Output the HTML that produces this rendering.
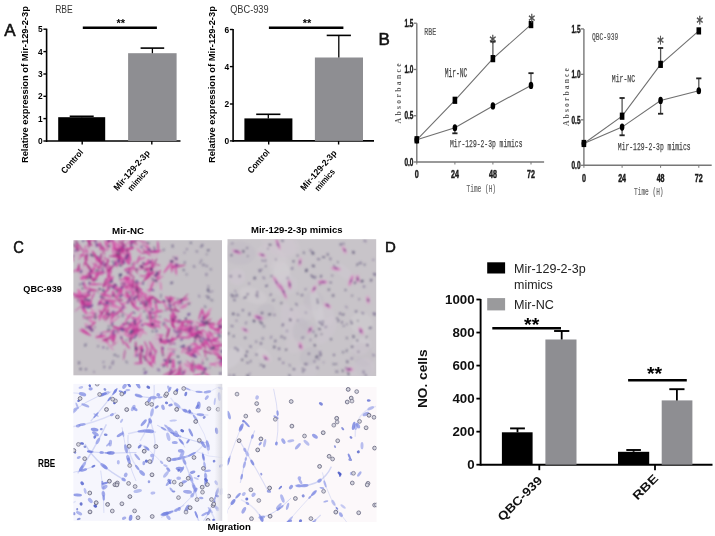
<!DOCTYPE html>
<html><head><meta charset="utf-8"><title>Figure</title>
<style>html,body{margin:0;padding:0;background:#fff;}svg{display:block;}</style></head>
<body><svg width="715" height="536" viewBox="0 0 715 536">
<rect width="715" height="536" fill="#fff"/>
<text x="4.3" y="36" font-family="'Liberation Sans', Arial, sans-serif" font-size="17" fill="#111" stroke="#111" stroke-width="0.55">A</text>
<text x="55.2" y="12.9" font-family="'Liberation Sans', Arial, sans-serif" font-size="10.4" fill="#333" textLength="17.6" lengthAdjust="spacingAndGlyphs">RBE</text>
<line x1="46.6" y1="28.7" x2="46.6" y2="142" stroke="#000" stroke-width="1.6"/>
<line x1="43.4" y1="141" x2="46.6" y2="141" stroke="#000" stroke-width="1.4"/>
<text x="42.6" y="144.0" font-family="'Liberation Sans', Arial, sans-serif" font-size="8.4" font-weight="bold" text-anchor="end" fill="#000">0</text>
<line x1="43.4" y1="118.6" x2="46.6" y2="118.6" stroke="#000" stroke-width="1.4"/>
<text x="42.6" y="121.6" font-family="'Liberation Sans', Arial, sans-serif" font-size="8.4" font-weight="bold" text-anchor="end" fill="#000">1</text>
<line x1="43.4" y1="96.3" x2="46.6" y2="96.3" stroke="#000" stroke-width="1.4"/>
<text x="42.6" y="99.3" font-family="'Liberation Sans', Arial, sans-serif" font-size="8.4" font-weight="bold" text-anchor="end" fill="#000">2</text>
<line x1="43.4" y1="74" x2="46.6" y2="74" stroke="#000" stroke-width="1.4"/>
<text x="42.6" y="77.0" font-family="'Liberation Sans', Arial, sans-serif" font-size="8.4" font-weight="bold" text-anchor="end" fill="#000">3</text>
<line x1="43.4" y1="51.6" x2="46.6" y2="51.6" stroke="#000" stroke-width="1.4"/>
<text x="42.6" y="54.6" font-family="'Liberation Sans', Arial, sans-serif" font-size="8.4" font-weight="bold" text-anchor="end" fill="#000">4</text>
<line x1="43.4" y1="29.2" x2="46.6" y2="29.2" stroke="#000" stroke-width="1.4"/>
<text x="42.6" y="32.2" font-family="'Liberation Sans', Arial, sans-serif" font-size="8.4" font-weight="bold" text-anchor="end" fill="#000">5</text>
<line x1="46.6" y1="141" x2="180.5" y2="141" stroke="#000" stroke-width="1.6"/>
<line x1="82.2" y1="141" x2="82.2" y2="144.6" stroke="#000" stroke-width="1.4"/>
<line x1="151.8" y1="141" x2="151.8" y2="144.6" stroke="#000" stroke-width="1.4"/>
<rect x="58.2" y="117.2" width="47.0" height="23.799999999999997" fill="#000"/>
<rect x="128.1" y="53.2" width="48.5" height="87.8" fill="#8e8e92"/>
<line x1="152.4" y1="53.2" x2="152.4" y2="48.1" stroke="#000" stroke-width="1.3"/>
<line x1="140.6" y1="48.1" x2="164.20000000000002" y2="48.1" stroke="#000" stroke-width="1.6"/>
<line x1="81.7" y1="117.2" x2="81.7" y2="116.3" stroke="#000" stroke-width="1.3"/>
<line x1="69.7" y1="116.3" x2="93.7" y2="116.3" stroke="#000" stroke-width="1.6"/>
<line x1="82.8" y1="27.7" x2="156.9" y2="27.7" stroke="#000" stroke-width="2.4"/>
<text x="120.8" y="27.2" font-family="'Liberation Sans', Arial, sans-serif" font-size="11" font-weight="bold" text-anchor="middle" fill="#000" textLength="8.6" lengthAdjust="spacingAndGlyphs">**</text>
<text transform="translate(28.0,84.6) rotate(-90)" font-family="'Liberation Sans', Arial, sans-serif" font-size="8.8" font-weight="bold" text-anchor="middle" fill="#000" textLength="157" lengthAdjust="spacingAndGlyphs">Relative expression of Mir-129-2-3p</text>
<text transform="translate(74.3,163.4) rotate(-49)" font-family="'Liberation Sans', Arial, sans-serif" font-size="8.9" font-weight="bold" text-anchor="middle" fill="#000" textLength="28.5" lengthAdjust="spacingAndGlyphs">Control</text>
<text transform="translate(133.9,172.3) rotate(-49)" font-family="'Liberation Sans', Arial, sans-serif" font-size="8.9" font-weight="bold" text-anchor="middle" fill="#000" textLength="50" lengthAdjust="spacingAndGlyphs">Mir-129-2-3p</text>
<text transform="translate(140.15,181.85) rotate(-49)" font-family="'Liberation Sans', Arial, sans-serif" font-size="8.8" font-weight="bold" text-anchor="middle" fill="#000" textLength="26" lengthAdjust="spacingAndGlyphs">mimics</text>
<text x="230.2" y="12.9" font-family="'Liberation Sans', Arial, sans-serif" font-size="10.4" fill="#333" textLength="38.4" lengthAdjust="spacingAndGlyphs">QBC-939</text>
<line x1="233.1" y1="29.0" x2="233.1" y2="141.9" stroke="#000" stroke-width="1.6"/>
<line x1="229.9" y1="140.9" x2="233.1" y2="140.9" stroke="#000" stroke-width="1.4"/>
<text x="229.1" y="143.9" font-family="'Liberation Sans', Arial, sans-serif" font-size="8.4" font-weight="bold" text-anchor="end" fill="#000">0</text>
<line x1="229.9" y1="104" x2="233.1" y2="104" stroke="#000" stroke-width="1.4"/>
<text x="229.1" y="107.0" font-family="'Liberation Sans', Arial, sans-serif" font-size="8.4" font-weight="bold" text-anchor="end" fill="#000">2</text>
<line x1="229.9" y1="66.6" x2="233.1" y2="66.6" stroke="#000" stroke-width="1.4"/>
<text x="229.1" y="69.6" font-family="'Liberation Sans', Arial, sans-serif" font-size="8.4" font-weight="bold" text-anchor="end" fill="#000">4</text>
<line x1="229.9" y1="29.5" x2="233.1" y2="29.5" stroke="#000" stroke-width="1.4"/>
<text x="229.1" y="32.5" font-family="'Liberation Sans', Arial, sans-serif" font-size="8.4" font-weight="bold" text-anchor="end" fill="#000">6</text>
<line x1="233.1" y1="140.9" x2="374" y2="140.9" stroke="#000" stroke-width="1.6"/>
<line x1="268.7" y1="140.9" x2="268.7" y2="144.5" stroke="#000" stroke-width="1.4"/>
<line x1="338.6" y1="140.9" x2="338.6" y2="144.5" stroke="#000" stroke-width="1.4"/>
<rect x="244.4" y="118.4" width="47.99999999999997" height="22.5" fill="#000"/>
<rect x="314.9" y="57.5" width="48.10000000000002" height="83.4" fill="#8e8e92"/>
<line x1="268.3" y1="118.4" x2="268.3" y2="114.3" stroke="#000" stroke-width="1.3"/>
<line x1="256.2" y1="114.3" x2="280.40000000000003" y2="114.3" stroke="#000" stroke-width="1.6"/>
<line x1="338.8" y1="57.5" x2="338.8" y2="35.4" stroke="#000" stroke-width="1.3"/>
<line x1="326.7" y1="35.4" x2="350.90000000000003" y2="35.4" stroke="#000" stroke-width="1.6"/>
<line x1="268.9" y1="27.7" x2="343.4" y2="27.7" stroke="#000" stroke-width="2.4"/>
<text x="307.0" y="27.2" font-family="'Liberation Sans', Arial, sans-serif" font-size="11" font-weight="bold" text-anchor="middle" fill="#000" textLength="8.6" lengthAdjust="spacingAndGlyphs">**</text>
<text transform="translate(214.9,84.6) rotate(-90)" font-family="'Liberation Sans', Arial, sans-serif" font-size="8.8" font-weight="bold" text-anchor="middle" fill="#000" textLength="157" lengthAdjust="spacingAndGlyphs">Relative expression of Mir-129-2-3p</text>
<text transform="translate(260.8,163.2) rotate(-49)" font-family="'Liberation Sans', Arial, sans-serif" font-size="8.9" font-weight="bold" text-anchor="middle" fill="#000" textLength="28.5" lengthAdjust="spacingAndGlyphs">Control</text>
<text transform="translate(320.7,172.3) rotate(-49)" font-family="'Liberation Sans', Arial, sans-serif" font-size="8.9" font-weight="bold" text-anchor="middle" fill="#000" textLength="50" lengthAdjust="spacingAndGlyphs">Mir-129-2-3p</text>
<text transform="translate(326.95,181.85) rotate(-49)" font-family="'Liberation Sans', Arial, sans-serif" font-size="8.8" font-weight="bold" text-anchor="middle" fill="#000" textLength="26" lengthAdjust="spacingAndGlyphs">mimics</text>
<text x="378.6" y="44.8" font-family="'Liberation Sans', Arial, sans-serif" font-size="17" fill="#111" stroke="#111" stroke-width="0.55">B</text>
<line x1="416.8" y1="23.2" x2="416.8" y2="162.6" stroke="#777" stroke-width="1.4"/>
<line x1="413.8" y1="162.0" x2="416.8" y2="162.0" stroke="#777" stroke-width="1.3"/>
<text x="413.40000000000003" y="165.7" font-family="'Liberation Sans', Arial, sans-serif" font-size="10.5" font-weight="bold" text-anchor="end" fill="#1a1a1a" textLength="9" lengthAdjust="spacingAndGlyphs" stroke="#1a1a1a" stroke-width="0.45">0.0</text>
<line x1="413.8" y1="115.73333333333332" x2="416.8" y2="115.73333333333332" stroke="#777" stroke-width="1.3"/>
<text x="413.40000000000003" y="119.43333333333332" font-family="'Liberation Sans', Arial, sans-serif" font-size="10.5" font-weight="bold" text-anchor="end" fill="#1a1a1a" textLength="9" lengthAdjust="spacingAndGlyphs" stroke="#1a1a1a" stroke-width="0.45">0.5</text>
<line x1="413.8" y1="69.46666666666665" x2="416.8" y2="69.46666666666665" stroke="#777" stroke-width="1.3"/>
<text x="413.40000000000003" y="73.16666666666666" font-family="'Liberation Sans', Arial, sans-serif" font-size="10.5" font-weight="bold" text-anchor="end" fill="#1a1a1a" textLength="9" lengthAdjust="spacingAndGlyphs" stroke="#1a1a1a" stroke-width="0.45">1.0</text>
<line x1="413.8" y1="23.19999999999999" x2="416.8" y2="23.19999999999999" stroke="#777" stroke-width="1.3"/>
<text x="413.40000000000003" y="26.899999999999988" font-family="'Liberation Sans', Arial, sans-serif" font-size="10.5" font-weight="bold" text-anchor="end" fill="#1a1a1a" textLength="9" lengthAdjust="spacingAndGlyphs" stroke="#1a1a1a" stroke-width="0.45">1.5</text>
<line x1="416.8" y1="162.0" x2="544.1" y2="162.0" stroke="#777" stroke-width="1.6"/>
<line x1="416.8" y1="162.0" x2="416.8" y2="164.5" stroke="#777" stroke-width="1"/>
<text x="416.8" y="178.3" font-family="'Liberation Sans', Arial, sans-serif" font-size="10.5" font-weight="bold" text-anchor="middle" fill="#1a1a1a" textLength="4" lengthAdjust="spacingAndGlyphs" stroke="#1a1a1a" stroke-width="0.45">0</text>
<line x1="454.9" y1="162.0" x2="454.9" y2="164.5" stroke="#777" stroke-width="1"/>
<text x="454.9" y="178.3" font-family="'Liberation Sans', Arial, sans-serif" font-size="10.5" font-weight="bold" text-anchor="middle" fill="#1a1a1a" textLength="7.9" lengthAdjust="spacingAndGlyphs" stroke="#1a1a1a" stroke-width="0.45">24</text>
<line x1="492.9" y1="162.0" x2="492.9" y2="164.5" stroke="#777" stroke-width="1"/>
<text x="492.9" y="178.3" font-family="'Liberation Sans', Arial, sans-serif" font-size="10.5" font-weight="bold" text-anchor="middle" fill="#1a1a1a" textLength="7.9" lengthAdjust="spacingAndGlyphs" stroke="#1a1a1a" stroke-width="0.45">48</text>
<line x1="531.0" y1="162.0" x2="531.0" y2="164.5" stroke="#777" stroke-width="1"/>
<text x="531.0" y="178.3" font-family="'Liberation Sans', Arial, sans-serif" font-size="10.5" font-weight="bold" text-anchor="middle" fill="#1a1a1a" textLength="7.9" lengthAdjust="spacingAndGlyphs" stroke="#1a1a1a" stroke-width="0.45">72</text>
<polyline points="416.8,139.8 454.9,100.3 492.9,58.6 531.0,24.6" fill="none" stroke="#707070" stroke-width="1.1"/>
<polyline points="416.8,139.8 454.9,127.8 492.9,105.9 531.0,85.5" fill="none" stroke="#707070" stroke-width="1.1"/>
<line x1="492.9" y1="58.64026666666665" x2="492.9" y2="41.70666666666665" stroke="#555" stroke-width="1.3"/>
<line x1="490.29999999999995" y1="41.70666666666665" x2="495.5" y2="41.70666666666665" stroke="#222" stroke-width="1.8"/>
<line x1="531.0" y1="85.47493333333333" x2="531.0" y2="73.16799999999999" stroke="#555" stroke-width="1.3"/>
<line x1="528.4" y1="73.16799999999999" x2="533.6" y2="73.16799999999999" stroke="#222" stroke-width="1.8"/>
<line x1="454.9" y1="127.76266666666666" x2="454.9" y2="133.31466666666665" stroke="#555" stroke-width="1.3"/>
<line x1="452.29999999999995" y1="133.31466666666665" x2="457.5" y2="133.31466666666665" stroke="#222" stroke-width="1.8"/>
<rect x="414.5" y="136.192" width="4.6" height="7.2" fill="#000"/>
<rect x="452.59999999999997" y="96.68026666666665" width="4.6" height="7.2" fill="#000"/>
<rect x="490.59999999999997" y="55.040266666666646" width="4.6" height="7.2" fill="#000"/>
<rect x="528.7" y="20.987999999999964" width="4.6" height="7.2" fill="#000"/>
<ellipse cx="416.8" cy="139.792" rx="2.3" ry="3.6" fill="#000"/>
<ellipse cx="454.9" cy="127.76266666666666" rx="2.3" ry="3.6" fill="#000"/>
<ellipse cx="492.9" cy="105.9248" rx="2.3" ry="3.6" fill="#000"/>
<ellipse cx="531.0" cy="85.47493333333333" rx="2.3" ry="3.6" fill="#000"/>
<text transform="translate(492.7,38.8) scale(1,1.4)" x="0" y="6.8" font-family="DejaVu Sans, sans-serif" font-size="13" text-anchor="middle" fill="#4a4a4a" stroke="#4a4a4a" stroke-width="0.35">*</text>
<text transform="translate(531.8,17.2) scale(1,1.4)" x="0" y="6.8" font-family="DejaVu Sans, sans-serif" font-size="13" text-anchor="middle" fill="#4a4a4a" stroke="#4a4a4a" stroke-width="0.35">*</text>
<text x="424.2" y="35" font-family="'Liberation Mono', monospace" font-size="11" fill="#555" textLength="12" lengthAdjust="spacingAndGlyphs" stroke="#555" stroke-width="0.2">RBE</text>
<text x="444.7" y="77.3" font-family="'Liberation Mono', monospace" font-size="12" fill="#444" textLength="22.7" lengthAdjust="spacingAndGlyphs" stroke="#444" stroke-width="0.25">Mir-NC</text>
<text x="450" y="147" font-family="'Liberation Mono', monospace" font-size="11.5" fill="#444" textLength="72.5" lengthAdjust="spacingAndGlyphs" stroke="#444" stroke-width="0.25">Mir-129-2-3p mimics</text>
<text x="466.6" y="191.6" font-family="'Liberation Mono', monospace" font-size="11" fill="#666" textLength="29.4" lengthAdjust="spacingAndGlyphs" stroke="#666" stroke-width="0.2">Time (H)</text>
<text transform="translate(400.9,93.4) rotate(-90)" font-family="'Liberation Serif', serif" font-size="7.6" font-weight="bold" text-anchor="middle" fill="#5a5a5a" textLength="60" lengthAdjust="spacing">Absorbance</text>
<line x1="583.9" y1="28.9" x2="583.9" y2="165.9" stroke="#777" stroke-width="1.4"/>
<line x1="580.9" y1="165.3" x2="583.9" y2="165.3" stroke="#777" stroke-width="1.3"/>
<text x="580.5" y="169.0" font-family="'Liberation Sans', Arial, sans-serif" font-size="10.5" font-weight="bold" text-anchor="end" fill="#1a1a1a" textLength="9" lengthAdjust="spacingAndGlyphs" stroke="#1a1a1a" stroke-width="0.45">0.0</text>
<line x1="580.9" y1="119.83333333333334" x2="583.9" y2="119.83333333333334" stroke="#777" stroke-width="1.3"/>
<text x="580.5" y="123.53333333333335" font-family="'Liberation Sans', Arial, sans-serif" font-size="10.5" font-weight="bold" text-anchor="end" fill="#1a1a1a" textLength="9" lengthAdjust="spacingAndGlyphs" stroke="#1a1a1a" stroke-width="0.45">0.5</text>
<line x1="580.9" y1="74.36666666666667" x2="583.9" y2="74.36666666666667" stroke="#777" stroke-width="1.3"/>
<text x="580.5" y="78.06666666666668" font-family="'Liberation Sans', Arial, sans-serif" font-size="10.5" font-weight="bold" text-anchor="end" fill="#1a1a1a" textLength="9" lengthAdjust="spacingAndGlyphs" stroke="#1a1a1a" stroke-width="0.45">1.0</text>
<line x1="580.9" y1="28.900000000000006" x2="583.9" y2="28.900000000000006" stroke="#777" stroke-width="1.3"/>
<text x="580.5" y="32.60000000000001" font-family="'Liberation Sans', Arial, sans-serif" font-size="10.5" font-weight="bold" text-anchor="end" fill="#1a1a1a" textLength="9" lengthAdjust="spacingAndGlyphs" stroke="#1a1a1a" stroke-width="0.45">1.5</text>
<line x1="583.9" y1="165.3" x2="711.7" y2="165.3" stroke="#777" stroke-width="1.6"/>
<line x1="583.9" y1="165.3" x2="583.9" y2="167.8" stroke="#777" stroke-width="1"/>
<text x="583.9" y="181.60000000000002" font-family="'Liberation Sans', Arial, sans-serif" font-size="10.5" font-weight="bold" text-anchor="middle" fill="#1a1a1a" textLength="4" lengthAdjust="spacingAndGlyphs" stroke="#1a1a1a" stroke-width="0.45">0</text>
<line x1="622.1" y1="165.3" x2="622.1" y2="167.8" stroke="#777" stroke-width="1"/>
<text x="622.1" y="181.60000000000002" font-family="'Liberation Sans', Arial, sans-serif" font-size="10.5" font-weight="bold" text-anchor="middle" fill="#1a1a1a" textLength="7.9" lengthAdjust="spacingAndGlyphs" stroke="#1a1a1a" stroke-width="0.45">24</text>
<line x1="660.6" y1="165.3" x2="660.6" y2="167.8" stroke="#777" stroke-width="1"/>
<text x="660.6" y="181.60000000000002" font-family="'Liberation Sans', Arial, sans-serif" font-size="10.5" font-weight="bold" text-anchor="middle" fill="#1a1a1a" textLength="7.9" lengthAdjust="spacingAndGlyphs" stroke="#1a1a1a" stroke-width="0.45">48</text>
<line x1="698.8" y1="165.3" x2="698.8" y2="167.8" stroke="#777" stroke-width="1"/>
<text x="698.8" y="181.60000000000002" font-family="'Liberation Sans', Arial, sans-serif" font-size="10.5" font-weight="bold" text-anchor="middle" fill="#1a1a1a" textLength="7.9" lengthAdjust="spacingAndGlyphs" stroke="#1a1a1a" stroke-width="0.45">72</text>
<polyline points="583.9,143.5 622.1,116.2 660.6,64.4 698.8,30.9" fill="none" stroke="#707070" stroke-width="1.1"/>
<polyline points="583.9,143.5 622.1,127.1 660.6,100.5 698.8,90.7" fill="none" stroke="#707070" stroke-width="1.1"/>
<line x1="622.1" y1="116.196" x2="622.1" y2="98.00933333333334" stroke="#555" stroke-width="1.3"/>
<line x1="619.5" y1="98.00933333333334" x2="624.7" y2="98.00933333333334" stroke="#222" stroke-width="1.8"/>
<line x1="660.6" y1="64.364" x2="660.6" y2="47.99600000000001" stroke="#555" stroke-width="1.3"/>
<line x1="658.0" y1="47.99600000000001" x2="663.2" y2="47.99600000000001" stroke="#222" stroke-width="1.8"/>
<line x1="622.1" y1="127.108" x2="622.1" y2="135.292" stroke="#555" stroke-width="1.3"/>
<line x1="619.5" y1="135.292" x2="624.7" y2="135.292" stroke="#222" stroke-width="1.8"/>
<line x1="660.6" y1="100.46453333333335" x2="660.6" y2="113.74080000000001" stroke="#555" stroke-width="1.3"/>
<line x1="658.0" y1="113.74080000000001" x2="663.2" y2="113.74080000000001" stroke="#222" stroke-width="1.8"/>
<line x1="698.8" y1="90.73466666666668" x2="698.8" y2="78.36773333333335" stroke="#555" stroke-width="1.3"/>
<line x1="696.1999999999999" y1="78.36773333333335" x2="701.4" y2="78.36773333333335" stroke="#222" stroke-width="1.8"/>
<rect x="581.6" y="139.876" width="4.6" height="7.2" fill="#000"/>
<rect x="619.8000000000001" y="112.596" width="4.6" height="7.2" fill="#000"/>
<rect x="658.3000000000001" y="60.764" width="4.6" height="7.2" fill="#000"/>
<rect x="696.5" y="27.300533333333327" width="4.6" height="7.2" fill="#000"/>
<ellipse cx="583.9" cy="143.476" rx="2.3" ry="3.6" fill="#000"/>
<ellipse cx="622.1" cy="127.108" rx="2.3" ry="3.6" fill="#000"/>
<ellipse cx="660.6" cy="100.46453333333335" rx="2.3" ry="3.6" fill="#000"/>
<ellipse cx="698.8" cy="90.73466666666668" rx="2.3" ry="3.6" fill="#000"/>
<text transform="translate(660.5,39.4) scale(1,1.4)" x="0" y="6.8" font-family="DejaVu Sans, sans-serif" font-size="13" text-anchor="middle" fill="#4a4a4a" stroke="#4a4a4a" stroke-width="0.35">*</text>
<text transform="translate(699.7,19.6) scale(1,1.4)" x="0" y="6.8" font-family="DejaVu Sans, sans-serif" font-size="13" text-anchor="middle" fill="#4a4a4a" stroke="#4a4a4a" stroke-width="0.35">*</text>
<text x="591.9" y="40.1" font-family="'Liberation Mono', monospace" font-size="10.5" fill="#555" textLength="26.5" lengthAdjust="spacingAndGlyphs" stroke="#555" stroke-width="0.2">QBC-939</text>
<text x="611.8" y="82" font-family="'Liberation Mono', monospace" font-size="11.2" fill="#444" textLength="23.3" lengthAdjust="spacingAndGlyphs" stroke="#444" stroke-width="0.25">Mir-NC</text>
<text x="617.8" y="150" font-family="'Liberation Mono', monospace" font-size="11.5" fill="#444" textLength="72.8" lengthAdjust="spacingAndGlyphs" stroke="#444" stroke-width="0.25">Mir-129-2-3p mimics</text>
<text x="634.1" y="194.6" font-family="'Liberation Mono', monospace" font-size="11" fill="#666" textLength="29.4" lengthAdjust="spacingAndGlyphs" stroke="#666" stroke-width="0.2">Time (H)</text>
<text transform="translate(568.6,97) rotate(-90)" font-family="'Liberation Serif', serif" font-size="7.6" font-weight="bold" text-anchor="middle" fill="#5a5a5a" textLength="58" lengthAdjust="spacing">Absorbance</text>
<text x="13.2" y="252.5" font-family="'Liberation Sans', Arial, sans-serif" font-size="17" fill="#111" textLength="10.6" lengthAdjust="spacingAndGlyphs" stroke="#111" stroke-width="0.55">C</text>
<text x="112" y="234.4" font-family="'Liberation Sans', Arial, sans-serif" font-size="9.6" font-weight="bold" fill="#000" textLength="32" lengthAdjust="spacingAndGlyphs">Mir-NC</text>
<text x="251" y="232.9" font-family="'Liberation Sans', Arial, sans-serif" font-size="9.6" font-weight="bold" fill="#000" textLength="91.6" lengthAdjust="spacingAndGlyphs">Mir-129-2-3p mimics</text>
<text x="23.3" y="292.2" font-family="'Liberation Sans', Arial, sans-serif" font-size="9.8" font-weight="bold" fill="#000" textLength="38.5" lengthAdjust="spacingAndGlyphs">QBC-939</text>
<text x="38.0" y="467.4" font-family="'Liberation Sans', Arial, sans-serif" font-size="10.4" font-weight="bold" fill="#000" textLength="17.2" lengthAdjust="spacingAndGlyphs">RBE</text>
<text x="207.5" y="529.6" font-family="'Liberation Sans', Arial, sans-serif" font-size="9.6" font-weight="bold" fill="#000" textLength="43.4" lengthAdjust="spacingAndGlyphs">Migration</text>
<defs><clipPath id="c1"><rect x="73.4" y="240.2" width="148.6" height="135.1"/></clipPath><clipPath id="c2"><rect x="227.5" y="239.2" width="148.7" height="136.8"/></clipPath><clipPath id="c3"><rect x="73.4" y="383.9" width="148.8" height="136.9"/></clipPath><clipPath id="c4"><rect x="227.6" y="387.0" width="149" height="135.0"/></clipPath><filter id="bl" x="0" y="0" width="1" height="1"><feGaussianBlur stdDeviation="0.8"/></filter><filter id="bl2" x="0" y="0" width="1" height="1"><feGaussianBlur stdDeviation="0.65"/></filter><filter id="bl4" x="0" y="0" width="1" height="1"><feGaussianBlur stdDeviation="0.9"/></filter><filter id="bl3" x="0" y="0" width="1" height="1"><feGaussianBlur stdDeviation="0.45"/></filter><linearGradient id="vg" x1="0" x2="1" y1="0" y2="0"><stop offset="0" stop-color="#e4e4ea" stop-opacity="0"/><stop offset="1" stop-color="#d8d8e0" stop-opacity="1"/></linearGradient></defs>
<rect x="73.4" y="240.2" width="148.6" height="135.1" fill="#c5c1c6"/>
<g clip-path="url(#c1)" filter="url(#bl)">
<ellipse cx="73.6" cy="252.6" rx="7.1" ry="4.4" transform="rotate(53 73.6 252.6)" fill="#d89ac4" fill-opacity="0.29"/>
<ellipse cx="71.8" cy="257.8" rx="4.0" ry="1.1" transform="rotate(64 71.8 257.8)" fill="#c03090" fill-opacity="0.76"/>
<ellipse cx="80.0" cy="246.9" rx="6.9" ry="0.9" transform="rotate(54 80.0 246.9)" fill="#c03090" fill-opacity="0.71"/>
<ellipse cx="67.6" cy="257.3" rx="4.3" ry="1.0" transform="rotate(6 67.6 257.3)" fill="#b02a88" fill-opacity="0.94"/>
<ellipse cx="77.0" cy="245.6" rx="6.8" ry="1.2" transform="rotate(80 77.0 245.6)" fill="#c03090" fill-opacity="0.74"/>
<ellipse cx="75.7" cy="247.1" rx="5.7" ry="0.8" transform="rotate(41 75.7 247.1)" fill="#b02a88" fill-opacity="0.83"/>
<ellipse cx="76.0" cy="250.4" rx="2.1" ry="1.0" transform="rotate(144 76.0 250.4)" fill="#60408c" fill-opacity="0.72"/>
<ellipse cx="73.0" cy="255.9" rx="1.2" ry="1.4" transform="rotate(54 73.0 255.9)" fill="#52387e" fill-opacity="0.69"/>
<ellipse cx="96.3" cy="242.6" rx="6.1" ry="5.4" transform="rotate(58 96.3 242.6)" fill="#d89ac4" fill-opacity="0.23"/>
<ellipse cx="100.3" cy="246.4" rx="4.5" ry="1.1" transform="rotate(84 100.3 246.4)" fill="#c8409e" fill-opacity="0.84"/>
<ellipse cx="89.5" cy="242.4" rx="6.1" ry="1.3" transform="rotate(100 89.5 242.4)" fill="#b02a88" fill-opacity="0.71"/>
<ellipse cx="100.0" cy="245.3" rx="5.2" ry="0.7" transform="rotate(24 100.0 245.3)" fill="#d450a8" fill-opacity="0.72"/>
<ellipse cx="91.6" cy="239.6" rx="5.1" ry="1.0" transform="rotate(8 91.6 239.6)" fill="#cc3a9c" fill-opacity="0.85"/>
<ellipse cx="101.7" cy="247.3" rx="6.7" ry="1.2" transform="rotate(34 101.7 247.3)" fill="#c8409e" fill-opacity="0.67"/>
<ellipse cx="95.6" cy="240.5" rx="2.1" ry="0.9" transform="rotate(59 95.6 240.5)" fill="#6c4494" fill-opacity="0.70"/>
<ellipse cx="96.8" cy="245.1" rx="2.1" ry="1.4" transform="rotate(92 96.8 245.1)" fill="#6c4494" fill-opacity="0.74"/>
<ellipse cx="110.0" cy="243.1" rx="6.6" ry="4.3" transform="rotate(111 110.0 243.1)" fill="#d89ac4" fill-opacity="0.34"/>
<ellipse cx="110.9" cy="237.9" rx="5.0" ry="1.2" transform="rotate(150 110.9 237.9)" fill="#cc3a9c" fill-opacity="0.73"/>
<ellipse cx="108.9" cy="241.2" rx="5.1" ry="1.0" transform="rotate(124 108.9 241.2)" fill="#cc3a9c" fill-opacity="0.70"/>
<ellipse cx="115.3" cy="245.0" rx="4.1" ry="1.0" transform="rotate(98 115.3 245.0)" fill="#d450a8" fill-opacity="0.78"/>
<ellipse cx="106.7" cy="246.4" rx="4.9" ry="0.9" transform="rotate(64 106.7 246.4)" fill="#d450a8" fill-opacity="0.69"/>
<ellipse cx="103.0" cy="249.7" rx="6.2" ry="0.7" transform="rotate(72 103.0 249.7)" fill="#c03090" fill-opacity="0.91"/>
<ellipse cx="109.8" cy="239.9" rx="3.8" ry="0.9" transform="rotate(93 109.8 239.9)" fill="#c8409e" fill-opacity="0.67"/>
<ellipse cx="108.9" cy="246.0" rx="1.6" ry="1.0" transform="rotate(25 108.9 246.0)" fill="#44306c" fill-opacity="0.71"/>
<ellipse cx="109.4" cy="239.2" rx="1.2" ry="1.2" transform="rotate(142 109.4 239.2)" fill="#44306c" fill-opacity="0.76"/>
<ellipse cx="116.0" cy="243.8" rx="7.7" ry="4.5" transform="rotate(87 116.0 243.8)" fill="#d89ac4" fill-opacity="0.29"/>
<ellipse cx="122.7" cy="240.8" rx="6.4" ry="0.8" transform="rotate(89 122.7 240.8)" fill="#b02a88" fill-opacity="0.80"/>
<ellipse cx="122.5" cy="250.6" rx="3.1" ry="1.0" transform="rotate(96 122.5 250.6)" fill="#d450a8" fill-opacity="0.83"/>
<ellipse cx="119.9" cy="239.1" rx="4.7" ry="0.7" transform="rotate(103 119.9 239.1)" fill="#c8409e" fill-opacity="0.76"/>
<ellipse cx="120.4" cy="246.0" rx="3.1" ry="1.0" transform="rotate(41 120.4 246.0)" fill="#d450a8" fill-opacity="0.77"/>
<ellipse cx="113.2" cy="242.1" rx="5.5" ry="1.0" transform="rotate(85 113.2 242.1)" fill="#cc3a9c" fill-opacity="0.68"/>
<ellipse cx="112.3" cy="240.2" rx="2.0" ry="1.2" transform="rotate(82 112.3 240.2)" fill="#6c4494" fill-opacity="0.67"/>
<ellipse cx="121.3" cy="251.4" rx="7.8" ry="4.5" transform="rotate(29 121.3 251.4)" fill="#d89ac4" fill-opacity="0.35"/>
<ellipse cx="127.2" cy="257.0" rx="5.2" ry="1.3" transform="rotate(43 127.2 257.0)" fill="#c03090" fill-opacity="0.85"/>
<ellipse cx="120.7" cy="255.0" rx="5.6" ry="0.7" transform="rotate(69 120.7 255.0)" fill="#cc3a9c" fill-opacity="0.82"/>
<ellipse cx="116.0" cy="248.1" rx="3.9" ry="1.3" transform="rotate(1 116.0 248.1)" fill="#d450a8" fill-opacity="0.87"/>
<ellipse cx="120.5" cy="250.0" rx="4.0" ry="1.0" transform="rotate(62 120.5 250.0)" fill="#b02a88" fill-opacity="0.68"/>
<ellipse cx="114.7" cy="257.2" rx="6.6" ry="0.9" transform="rotate(19 114.7 257.2)" fill="#da68b2" fill-opacity="0.67"/>
<ellipse cx="120.8" cy="249.0" rx="4.8" ry="1.0" transform="rotate(-8 120.8 249.0)" fill="#c03090" fill-opacity="0.87"/>
<ellipse cx="127.9" cy="249.8" rx="5.3" ry="1.1" transform="rotate(58 127.9 249.8)" fill="#da68b2" fill-opacity="0.65"/>
<ellipse cx="123.0" cy="247.6" rx="2.1" ry="1.3" transform="rotate(124 123.0 247.6)" fill="#60408c" fill-opacity="0.86"/>
<ellipse cx="119.7" cy="253.2" rx="1.5" ry="1.4" transform="rotate(177 119.7 253.2)" fill="#60408c" fill-opacity="0.67"/>
<ellipse cx="123.6" cy="249.4" rx="1.7" ry="0.9" transform="rotate(101 123.6 249.4)" fill="#60408c" fill-opacity="0.74"/>
<ellipse cx="119.9" cy="249.3" rx="6.9" ry="4.4" transform="rotate(55 119.9 249.3)" fill="#d89ac4" fill-opacity="0.27"/>
<ellipse cx="124.0" cy="251.3" rx="5.6" ry="1.0" transform="rotate(61 124.0 251.3)" fill="#d450a8" fill-opacity="0.80"/>
<ellipse cx="120.4" cy="251.6" rx="6.9" ry="1.1" transform="rotate(96 120.4 251.6)" fill="#c03090" fill-opacity="0.92"/>
<ellipse cx="113.6" cy="243.7" rx="6.6" ry="0.8" transform="rotate(71 113.6 243.7)" fill="#c8409e" fill-opacity="0.87"/>
<ellipse cx="119.6" cy="256.1" rx="5.8" ry="0.8" transform="rotate(48 119.6 256.1)" fill="#b02a88" fill-opacity="0.65"/>
<ellipse cx="119.3" cy="251.1" rx="4.4" ry="1.2" transform="rotate(32 119.3 251.1)" fill="#c03090" fill-opacity="0.77"/>
<ellipse cx="117.3" cy="251.1" rx="4.3" ry="0.7" transform="rotate(29 117.3 251.1)" fill="#b02a88" fill-opacity="0.91"/>
<ellipse cx="113.3" cy="251.7" rx="5.0" ry="1.1" transform="rotate(81 113.3 251.7)" fill="#da68b2" fill-opacity="0.90"/>
<ellipse cx="122.3" cy="246.4" rx="1.6" ry="0.9" transform="rotate(135 122.3 246.4)" fill="#60408c" fill-opacity="0.76"/>
<ellipse cx="119.7" cy="250.3" rx="1.5" ry="1.0" transform="rotate(174 119.7 250.3)" fill="#60408c" fill-opacity="0.89"/>
<ellipse cx="134.3" cy="243.0" rx="8.1" ry="5.4" transform="rotate(8 134.3 243.0)" fill="#d89ac4" fill-opacity="0.32"/>
<ellipse cx="129.0" cy="236.9" rx="5.6" ry="0.7" transform="rotate(-7 129.0 236.9)" fill="#b02a88" fill-opacity="0.72"/>
<ellipse cx="134.8" cy="239.9" rx="5.5" ry="1.0" transform="rotate(-6 134.8 239.9)" fill="#c8409e" fill-opacity="0.66"/>
<ellipse cx="129.0" cy="242.1" rx="5.6" ry="0.8" transform="rotate(-31 129.0 242.1)" fill="#da68b2" fill-opacity="0.74"/>
<ellipse cx="128.1" cy="237.8" rx="5.1" ry="1.1" transform="rotate(-20 128.1 237.8)" fill="#d450a8" fill-opacity="0.93"/>
<ellipse cx="127.9" cy="249.1" rx="6.7" ry="1.2" transform="rotate(-18 127.9 249.1)" fill="#cc3a9c" fill-opacity="0.89"/>
<ellipse cx="129.2" cy="236.5" rx="4.5" ry="1.0" transform="rotate(-39 129.2 236.5)" fill="#c03090" fill-opacity="0.85"/>
<ellipse cx="134.5" cy="242.9" rx="3.4" ry="1.1" transform="rotate(32 134.5 242.9)" fill="#cc3a9c" fill-opacity="0.67"/>
<ellipse cx="131.3" cy="241.9" rx="2.2" ry="1.0" transform="rotate(97 131.3 241.9)" fill="#6c4494" fill-opacity="0.67"/>
<ellipse cx="131.6" cy="242.8" rx="1.7" ry="1.2" transform="rotate(23 131.6 242.8)" fill="#52387e" fill-opacity="0.77"/>
<ellipse cx="151.5" cy="251.8" rx="8.2" ry="4.5" transform="rotate(27 151.5 251.8)" fill="#d89ac4" fill-opacity="0.31"/>
<ellipse cx="154.3" cy="252.0" rx="4.5" ry="0.9" transform="rotate(-1 154.3 252.0)" fill="#cc3a9c" fill-opacity="0.92"/>
<ellipse cx="146.0" cy="252.3" rx="4.9" ry="1.0" transform="rotate(-14 146.0 252.3)" fill="#b02a88" fill-opacity="0.68"/>
<ellipse cx="146.0" cy="246.9" rx="6.0" ry="0.7" transform="rotate(41 146.0 246.9)" fill="#c8409e" fill-opacity="0.73"/>
<ellipse cx="146.4" cy="252.1" rx="6.2" ry="1.1" transform="rotate(41 146.4 252.1)" fill="#c8409e" fill-opacity="0.69"/>
<ellipse cx="147.9" cy="246.4" rx="4.3" ry="0.9" transform="rotate(73 147.9 246.4)" fill="#da68b2" fill-opacity="0.83"/>
<ellipse cx="148.2" cy="250.0" rx="4.2" ry="0.9" transform="rotate(67 148.2 250.0)" fill="#da68b2" fill-opacity="0.86"/>
<ellipse cx="151.1" cy="251.6" rx="1.2" ry="1.1" transform="rotate(105 151.1 251.6)" fill="#44306c" fill-opacity="0.70"/>
<ellipse cx="149.0" cy="249.5" rx="1.9" ry="1.4" transform="rotate(177 149.0 249.5)" fill="#60408c" fill-opacity="0.70"/>
<ellipse cx="89.1" cy="257.0" rx="8.9" ry="5.6" transform="rotate(95 89.1 257.0)" fill="#d89ac4" fill-opacity="0.28"/>
<ellipse cx="86.9" cy="251.3" rx="3.1" ry="0.9" transform="rotate(76 86.9 251.3)" fill="#cc3a9c" fill-opacity="0.67"/>
<ellipse cx="95.5" cy="256.4" rx="6.9" ry="1.1" transform="rotate(60 95.5 256.4)" fill="#b02a88" fill-opacity="0.76"/>
<ellipse cx="85.6" cy="262.0" rx="4.7" ry="1.2" transform="rotate(116 85.6 262.0)" fill="#c03090" fill-opacity="0.77"/>
<ellipse cx="82.3" cy="254.9" rx="6.8" ry="1.0" transform="rotate(128 82.3 254.9)" fill="#d450a8" fill-opacity="0.69"/>
<ellipse cx="86.0" cy="257.4" rx="3.1" ry="1.3" transform="rotate(111 86.0 257.4)" fill="#b02a88" fill-opacity="0.80"/>
<ellipse cx="87.1" cy="255.2" rx="1.1" ry="1.0" transform="rotate(68 87.1 255.2)" fill="#52387e" fill-opacity="0.70"/>
<ellipse cx="103.3" cy="264.0" rx="7.0" ry="4.8" transform="rotate(75 103.3 264.0)" fill="#d89ac4" fill-opacity="0.26"/>
<ellipse cx="97.1" cy="266.2" rx="5.9" ry="1.3" transform="rotate(35 97.1 266.2)" fill="#c8409e" fill-opacity="0.65"/>
<ellipse cx="107.1" cy="263.5" rx="5.2" ry="1.1" transform="rotate(106 107.1 263.5)" fill="#b02a88" fill-opacity="0.78"/>
<ellipse cx="107.6" cy="269.7" rx="3.3" ry="1.2" transform="rotate(69 107.6 269.7)" fill="#b02a88" fill-opacity="0.78"/>
<ellipse cx="110.1" cy="269.1" rx="4.3" ry="0.9" transform="rotate(81 110.1 269.1)" fill="#c8409e" fill-opacity="0.73"/>
<ellipse cx="100.8" cy="258.2" rx="6.1" ry="1.0" transform="rotate(98 100.8 258.2)" fill="#b02a88" fill-opacity="0.81"/>
<ellipse cx="101.0" cy="264.7" rx="6.2" ry="1.0" transform="rotate(124 101.0 264.7)" fill="#b02a88" fill-opacity="0.89"/>
<ellipse cx="106.0" cy="264.5" rx="5.8" ry="0.9" transform="rotate(35 106.0 264.5)" fill="#c8409e" fill-opacity="0.79"/>
<ellipse cx="105.2" cy="264.6" rx="1.6" ry="1.2" transform="rotate(43 105.2 264.6)" fill="#44306c" fill-opacity="0.77"/>
<ellipse cx="102.8" cy="263.3" rx="1.7" ry="1.3" transform="rotate(127 102.8 263.3)" fill="#6c4494" fill-opacity="0.88"/>
<ellipse cx="103.5" cy="267.2" rx="6.1" ry="4.7" transform="rotate(43 103.5 267.2)" fill="#d89ac4" fill-opacity="0.33"/>
<ellipse cx="99.2" cy="260.6" rx="5.7" ry="1.3" transform="rotate(58 99.2 260.6)" fill="#c03090" fill-opacity="0.86"/>
<ellipse cx="101.1" cy="271.9" rx="4.7" ry="0.8" transform="rotate(13 101.1 271.9)" fill="#c8409e" fill-opacity="0.92"/>
<ellipse cx="96.5" cy="263.4" rx="5.3" ry="0.8" transform="rotate(78 96.5 263.4)" fill="#da68b2" fill-opacity="0.70"/>
<ellipse cx="97.0" cy="273.4" rx="6.4" ry="1.3" transform="rotate(7 97.0 273.4)" fill="#c8409e" fill-opacity="0.80"/>
<ellipse cx="104.4" cy="265.8" rx="1.2" ry="1.0" transform="rotate(22 104.4 265.8)" fill="#52387e" fill-opacity="0.74"/>
<ellipse cx="102.9" cy="271.0" rx="1.5" ry="1.2" transform="rotate(62 102.9 271.0)" fill="#6c4494" fill-opacity="0.67"/>
<ellipse cx="121.1" cy="257.6" rx="7.1" ry="5.6" transform="rotate(31 121.1 257.6)" fill="#d89ac4" fill-opacity="0.24"/>
<ellipse cx="116.1" cy="263.6" rx="3.9" ry="1.2" transform="rotate(78 116.1 263.6)" fill="#c8409e" fill-opacity="0.88"/>
<ellipse cx="117.8" cy="257.4" rx="6.2" ry="1.2" transform="rotate(68 117.8 257.4)" fill="#b02a88" fill-opacity="0.85"/>
<ellipse cx="114.4" cy="255.7" rx="5.8" ry="0.8" transform="rotate(-12 114.4 255.7)" fill="#b02a88" fill-opacity="0.70"/>
<ellipse cx="117.1" cy="255.7" rx="4.2" ry="1.0" transform="rotate(-14 117.1 255.7)" fill="#b02a88" fill-opacity="0.67"/>
<ellipse cx="122.0" cy="261.6" rx="3.9" ry="1.0" transform="rotate(80 122.0 261.6)" fill="#b02a88" fill-opacity="0.90"/>
<ellipse cx="122.3" cy="258.4" rx="3.8" ry="1.1" transform="rotate(-4 122.3 258.4)" fill="#c8409e" fill-opacity="0.83"/>
<ellipse cx="118.6" cy="260.8" rx="1.6" ry="1.0" transform="rotate(161 118.6 260.8)" fill="#60408c" fill-opacity="0.75"/>
<ellipse cx="118.9" cy="261.0" rx="1.9" ry="1.4" transform="rotate(131 118.9 261.0)" fill="#6c4494" fill-opacity="0.85"/>
<ellipse cx="123.6" cy="261.0" rx="1.6" ry="1.4" transform="rotate(74 123.6 261.0)" fill="#60408c" fill-opacity="0.80"/>
<ellipse cx="127.5" cy="255.4" rx="6.8" ry="4.0" transform="rotate(61 127.5 255.4)" fill="#d89ac4" fill-opacity="0.26"/>
<ellipse cx="127.3" cy="261.0" rx="4.3" ry="1.2" transform="rotate(65 127.3 261.0)" fill="#cc3a9c" fill-opacity="0.95"/>
<ellipse cx="120.6" cy="258.3" rx="3.5" ry="0.8" transform="rotate(41 120.6 258.3)" fill="#b02a88" fill-opacity="0.91"/>
<ellipse cx="121.8" cy="259.4" rx="3.3" ry="0.9" transform="rotate(111 121.8 259.4)" fill="#da68b2" fill-opacity="0.68"/>
<ellipse cx="128.4" cy="254.2" rx="5.7" ry="1.2" transform="rotate(66 128.4 254.2)" fill="#cc3a9c" fill-opacity="0.92"/>
<ellipse cx="122.8" cy="249.2" rx="3.8" ry="1.0" transform="rotate(80 122.8 249.2)" fill="#b02a88" fill-opacity="0.87"/>
<ellipse cx="129.7" cy="256.8" rx="5.6" ry="0.9" transform="rotate(77 129.7 256.8)" fill="#da68b2" fill-opacity="0.91"/>
<ellipse cx="125.8" cy="257.7" rx="1.1" ry="1.1" transform="rotate(18 125.8 257.7)" fill="#52387e" fill-opacity="0.70"/>
<ellipse cx="126.5" cy="258.0" rx="1.4" ry="1.4" transform="rotate(1 126.5 258.0)" fill="#6c4494" fill-opacity="0.90"/>
<ellipse cx="127.6" cy="255.2" rx="1.7" ry="1.4" transform="rotate(94 127.6 255.2)" fill="#52387e" fill-opacity="0.89"/>
<ellipse cx="145.3" cy="264.8" rx="6.3" ry="5.9" transform="rotate(132 145.3 264.8)" fill="#d89ac4" fill-opacity="0.27"/>
<ellipse cx="145.8" cy="268.4" rx="5.4" ry="0.9" transform="rotate(179 145.8 268.4)" fill="#c03090" fill-opacity="0.77"/>
<ellipse cx="147.5" cy="262.3" rx="4.1" ry="1.3" transform="rotate(115 147.5 262.3)" fill="#da68b2" fill-opacity="0.92"/>
<ellipse cx="138.4" cy="269.1" rx="3.2" ry="1.2" transform="rotate(182 138.4 269.1)" fill="#da68b2" fill-opacity="0.70"/>
<ellipse cx="150.1" cy="268.3" rx="6.2" ry="1.3" transform="rotate(156 150.1 268.3)" fill="#b02a88" fill-opacity="0.73"/>
<ellipse cx="147.9" cy="263.3" rx="4.5" ry="1.0" transform="rotate(157 147.9 263.3)" fill="#c8409e" fill-opacity="0.90"/>
<ellipse cx="142.3" cy="258.6" rx="3.4" ry="0.8" transform="rotate(157 142.3 258.6)" fill="#cc3a9c" fill-opacity="0.72"/>
<ellipse cx="141.3" cy="266.3" rx="1.4" ry="1.2" transform="rotate(136 141.3 266.3)" fill="#44306c" fill-opacity="0.67"/>
<ellipse cx="153.4" cy="268.8" rx="6.8" ry="4.9" transform="rotate(83 153.4 268.8)" fill="#d89ac4" fill-opacity="0.33"/>
<ellipse cx="152.3" cy="264.6" rx="6.3" ry="1.2" transform="rotate(92 152.3 264.6)" fill="#c8409e" fill-opacity="0.72"/>
<ellipse cx="158.5" cy="273.1" rx="4.0" ry="1.1" transform="rotate(125 158.5 273.1)" fill="#c8409e" fill-opacity="0.82"/>
<ellipse cx="155.2" cy="262.0" rx="4.3" ry="0.8" transform="rotate(114 155.2 262.0)" fill="#b02a88" fill-opacity="0.73"/>
<ellipse cx="148.3" cy="273.2" rx="5.8" ry="1.2" transform="rotate(97 148.3 273.2)" fill="#d450a8" fill-opacity="0.93"/>
<ellipse cx="151.8" cy="265.4" rx="4.6" ry="1.0" transform="rotate(86 151.8 265.4)" fill="#c8409e" fill-opacity="0.74"/>
<ellipse cx="157.1" cy="272.6" rx="1.4" ry="1.3" transform="rotate(65 157.1 272.6)" fill="#52387e" fill-opacity="0.75"/>
<ellipse cx="151.4" cy="269.5" rx="2.1" ry="1.3" transform="rotate(79 151.4 269.5)" fill="#44306c" fill-opacity="0.88"/>
<ellipse cx="172.8" cy="262.7" rx="8.9" ry="4.2" transform="rotate(125 172.8 262.7)" fill="#d89ac4" fill-opacity="0.33"/>
<ellipse cx="175.0" cy="265.9" rx="5.1" ry="0.8" transform="rotate(156 175.0 265.9)" fill="#b02a88" fill-opacity="0.78"/>
<ellipse cx="179.4" cy="266.3" rx="6.7" ry="0.7" transform="rotate(168 179.4 266.3)" fill="#c03090" fill-opacity="0.89"/>
<ellipse cx="167.5" cy="267.8" rx="6.9" ry="1.1" transform="rotate(127 167.5 267.8)" fill="#d450a8" fill-opacity="0.87"/>
<ellipse cx="175.7" cy="269.1" rx="6.3" ry="1.2" transform="rotate(83 175.7 269.1)" fill="#d450a8" fill-opacity="0.76"/>
<ellipse cx="171.9" cy="267.7" rx="4.7" ry="0.9" transform="rotate(91 171.9 267.7)" fill="#cc3a9c" fill-opacity="0.85"/>
<ellipse cx="171.8" cy="261.4" rx="1.9" ry="1.3" transform="rotate(0 171.8 261.4)" fill="#44306c" fill-opacity="0.82"/>
<ellipse cx="176.3" cy="258.7" rx="1.6" ry="1.1" transform="rotate(74 176.3 258.7)" fill="#52387e" fill-opacity="0.92"/>
<ellipse cx="176.6" cy="265.0" rx="2.1" ry="1.2" transform="rotate(88 176.6 265.0)" fill="#6c4494" fill-opacity="0.71"/>
<ellipse cx="83.3" cy="271.7" rx="8.0" ry="4.1" transform="rotate(113 83.3 271.7)" fill="#d89ac4" fill-opacity="0.35"/>
<ellipse cx="83.3" cy="277.5" rx="3.6" ry="1.1" transform="rotate(161 83.3 277.5)" fill="#cc3a9c" fill-opacity="0.73"/>
<ellipse cx="78.1" cy="269.5" rx="3.2" ry="0.8" transform="rotate(94 78.1 269.5)" fill="#c03090" fill-opacity="0.78"/>
<ellipse cx="85.6" cy="277.5" rx="5.3" ry="1.3" transform="rotate(156 85.6 277.5)" fill="#d450a8" fill-opacity="0.75"/>
<ellipse cx="78.7" cy="267.7" rx="4.2" ry="1.0" transform="rotate(97 78.7 267.7)" fill="#b02a88" fill-opacity="0.86"/>
<ellipse cx="80.8" cy="272.1" rx="1.2" ry="1.4" transform="rotate(4 80.8 272.1)" fill="#52387e" fill-opacity="0.70"/>
<ellipse cx="81.5" cy="270.9" rx="1.4" ry="1.0" transform="rotate(55 81.5 270.9)" fill="#6c4494" fill-opacity="0.76"/>
<ellipse cx="91.7" cy="274.0" rx="8.8" ry="5.4" transform="rotate(93 91.7 274.0)" fill="#d89ac4" fill-opacity="0.32"/>
<ellipse cx="90.9" cy="276.4" rx="5.1" ry="1.1" transform="rotate(62 90.9 276.4)" fill="#b02a88" fill-opacity="0.89"/>
<ellipse cx="92.0" cy="271.0" rx="5.0" ry="1.1" transform="rotate(135 92.0 271.0)" fill="#cc3a9c" fill-opacity="0.67"/>
<ellipse cx="93.0" cy="269.7" rx="5.7" ry="0.9" transform="rotate(109 93.0 269.7)" fill="#d450a8" fill-opacity="0.75"/>
<ellipse cx="89.2" cy="267.8" rx="6.1" ry="1.2" transform="rotate(55 89.2 267.8)" fill="#b02a88" fill-opacity="0.88"/>
<ellipse cx="95.4" cy="278.1" rx="4.7" ry="1.3" transform="rotate(124 95.4 278.1)" fill="#c03090" fill-opacity="0.93"/>
<ellipse cx="97.4" cy="274.9" rx="3.2" ry="1.1" transform="rotate(93 97.4 274.9)" fill="#cc3a9c" fill-opacity="0.78"/>
<ellipse cx="90.2" cy="276.4" rx="1.7" ry="1.3" transform="rotate(116 90.2 276.4)" fill="#6c4494" fill-opacity="0.88"/>
<ellipse cx="90.0" cy="277.8" rx="1.2" ry="1.3" transform="rotate(18 90.0 277.8)" fill="#44306c" fill-opacity="0.71"/>
<ellipse cx="90.6" cy="271.2" rx="1.5" ry="1.0" transform="rotate(114 90.6 271.2)" fill="#6c4494" fill-opacity="0.91"/>
<ellipse cx="110.1" cy="279.5" rx="6.9" ry="4.3" transform="rotate(85 110.1 279.5)" fill="#d89ac4" fill-opacity="0.25"/>
<ellipse cx="108.0" cy="274.6" rx="6.8" ry="0.8" transform="rotate(91 108.0 274.6)" fill="#c8409e" fill-opacity="0.86"/>
<ellipse cx="110.0" cy="273.4" rx="5.2" ry="1.1" transform="rotate(103 110.0 273.4)" fill="#cc3a9c" fill-opacity="0.68"/>
<ellipse cx="109.1" cy="281.5" rx="4.6" ry="0.9" transform="rotate(117 109.1 281.5)" fill="#da68b2" fill-opacity="0.84"/>
<ellipse cx="104.9" cy="282.9" rx="5.4" ry="1.1" transform="rotate(109 104.9 282.9)" fill="#b02a88" fill-opacity="0.84"/>
<ellipse cx="110.4" cy="277.2" rx="3.3" ry="0.7" transform="rotate(40 110.4 277.2)" fill="#c03090" fill-opacity="0.85"/>
<ellipse cx="107.4" cy="282.1" rx="5.5" ry="0.7" transform="rotate(123 107.4 282.1)" fill="#c03090" fill-opacity="0.81"/>
<ellipse cx="111.6" cy="281.9" rx="1.1" ry="1.0" transform="rotate(107 111.6 281.9)" fill="#60408c" fill-opacity="0.90"/>
<ellipse cx="111.4" cy="280.6" rx="2.0" ry="1.3" transform="rotate(109 111.4 280.6)" fill="#52387e" fill-opacity="0.76"/>
<ellipse cx="131.2" cy="284.9" rx="8.5" ry="5.9" transform="rotate(12 131.2 284.9)" fill="#d89ac4" fill-opacity="0.26"/>
<ellipse cx="126.7" cy="286.0" rx="6.2" ry="1.1" transform="rotate(8 126.7 286.0)" fill="#c8409e" fill-opacity="0.76"/>
<ellipse cx="136.9" cy="291.9" rx="4.3" ry="0.9" transform="rotate(-10 136.9 291.9)" fill="#d450a8" fill-opacity="0.92"/>
<ellipse cx="126.9" cy="279.4" rx="4.3" ry="1.2" transform="rotate(46 126.9 279.4)" fill="#c03090" fill-opacity="0.78"/>
<ellipse cx="124.8" cy="278.6" rx="6.2" ry="0.9" transform="rotate(-20 124.8 278.6)" fill="#d450a8" fill-opacity="0.80"/>
<ellipse cx="128.3" cy="287.2" rx="6.5" ry="0.9" transform="rotate(7 128.3 287.2)" fill="#d450a8" fill-opacity="0.80"/>
<ellipse cx="135.5" cy="287.6" rx="3.0" ry="0.7" transform="rotate(-31 135.5 287.6)" fill="#d450a8" fill-opacity="0.70"/>
<ellipse cx="133.5" cy="283.4" rx="1.5" ry="1.0" transform="rotate(0 133.5 283.4)" fill="#52387e" fill-opacity="0.70"/>
<ellipse cx="129.9" cy="272.9" rx="7.6" ry="4.4" transform="rotate(81 129.9 272.9)" fill="#d89ac4" fill-opacity="0.26"/>
<ellipse cx="133.5" cy="266.0" rx="5.2" ry="1.2" transform="rotate(103 133.5 266.0)" fill="#d450a8" fill-opacity="0.77"/>
<ellipse cx="130.1" cy="268.9" rx="3.2" ry="0.9" transform="rotate(129 130.1 268.9)" fill="#b02a88" fill-opacity="0.69"/>
<ellipse cx="128.3" cy="278.7" rx="3.6" ry="0.9" transform="rotate(63 128.3 278.7)" fill="#d450a8" fill-opacity="0.67"/>
<ellipse cx="129.9" cy="270.6" rx="3.0" ry="1.0" transform="rotate(52 129.9 270.6)" fill="#cc3a9c" fill-opacity="0.71"/>
<ellipse cx="129.9" cy="274.0" rx="6.9" ry="1.0" transform="rotate(39 129.9 274.0)" fill="#b02a88" fill-opacity="0.67"/>
<ellipse cx="128.0" cy="272.5" rx="1.6" ry="1.1" transform="rotate(100 128.0 272.5)" fill="#6c4494" fill-opacity="0.66"/>
<ellipse cx="134.6" cy="285.0" rx="7.4" ry="5.8" transform="rotate(17 134.6 285.0)" fill="#d89ac4" fill-opacity="0.30"/>
<ellipse cx="128.5" cy="281.7" rx="3.3" ry="0.9" transform="rotate(0 128.5 281.7)" fill="#d450a8" fill-opacity="0.81"/>
<ellipse cx="128.8" cy="282.3" rx="6.7" ry="1.1" transform="rotate(0 128.8 282.3)" fill="#da68b2" fill-opacity="0.79"/>
<ellipse cx="128.7" cy="281.9" rx="6.8" ry="1.0" transform="rotate(65 128.7 281.9)" fill="#c8409e" fill-opacity="0.78"/>
<ellipse cx="137.5" cy="283.6" rx="4.7" ry="0.9" transform="rotate(-8 137.5 283.6)" fill="#da68b2" fill-opacity="0.79"/>
<ellipse cx="139.7" cy="290.6" rx="3.3" ry="1.1" transform="rotate(-25 139.7 290.6)" fill="#d450a8" fill-opacity="0.78"/>
<ellipse cx="137.8" cy="287.1" rx="5.4" ry="0.9" transform="rotate(62 137.8 287.1)" fill="#b02a88" fill-opacity="0.92"/>
<ellipse cx="137.4" cy="282.0" rx="2.0" ry="0.9" transform="rotate(89 137.4 282.0)" fill="#6c4494" fill-opacity="0.91"/>
<ellipse cx="135.1" cy="288.5" rx="1.5" ry="1.0" transform="rotate(106 135.1 288.5)" fill="#44306c" fill-opacity="0.71"/>
<ellipse cx="131.5" cy="282.9" rx="2.1" ry="1.1" transform="rotate(176 131.5 282.9)" fill="#6c4494" fill-opacity="0.78"/>
<ellipse cx="154.2" cy="280.9" rx="8.7" ry="5.5" transform="rotate(134 154.2 280.9)" fill="#d89ac4" fill-opacity="0.34"/>
<ellipse cx="148.1" cy="277.0" rx="6.4" ry="1.2" transform="rotate(141 148.1 277.0)" fill="#c03090" fill-opacity="0.88"/>
<ellipse cx="160.8" cy="286.0" rx="4.3" ry="1.0" transform="rotate(84 160.8 286.0)" fill="#da68b2" fill-opacity="0.66"/>
<ellipse cx="159.2" cy="278.3" rx="5.2" ry="0.7" transform="rotate(151 159.2 278.3)" fill="#d450a8" fill-opacity="0.74"/>
<ellipse cx="158.9" cy="276.0" rx="3.1" ry="1.1" transform="rotate(111 158.9 276.0)" fill="#da68b2" fill-opacity="0.80"/>
<ellipse cx="151.6" cy="286.2" rx="6.9" ry="1.0" transform="rotate(111 151.6 286.2)" fill="#cc3a9c" fill-opacity="0.82"/>
<ellipse cx="155.9" cy="280.8" rx="2.0" ry="1.4" transform="rotate(40 155.9 280.8)" fill="#44306c" fill-opacity="0.66"/>
<ellipse cx="80.3" cy="297.5" rx="7.4" ry="5.8" transform="rotate(34 80.3 297.5)" fill="#d89ac4" fill-opacity="0.25"/>
<ellipse cx="74.4" cy="294.3" rx="6.1" ry="1.2" transform="rotate(13 74.4 294.3)" fill="#c8409e" fill-opacity="0.86"/>
<ellipse cx="83.2" cy="297.4" rx="6.8" ry="1.3" transform="rotate(35 83.2 297.4)" fill="#b02a88" fill-opacity="0.90"/>
<ellipse cx="87.1" cy="301.6" rx="4.1" ry="0.8" transform="rotate(41 87.1 301.6)" fill="#da68b2" fill-opacity="0.74"/>
<ellipse cx="86.2" cy="304.0" rx="6.9" ry="1.0" transform="rotate(11 86.2 304.0)" fill="#d450a8" fill-opacity="0.92"/>
<ellipse cx="81.1" cy="294.9" rx="6.2" ry="1.2" transform="rotate(64 81.1 294.9)" fill="#d450a8" fill-opacity="0.87"/>
<ellipse cx="85.8" cy="300.5" rx="6.8" ry="1.1" transform="rotate(67 85.8 300.5)" fill="#b02a88" fill-opacity="0.89"/>
<ellipse cx="79.7" cy="294.9" rx="6.7" ry="1.3" transform="rotate(75 79.7 294.9)" fill="#da68b2" fill-opacity="0.93"/>
<ellipse cx="81.8" cy="295.8" rx="1.2" ry="1.0" transform="rotate(78 81.8 295.8)" fill="#60408c" fill-opacity="0.70"/>
<ellipse cx="83.2" cy="300.2" rx="7.3" ry="5.0" transform="rotate(176 83.2 300.2)" fill="#d89ac4" fill-opacity="0.31"/>
<ellipse cx="86.8" cy="293.8" rx="4.8" ry="0.9" transform="rotate(192 86.8 293.8)" fill="#d450a8" fill-opacity="0.92"/>
<ellipse cx="81.8" cy="297.9" rx="5.8" ry="1.1" transform="rotate(165 81.8 297.9)" fill="#da68b2" fill-opacity="0.69"/>
<ellipse cx="86.9" cy="296.1" rx="4.2" ry="1.1" transform="rotate(163 86.9 296.1)" fill="#c03090" fill-opacity="0.90"/>
<ellipse cx="79.0" cy="296.8" rx="5.5" ry="0.9" transform="rotate(175 79.0 296.8)" fill="#b02a88" fill-opacity="0.93"/>
<ellipse cx="88.7" cy="305.3" rx="3.4" ry="0.7" transform="rotate(172 88.7 305.3)" fill="#c8409e" fill-opacity="0.86"/>
<ellipse cx="84.0" cy="303.9" rx="1.7" ry="1.1" transform="rotate(72 84.0 303.9)" fill="#60408c" fill-opacity="0.83"/>
<ellipse cx="90.5" cy="290.1" rx="8.1" ry="4.6" transform="rotate(160 90.5 290.1)" fill="#d89ac4" fill-opacity="0.29"/>
<ellipse cx="92.9" cy="289.7" rx="6.8" ry="0.7" transform="rotate(191 92.9 289.7)" fill="#b02a88" fill-opacity="0.75"/>
<ellipse cx="93.2" cy="284.1" rx="3.0" ry="0.8" transform="rotate(167 93.2 284.1)" fill="#d450a8" fill-opacity="0.87"/>
<ellipse cx="93.8" cy="284.5" rx="5.7" ry="0.7" transform="rotate(183 93.8 284.5)" fill="#cc3a9c" fill-opacity="0.74"/>
<ellipse cx="92.6" cy="296.9" rx="6.4" ry="0.7" transform="rotate(116 92.6 296.9)" fill="#c8409e" fill-opacity="0.89"/>
<ellipse cx="88.9" cy="291.4" rx="1.8" ry="1.0" transform="rotate(136 88.9 291.4)" fill="#6c4494" fill-opacity="0.86"/>
<ellipse cx="88.7" cy="292.9" rx="1.5" ry="1.1" transform="rotate(101 88.7 292.9)" fill="#6c4494" fill-opacity="0.67"/>
<ellipse cx="110.8" cy="290.2" rx="6.2" ry="5.4" transform="rotate(176 110.8 290.2)" fill="#d89ac4" fill-opacity="0.28"/>
<ellipse cx="105.6" cy="295.2" rx="5.8" ry="0.9" transform="rotate(207 105.6 295.2)" fill="#da68b2" fill-opacity="0.70"/>
<ellipse cx="105.9" cy="295.3" rx="6.0" ry="1.3" transform="rotate(193 105.9 295.3)" fill="#c03090" fill-opacity="0.74"/>
<ellipse cx="117.2" cy="289.3" rx="4.6" ry="1.2" transform="rotate(202 117.2 289.3)" fill="#cc3a9c" fill-opacity="0.92"/>
<ellipse cx="111.5" cy="285.8" rx="5.0" ry="0.9" transform="rotate(207 111.5 285.8)" fill="#d450a8" fill-opacity="0.80"/>
<ellipse cx="106.6" cy="291.0" rx="4.6" ry="1.2" transform="rotate(133 106.6 291.0)" fill="#c8409e" fill-opacity="0.89"/>
<ellipse cx="110.8" cy="285.8" rx="4.4" ry="1.0" transform="rotate(188 110.8 285.8)" fill="#c8409e" fill-opacity="0.78"/>
<ellipse cx="108.3" cy="287.3" rx="1.8" ry="0.9" transform="rotate(44 108.3 287.3)" fill="#52387e" fill-opacity="0.73"/>
<ellipse cx="131.1" cy="286.3" rx="8.5" ry="5.1" transform="rotate(43 131.1 286.3)" fill="#d89ac4" fill-opacity="0.28"/>
<ellipse cx="132.2" cy="292.2" rx="3.3" ry="1.0" transform="rotate(62 132.2 292.2)" fill="#c8409e" fill-opacity="0.79"/>
<ellipse cx="132.9" cy="283.3" rx="5.9" ry="1.0" transform="rotate(92 132.9 283.3)" fill="#b02a88" fill-opacity="0.87"/>
<ellipse cx="132.7" cy="290.9" rx="6.4" ry="1.0" transform="rotate(74 132.7 290.9)" fill="#c03090" fill-opacity="0.70"/>
<ellipse cx="126.9" cy="282.8" rx="6.7" ry="1.2" transform="rotate(-2 126.9 282.8)" fill="#da68b2" fill-opacity="0.95"/>
<ellipse cx="132.2" cy="288.8" rx="1.1" ry="1.0" transform="rotate(165 132.2 288.8)" fill="#52387e" fill-opacity="0.91"/>
<ellipse cx="133.1" cy="288.2" rx="1.4" ry="1.3" transform="rotate(168 133.1 288.2)" fill="#44306c" fill-opacity="0.70"/>
<ellipse cx="124.9" cy="293.2" rx="7.6" ry="4.5" transform="rotate(131 124.9 293.2)" fill="#d89ac4" fill-opacity="0.35"/>
<ellipse cx="118.4" cy="294.0" rx="4.0" ry="1.2" transform="rotate(102 118.4 294.0)" fill="#d450a8" fill-opacity="0.88"/>
<ellipse cx="127.4" cy="296.2" rx="3.1" ry="1.0" transform="rotate(131 127.4 296.2)" fill="#d450a8" fill-opacity="0.77"/>
<ellipse cx="131.1" cy="289.1" rx="6.7" ry="1.1" transform="rotate(177 131.1 289.1)" fill="#da68b2" fill-opacity="0.82"/>
<ellipse cx="120.4" cy="288.7" rx="3.3" ry="0.7" transform="rotate(128 120.4 288.7)" fill="#cc3a9c" fill-opacity="0.73"/>
<ellipse cx="127.2" cy="287.0" rx="3.2" ry="0.8" transform="rotate(159 127.2 287.0)" fill="#c03090" fill-opacity="0.80"/>
<ellipse cx="131.1" cy="296.0" rx="6.9" ry="1.2" transform="rotate(129 131.1 296.0)" fill="#c8409e" fill-opacity="0.79"/>
<ellipse cx="121.4" cy="290.7" rx="4.3" ry="1.2" transform="rotate(100 121.4 290.7)" fill="#c8409e" fill-opacity="0.90"/>
<ellipse cx="121.5" cy="295.4" rx="2.1" ry="1.2" transform="rotate(166 121.5 295.4)" fill="#6c4494" fill-opacity="0.77"/>
<ellipse cx="136.2" cy="293.0" rx="7.0" ry="5.7" transform="rotate(73 136.2 293.0)" fill="#d89ac4" fill-opacity="0.33"/>
<ellipse cx="142.8" cy="293.1" rx="4.9" ry="1.0" transform="rotate(27 142.8 293.1)" fill="#d450a8" fill-opacity="0.87"/>
<ellipse cx="137.9" cy="295.8" rx="6.2" ry="1.0" transform="rotate(80 137.9 295.8)" fill="#c03090" fill-opacity="0.69"/>
<ellipse cx="138.9" cy="287.9" rx="3.5" ry="0.9" transform="rotate(36 138.9 287.9)" fill="#c8409e" fill-opacity="0.78"/>
<ellipse cx="137.2" cy="291.0" rx="5.7" ry="0.9" transform="rotate(70 137.2 291.0)" fill="#c03090" fill-opacity="0.82"/>
<ellipse cx="136.3" cy="296.9" rx="2.0" ry="1.1" transform="rotate(171 136.3 296.9)" fill="#52387e" fill-opacity="0.84"/>
<ellipse cx="149.5" cy="298.3" rx="7.7" ry="5.0" transform="rotate(61 149.5 298.3)" fill="#d89ac4" fill-opacity="0.29"/>
<ellipse cx="144.7" cy="304.7" rx="3.5" ry="1.3" transform="rotate(91 144.7 304.7)" fill="#c03090" fill-opacity="0.91"/>
<ellipse cx="149.5" cy="305.1" rx="3.7" ry="0.9" transform="rotate(88 149.5 305.1)" fill="#c8409e" fill-opacity="0.67"/>
<ellipse cx="150.5" cy="303.9" rx="5.2" ry="1.2" transform="rotate(92 150.5 303.9)" fill="#d450a8" fill-opacity="0.93"/>
<ellipse cx="145.8" cy="298.3" rx="4.7" ry="1.0" transform="rotate(93 145.8 298.3)" fill="#d450a8" fill-opacity="0.83"/>
<ellipse cx="149.1" cy="304.0" rx="4.8" ry="0.9" transform="rotate(59 149.1 304.0)" fill="#da68b2" fill-opacity="0.87"/>
<ellipse cx="149.4" cy="298.3" rx="3.0" ry="1.2" transform="rotate(91 149.4 298.3)" fill="#cc3a9c" fill-opacity="0.92"/>
<ellipse cx="145.5" cy="301.3" rx="1.9" ry="1.1" transform="rotate(170 145.5 301.3)" fill="#60408c" fill-opacity="0.78"/>
<ellipse cx="85.0" cy="303.4" rx="6.7" ry="5.0" transform="rotate(50 85.0 303.4)" fill="#d89ac4" fill-opacity="0.27"/>
<ellipse cx="84.3" cy="304.6" rx="4.0" ry="1.2" transform="rotate(26 84.3 304.6)" fill="#b02a88" fill-opacity="0.77"/>
<ellipse cx="87.6" cy="302.8" rx="4.3" ry="0.8" transform="rotate(61 87.6 302.8)" fill="#cc3a9c" fill-opacity="0.66"/>
<ellipse cx="82.5" cy="309.4" rx="3.8" ry="0.8" transform="rotate(61 82.5 309.4)" fill="#da68b2" fill-opacity="0.89"/>
<ellipse cx="82.3" cy="304.8" rx="5.5" ry="1.1" transform="rotate(63 82.3 304.8)" fill="#cc3a9c" fill-opacity="0.76"/>
<ellipse cx="84.6" cy="310.0" rx="5.3" ry="1.2" transform="rotate(64 84.6 310.0)" fill="#d450a8" fill-opacity="0.94"/>
<ellipse cx="83.0" cy="301.2" rx="3.1" ry="1.3" transform="rotate(44 83.0 301.2)" fill="#b02a88" fill-opacity="0.89"/>
<ellipse cx="91.9" cy="309.7" rx="5.3" ry="0.8" transform="rotate(59 91.9 309.7)" fill="#da68b2" fill-opacity="0.74"/>
<ellipse cx="88.7" cy="300.2" rx="1.6" ry="1.2" transform="rotate(27 88.7 300.2)" fill="#52387e" fill-opacity="0.89"/>
<ellipse cx="83.2" cy="307.4" rx="1.5" ry="1.2" transform="rotate(71 83.2 307.4)" fill="#6c4494" fill-opacity="0.73"/>
<ellipse cx="88.7" cy="307.1" rx="2.2" ry="1.3" transform="rotate(166 88.7 307.1)" fill="#6c4494" fill-opacity="0.91"/>
<ellipse cx="102.4" cy="305.8" rx="8.1" ry="4.9" transform="rotate(99 102.4 305.8)" fill="#d89ac4" fill-opacity="0.25"/>
<ellipse cx="104.2" cy="309.4" rx="4.8" ry="0.8" transform="rotate(124 104.2 309.4)" fill="#da68b2" fill-opacity="0.92"/>
<ellipse cx="105.5" cy="300.6" rx="4.2" ry="1.1" transform="rotate(53 105.5 300.6)" fill="#d450a8" fill-opacity="0.88"/>
<ellipse cx="101.2" cy="300.4" rx="6.6" ry="1.2" transform="rotate(125 101.2 300.4)" fill="#c8409e" fill-opacity="0.74"/>
<ellipse cx="105.7" cy="305.3" rx="6.0" ry="0.8" transform="rotate(121 105.7 305.3)" fill="#c03090" fill-opacity="0.65"/>
<ellipse cx="103.2" cy="311.9" rx="6.1" ry="0.9" transform="rotate(139 103.2 311.9)" fill="#b02a88" fill-opacity="0.67"/>
<ellipse cx="101.1" cy="312.7" rx="3.4" ry="1.3" transform="rotate(57 101.1 312.7)" fill="#b02a88" fill-opacity="0.70"/>
<ellipse cx="103.9" cy="304.1" rx="1.6" ry="1.3" transform="rotate(29 103.9 304.1)" fill="#60408c" fill-opacity="0.68"/>
<ellipse cx="99.8" cy="303.6" rx="1.7" ry="1.1" transform="rotate(84 99.8 303.6)" fill="#52387e" fill-opacity="0.78"/>
<ellipse cx="94.5" cy="314.9" rx="7.6" ry="5.9" transform="rotate(138 94.5 314.9)" fill="#d89ac4" fill-opacity="0.27"/>
<ellipse cx="91.6" cy="313.1" rx="5.9" ry="0.8" transform="rotate(178 91.6 313.1)" fill="#da68b2" fill-opacity="0.66"/>
<ellipse cx="100.6" cy="316.5" rx="4.4" ry="0.8" transform="rotate(177 100.6 316.5)" fill="#d450a8" fill-opacity="0.71"/>
<ellipse cx="100.0" cy="317.4" rx="3.7" ry="0.9" transform="rotate(100 100.0 317.4)" fill="#d450a8" fill-opacity="0.92"/>
<ellipse cx="88.3" cy="317.4" rx="5.9" ry="1.2" transform="rotate(175 88.3 317.4)" fill="#c8409e" fill-opacity="0.69"/>
<ellipse cx="95.2" cy="314.4" rx="1.2" ry="1.2" transform="rotate(94 95.2 314.4)" fill="#44306c" fill-opacity="0.76"/>
<ellipse cx="110.0" cy="300.3" rx="7.8" ry="4.8" transform="rotate(17 110.0 300.3)" fill="#d89ac4" fill-opacity="0.32"/>
<ellipse cx="112.2" cy="303.1" rx="5.4" ry="0.7" transform="rotate(31 112.2 303.1)" fill="#d450a8" fill-opacity="0.85"/>
<ellipse cx="114.7" cy="295.3" rx="4.8" ry="1.1" transform="rotate(61 114.7 295.3)" fill="#cc3a9c" fill-opacity="0.89"/>
<ellipse cx="103.9" cy="304.3" rx="6.4" ry="0.9" transform="rotate(28 103.9 304.3)" fill="#cc3a9c" fill-opacity="0.85"/>
<ellipse cx="112.7" cy="306.0" rx="6.4" ry="0.7" transform="rotate(9 112.7 306.0)" fill="#da68b2" fill-opacity="0.68"/>
<ellipse cx="111.4" cy="300.3" rx="6.6" ry="0.9" transform="rotate(9 111.4 300.3)" fill="#c03090" fill-opacity="0.66"/>
<ellipse cx="108.9" cy="295.8" rx="3.1" ry="0.9" transform="rotate(30 108.9 295.8)" fill="#da68b2" fill-opacity="0.93"/>
<ellipse cx="108.1" cy="301.3" rx="5.0" ry="0.9" transform="rotate(-3 108.1 301.3)" fill="#d450a8" fill-opacity="0.69"/>
<ellipse cx="106.9" cy="303.0" rx="1.4" ry="1.4" transform="rotate(113 106.9 303.0)" fill="#60408c" fill-opacity="0.72"/>
<ellipse cx="107.3" cy="302.6" rx="2.1" ry="1.3" transform="rotate(56 107.3 302.6)" fill="#60408c" fill-opacity="0.87"/>
<ellipse cx="119.5" cy="309.7" rx="6.6" ry="4.3" transform="rotate(175 119.5 309.7)" fill="#d89ac4" fill-opacity="0.24"/>
<ellipse cx="125.7" cy="302.9" rx="6.0" ry="1.0" transform="rotate(162 125.7 302.9)" fill="#da68b2" fill-opacity="0.81"/>
<ellipse cx="118.8" cy="312.1" rx="4.6" ry="1.0" transform="rotate(131 118.8 312.1)" fill="#b02a88" fill-opacity="0.65"/>
<ellipse cx="121.9" cy="304.0" rx="4.8" ry="0.8" transform="rotate(220 121.9 304.0)" fill="#c8409e" fill-opacity="0.86"/>
<ellipse cx="117.1" cy="307.3" rx="6.7" ry="0.9" transform="rotate(184 117.1 307.3)" fill="#da68b2" fill-opacity="0.79"/>
<ellipse cx="122.9" cy="307.7" rx="2.2" ry="1.3" transform="rotate(94 122.9 307.7)" fill="#6c4494" fill-opacity="0.89"/>
<ellipse cx="130.7" cy="300.9" rx="6.0" ry="4.8" transform="rotate(57 130.7 300.9)" fill="#d89ac4" fill-opacity="0.31"/>
<ellipse cx="135.1" cy="304.2" rx="3.2" ry="0.9" transform="rotate(96 135.1 304.2)" fill="#da68b2" fill-opacity="0.86"/>
<ellipse cx="134.6" cy="298.2" rx="6.4" ry="0.9" transform="rotate(90 134.6 298.2)" fill="#da68b2" fill-opacity="0.78"/>
<ellipse cx="127.2" cy="296.2" rx="5.7" ry="1.2" transform="rotate(22 127.2 296.2)" fill="#da68b2" fill-opacity="0.67"/>
<ellipse cx="137.6" cy="307.8" rx="5.7" ry="0.7" transform="rotate(8 137.6 307.8)" fill="#da68b2" fill-opacity="0.86"/>
<ellipse cx="135.5" cy="307.3" rx="5.5" ry="1.2" transform="rotate(43 135.5 307.3)" fill="#c8409e" fill-opacity="0.70"/>
<ellipse cx="132.1" cy="303.0" rx="3.2" ry="1.2" transform="rotate(65 132.1 303.0)" fill="#b02a88" fill-opacity="0.88"/>
<ellipse cx="127.4" cy="294.8" rx="4.3" ry="1.1" transform="rotate(65 127.4 294.8)" fill="#c03090" fill-opacity="0.81"/>
<ellipse cx="129.3" cy="300.0" rx="1.2" ry="1.3" transform="rotate(44 129.3 300.0)" fill="#60408c" fill-opacity="0.75"/>
<ellipse cx="134.1" cy="299.0" rx="1.8" ry="1.4" transform="rotate(111 134.1 299.0)" fill="#60408c" fill-opacity="0.84"/>
<ellipse cx="130.4" cy="298.3" rx="1.7" ry="1.3" transform="rotate(53 130.4 298.3)" fill="#6c4494" fill-opacity="0.66"/>
<ellipse cx="143.8" cy="302.5" rx="7.5" ry="4.1" transform="rotate(92 143.8 302.5)" fill="#d89ac4" fill-opacity="0.31"/>
<ellipse cx="142.9" cy="300.3" rx="6.2" ry="0.7" transform="rotate(76 142.9 300.3)" fill="#b02a88" fill-opacity="0.66"/>
<ellipse cx="140.2" cy="296.3" rx="5.2" ry="1.3" transform="rotate(117 140.2 296.3)" fill="#d450a8" fill-opacity="0.67"/>
<ellipse cx="147.5" cy="303.2" rx="6.9" ry="0.8" transform="rotate(96 147.5 303.2)" fill="#d450a8" fill-opacity="0.94"/>
<ellipse cx="149.8" cy="299.9" rx="5.3" ry="0.9" transform="rotate(136 149.8 299.9)" fill="#b02a88" fill-opacity="0.88"/>
<ellipse cx="146.8" cy="299.2" rx="6.4" ry="0.8" transform="rotate(48 146.8 299.2)" fill="#c03090" fill-opacity="0.71"/>
<ellipse cx="146.0" cy="304.2" rx="1.3" ry="1.1" transform="rotate(147 146.0 304.2)" fill="#60408c" fill-opacity="0.87"/>
<ellipse cx="140.9" cy="303.4" rx="1.1" ry="1.4" transform="rotate(62 140.9 303.4)" fill="#6c4494" fill-opacity="0.74"/>
<ellipse cx="151.2" cy="310.5" rx="6.2" ry="4.1" transform="rotate(130 151.2 310.5)" fill="#d89ac4" fill-opacity="0.32"/>
<ellipse cx="157.8" cy="311.4" rx="4.4" ry="1.2" transform="rotate(160 157.8 311.4)" fill="#da68b2" fill-opacity="0.73"/>
<ellipse cx="158.1" cy="311.8" rx="5.6" ry="0.8" transform="rotate(172 158.1 311.8)" fill="#c03090" fill-opacity="0.68"/>
<ellipse cx="156.2" cy="306.6" rx="5.9" ry="1.1" transform="rotate(80 156.2 306.6)" fill="#d450a8" fill-opacity="0.95"/>
<ellipse cx="155.4" cy="316.8" rx="3.9" ry="0.8" transform="rotate(104 155.4 316.8)" fill="#c8409e" fill-opacity="0.79"/>
<ellipse cx="149.8" cy="315.6" rx="4.9" ry="1.1" transform="rotate(89 149.8 315.6)" fill="#c03090" fill-opacity="0.69"/>
<ellipse cx="150.5" cy="316.1" rx="6.6" ry="0.9" transform="rotate(87 150.5 316.1)" fill="#c03090" fill-opacity="0.83"/>
<ellipse cx="152.9" cy="313.1" rx="1.5" ry="1.2" transform="rotate(12 152.9 313.1)" fill="#6c4494" fill-opacity="0.82"/>
<ellipse cx="152.5" cy="309.3" rx="1.3" ry="1.1" transform="rotate(9 152.5 309.3)" fill="#52387e" fill-opacity="0.88"/>
<ellipse cx="167.8" cy="304.6" rx="6.9" ry="4.6" transform="rotate(24 167.8 304.6)" fill="#d89ac4" fill-opacity="0.29"/>
<ellipse cx="165.7" cy="306.2" rx="5.9" ry="0.7" transform="rotate(68 165.7 306.2)" fill="#d450a8" fill-opacity="0.88"/>
<ellipse cx="168.4" cy="301.0" rx="5.9" ry="0.8" transform="rotate(59 168.4 301.0)" fill="#d450a8" fill-opacity="0.95"/>
<ellipse cx="170.5" cy="297.8" rx="5.8" ry="0.9" transform="rotate(3 170.5 297.8)" fill="#c8409e" fill-opacity="0.77"/>
<ellipse cx="173.6" cy="309.7" rx="7.0" ry="1.0" transform="rotate(12 173.6 309.7)" fill="#b02a88" fill-opacity="0.81"/>
<ellipse cx="172.6" cy="299.8" rx="3.8" ry="0.7" transform="rotate(48 172.6 299.8)" fill="#da68b2" fill-opacity="0.88"/>
<ellipse cx="170.4" cy="306.5" rx="2.2" ry="1.0" transform="rotate(143 170.4 306.5)" fill="#60408c" fill-opacity="0.74"/>
<ellipse cx="169.0" cy="300.8" rx="1.9" ry="1.2" transform="rotate(69 169.0 300.8)" fill="#44306c" fill-opacity="0.76"/>
<ellipse cx="164.0" cy="300.9" rx="1.9" ry="1.1" transform="rotate(19 164.0 300.9)" fill="#52387e" fill-opacity="0.65"/>
<ellipse cx="181.6" cy="302.9" rx="8.9" ry="4.9" transform="rotate(146 181.6 302.9)" fill="#d89ac4" fill-opacity="0.26"/>
<ellipse cx="185.2" cy="305.0" rx="6.7" ry="0.7" transform="rotate(155 185.2 305.0)" fill="#d450a8" fill-opacity="0.67"/>
<ellipse cx="183.7" cy="298.5" rx="6.7" ry="0.8" transform="rotate(134 183.7 298.5)" fill="#b02a88" fill-opacity="0.69"/>
<ellipse cx="184.0" cy="307.3" rx="3.7" ry="0.7" transform="rotate(159 184.0 307.3)" fill="#d450a8" fill-opacity="0.73"/>
<ellipse cx="184.3" cy="299.6" rx="4.5" ry="1.1" transform="rotate(173 184.3 299.6)" fill="#c8409e" fill-opacity="0.72"/>
<ellipse cx="177.2" cy="302.1" rx="6.0" ry="1.1" transform="rotate(152 177.2 302.1)" fill="#c8409e" fill-opacity="0.81"/>
<ellipse cx="181.4" cy="300.1" rx="1.6" ry="1.2" transform="rotate(23 181.4 300.1)" fill="#44306c" fill-opacity="0.82"/>
<ellipse cx="181.7" cy="303.2" rx="1.1" ry="1.0" transform="rotate(56 181.7 303.2)" fill="#60408c" fill-opacity="0.74"/>
<ellipse cx="90.4" cy="327.1" rx="6.6" ry="5.1" transform="rotate(29 90.4 327.1)" fill="#d89ac4" fill-opacity="0.26"/>
<ellipse cx="92.1" cy="321.6" rx="4.1" ry="1.2" transform="rotate(27 92.1 321.6)" fill="#da68b2" fill-opacity="0.77"/>
<ellipse cx="85.3" cy="331.3" rx="5.1" ry="1.0" transform="rotate(40 85.3 331.3)" fill="#c8409e" fill-opacity="0.85"/>
<ellipse cx="90.4" cy="328.0" rx="3.4" ry="1.1" transform="rotate(34 90.4 328.0)" fill="#d450a8" fill-opacity="0.79"/>
<ellipse cx="88.2" cy="327.5" rx="5.8" ry="0.9" transform="rotate(52 88.2 327.5)" fill="#da68b2" fill-opacity="0.78"/>
<ellipse cx="85.3" cy="332.7" rx="6.7" ry="1.2" transform="rotate(27 85.3 332.7)" fill="#cc3a9c" fill-opacity="0.82"/>
<ellipse cx="92.2" cy="330.4" rx="1.6" ry="1.4" transform="rotate(8 92.2 330.4)" fill="#60408c" fill-opacity="0.67"/>
<ellipse cx="89.1" cy="326.5" rx="2.0" ry="1.0" transform="rotate(154 89.1 326.5)" fill="#52387e" fill-opacity="0.65"/>
<ellipse cx="90.3" cy="328.3" rx="1.9" ry="1.4" transform="rotate(32 90.3 328.3)" fill="#60408c" fill-opacity="0.76"/>
<ellipse cx="110.6" cy="316.4" rx="8.2" ry="5.4" transform="rotate(115 110.6 316.4)" fill="#d89ac4" fill-opacity="0.28"/>
<ellipse cx="112.3" cy="315.6" rx="4.8" ry="1.2" transform="rotate(101 112.3 315.6)" fill="#c03090" fill-opacity="0.86"/>
<ellipse cx="115.6" cy="319.6" rx="6.8" ry="0.9" transform="rotate(141 115.6 319.6)" fill="#da68b2" fill-opacity="0.66"/>
<ellipse cx="106.2" cy="314.3" rx="6.3" ry="1.1" transform="rotate(122 106.2 314.3)" fill="#c03090" fill-opacity="0.90"/>
<ellipse cx="115.3" cy="314.4" rx="4.6" ry="1.2" transform="rotate(129 115.3 314.4)" fill="#c8409e" fill-opacity="0.69"/>
<ellipse cx="108.3" cy="316.7" rx="5.8" ry="0.9" transform="rotate(130 108.3 316.7)" fill="#b02a88" fill-opacity="0.84"/>
<ellipse cx="111.4" cy="319.2" rx="6.6" ry="0.8" transform="rotate(93 111.4 319.2)" fill="#da68b2" fill-opacity="0.75"/>
<ellipse cx="104.9" cy="315.7" rx="3.4" ry="1.1" transform="rotate(135 104.9 315.7)" fill="#da68b2" fill-opacity="0.68"/>
<ellipse cx="108.3" cy="314.0" rx="2.1" ry="1.3" transform="rotate(172 108.3 314.0)" fill="#52387e" fill-opacity="0.69"/>
<ellipse cx="132.7" cy="323.6" rx="8.6" ry="4.6" transform="rotate(160 132.7 323.6)" fill="#d89ac4" fill-opacity="0.26"/>
<ellipse cx="134.2" cy="318.3" rx="3.5" ry="1.0" transform="rotate(193 134.2 318.3)" fill="#c8409e" fill-opacity="0.87"/>
<ellipse cx="125.7" cy="329.3" rx="5.4" ry="0.8" transform="rotate(180 125.7 329.3)" fill="#c8409e" fill-opacity="0.73"/>
<ellipse cx="133.8" cy="325.4" rx="5.4" ry="0.9" transform="rotate(165 133.8 325.4)" fill="#d450a8" fill-opacity="0.82"/>
<ellipse cx="128.1" cy="324.6" rx="6.0" ry="0.7" transform="rotate(196 128.1 324.6)" fill="#c8409e" fill-opacity="0.73"/>
<ellipse cx="135.2" cy="321.0" rx="6.3" ry="1.1" transform="rotate(131 135.2 321.0)" fill="#d450a8" fill-opacity="0.95"/>
<ellipse cx="128.9" cy="316.7" rx="6.3" ry="1.2" transform="rotate(128 128.9 316.7)" fill="#d450a8" fill-opacity="0.78"/>
<ellipse cx="133.2" cy="323.9" rx="1.8" ry="1.3" transform="rotate(152 133.2 323.9)" fill="#44306c" fill-opacity="0.72"/>
<ellipse cx="130.3" cy="323.9" rx="1.4" ry="1.2" transform="rotate(20 130.3 323.9)" fill="#52387e" fill-opacity="0.75"/>
<ellipse cx="133.9" cy="320.8" rx="1.4" ry="1.2" transform="rotate(119 133.9 320.8)" fill="#52387e" fill-opacity="0.68"/>
<ellipse cx="138.7" cy="321.6" rx="7.2" ry="5.0" transform="rotate(165 138.7 321.6)" fill="#d89ac4" fill-opacity="0.33"/>
<ellipse cx="143.3" cy="325.0" rx="3.0" ry="0.9" transform="rotate(138 143.3 325.0)" fill="#da68b2" fill-opacity="0.78"/>
<ellipse cx="134.2" cy="328.5" rx="5.1" ry="1.0" transform="rotate(191 134.2 328.5)" fill="#d450a8" fill-opacity="0.83"/>
<ellipse cx="135.2" cy="326.7" rx="5.9" ry="1.3" transform="rotate(130 135.2 326.7)" fill="#c8409e" fill-opacity="0.77"/>
<ellipse cx="137.2" cy="323.9" rx="4.6" ry="0.8" transform="rotate(151 137.2 323.9)" fill="#cc3a9c" fill-opacity="0.90"/>
<ellipse cx="133.9" cy="322.4" rx="3.6" ry="0.7" transform="rotate(148 133.9 322.4)" fill="#c8409e" fill-opacity="0.83"/>
<ellipse cx="135.4" cy="325.0" rx="5.9" ry="1.3" transform="rotate(209 135.4 325.0)" fill="#da68b2" fill-opacity="0.86"/>
<ellipse cx="140.9" cy="320.7" rx="1.1" ry="1.0" transform="rotate(170 140.9 320.7)" fill="#6c4494" fill-opacity="0.87"/>
<ellipse cx="135.1" cy="323.9" rx="1.4" ry="1.0" transform="rotate(78 135.1 323.9)" fill="#44306c" fill-opacity="0.92"/>
<ellipse cx="134.7" cy="321.1" rx="1.8" ry="1.1" transform="rotate(70 134.7 321.1)" fill="#60408c" fill-opacity="0.79"/>
<ellipse cx="153.5" cy="321.2" rx="6.3" ry="5.7" transform="rotate(51 153.5 321.2)" fill="#d89ac4" fill-opacity="0.31"/>
<ellipse cx="154.8" cy="314.3" rx="5.2" ry="1.1" transform="rotate(42 154.8 314.3)" fill="#da68b2" fill-opacity="0.71"/>
<ellipse cx="151.3" cy="326.6" rx="4.7" ry="0.9" transform="rotate(23 151.3 326.6)" fill="#cc3a9c" fill-opacity="0.88"/>
<ellipse cx="158.8" cy="324.7" rx="4.5" ry="0.9" transform="rotate(73 158.8 324.7)" fill="#da68b2" fill-opacity="0.77"/>
<ellipse cx="149.6" cy="324.4" rx="6.1" ry="1.0" transform="rotate(9 149.6 324.4)" fill="#cc3a9c" fill-opacity="0.94"/>
<ellipse cx="154.8" cy="320.9" rx="3.8" ry="1.0" transform="rotate(86 154.8 320.9)" fill="#da68b2" fill-opacity="0.71"/>
<ellipse cx="150.7" cy="321.1" rx="6.6" ry="0.8" transform="rotate(101 150.7 321.1)" fill="#da68b2" fill-opacity="0.74"/>
<ellipse cx="154.4" cy="324.6" rx="5.9" ry="1.2" transform="rotate(26 154.4 324.6)" fill="#d450a8" fill-opacity="0.75"/>
<ellipse cx="152.3" cy="324.4" rx="1.9" ry="1.3" transform="rotate(9 152.3 324.4)" fill="#44306c" fill-opacity="0.90"/>
<ellipse cx="176.5" cy="320.9" rx="8.6" ry="4.3" transform="rotate(80 176.5 320.9)" fill="#d89ac4" fill-opacity="0.34"/>
<ellipse cx="173.8" cy="314.0" rx="5.1" ry="0.8" transform="rotate(49 173.8 314.0)" fill="#c8409e" fill-opacity="0.90"/>
<ellipse cx="173.6" cy="318.5" rx="5.7" ry="1.2" transform="rotate(48 173.6 318.5)" fill="#d450a8" fill-opacity="0.89"/>
<ellipse cx="174.1" cy="320.4" rx="4.0" ry="1.2" transform="rotate(107 174.1 320.4)" fill="#cc3a9c" fill-opacity="0.82"/>
<ellipse cx="172.2" cy="321.9" rx="5.3" ry="1.1" transform="rotate(75 172.2 321.9)" fill="#c03090" fill-opacity="0.92"/>
<ellipse cx="173.4" cy="326.3" rx="3.2" ry="1.2" transform="rotate(53 173.4 326.3)" fill="#c03090" fill-opacity="0.93"/>
<ellipse cx="173.4" cy="318.2" rx="5.0" ry="0.9" transform="rotate(72 173.4 318.2)" fill="#cc3a9c" fill-opacity="0.88"/>
<ellipse cx="173.4" cy="319.7" rx="1.7" ry="1.0" transform="rotate(38 173.4 319.7)" fill="#44306c" fill-opacity="0.79"/>
<ellipse cx="179.7" cy="321.0" rx="1.7" ry="1.3" transform="rotate(50 179.7 321.0)" fill="#60408c" fill-opacity="0.76"/>
<ellipse cx="178.6" cy="321.4" rx="2.0" ry="1.4" transform="rotate(33 178.6 321.4)" fill="#52387e" fill-opacity="0.80"/>
<ellipse cx="189.9" cy="327.3" rx="7.7" ry="4.5" transform="rotate(131 189.9 327.3)" fill="#d89ac4" fill-opacity="0.28"/>
<ellipse cx="193.9" cy="330.7" rx="6.5" ry="1.2" transform="rotate(106 193.9 330.7)" fill="#c8409e" fill-opacity="0.83"/>
<ellipse cx="191.0" cy="331.9" rx="6.2" ry="1.2" transform="rotate(128 191.0 331.9)" fill="#d450a8" fill-opacity="0.78"/>
<ellipse cx="189.1" cy="327.2" rx="5.4" ry="0.7" transform="rotate(104 189.1 327.2)" fill="#c8409e" fill-opacity="0.66"/>
<ellipse cx="195.4" cy="333.2" rx="4.9" ry="1.2" transform="rotate(171 195.4 333.2)" fill="#c8409e" fill-opacity="0.84"/>
<ellipse cx="189.5" cy="331.1" rx="4.6" ry="0.9" transform="rotate(150 189.5 331.1)" fill="#cc3a9c" fill-opacity="0.84"/>
<ellipse cx="187.5" cy="321.6" rx="6.4" ry="1.3" transform="rotate(180 187.5 321.6)" fill="#cc3a9c" fill-opacity="0.79"/>
<ellipse cx="187.4" cy="324.9" rx="5.9" ry="0.8" transform="rotate(114 187.4 324.9)" fill="#c03090" fill-opacity="0.70"/>
<ellipse cx="190.6" cy="329.8" rx="1.6" ry="1.0" transform="rotate(92 190.6 329.8)" fill="#44306c" fill-opacity="0.88"/>
<ellipse cx="190.6" cy="330.5" rx="1.8" ry="1.3" transform="rotate(95 190.6 330.5)" fill="#52387e" fill-opacity="0.81"/>
<ellipse cx="187.7" cy="328.7" rx="6.1" ry="4.0" transform="rotate(142 187.7 328.7)" fill="#d89ac4" fill-opacity="0.35"/>
<ellipse cx="180.9" cy="322.3" rx="3.8" ry="0.8" transform="rotate(170 180.9 322.3)" fill="#b02a88" fill-opacity="0.83"/>
<ellipse cx="180.7" cy="326.1" rx="4.7" ry="1.3" transform="rotate(135 180.7 326.1)" fill="#d450a8" fill-opacity="0.93"/>
<ellipse cx="188.3" cy="329.5" rx="5.3" ry="1.1" transform="rotate(175 188.3 329.5)" fill="#d450a8" fill-opacity="0.78"/>
<ellipse cx="187.7" cy="328.2" rx="3.7" ry="0.7" transform="rotate(174 187.7 328.2)" fill="#c8409e" fill-opacity="0.84"/>
<ellipse cx="181.7" cy="326.2" rx="4.2" ry="0.7" transform="rotate(106 181.7 326.2)" fill="#c03090" fill-opacity="0.88"/>
<ellipse cx="186.3" cy="329.9" rx="3.1" ry="0.8" transform="rotate(136 186.3 329.9)" fill="#b02a88" fill-opacity="0.82"/>
<ellipse cx="188.8" cy="327.3" rx="4.2" ry="0.9" transform="rotate(167 188.8 327.3)" fill="#d450a8" fill-opacity="0.71"/>
<ellipse cx="188.6" cy="331.0" rx="1.2" ry="1.1" transform="rotate(117 188.6 331.0)" fill="#60408c" fill-opacity="0.70"/>
<ellipse cx="190.1" cy="328.6" rx="1.8" ry="1.1" transform="rotate(93 190.1 328.6)" fill="#6c4494" fill-opacity="0.80"/>
<ellipse cx="195.7" cy="330.1" rx="8.1" ry="5.0" transform="rotate(94 195.7 330.1)" fill="#d89ac4" fill-opacity="0.34"/>
<ellipse cx="194.3" cy="336.5" rx="4.1" ry="1.3" transform="rotate(48 194.3 336.5)" fill="#c8409e" fill-opacity="0.81"/>
<ellipse cx="200.9" cy="332.1" rx="3.9" ry="0.9" transform="rotate(127 200.9 332.1)" fill="#c03090" fill-opacity="0.73"/>
<ellipse cx="200.4" cy="332.9" rx="4.2" ry="1.2" transform="rotate(46 200.4 332.9)" fill="#b02a88" fill-opacity="0.91"/>
<ellipse cx="197.9" cy="335.1" rx="6.4" ry="1.0" transform="rotate(71 197.9 335.1)" fill="#d450a8" fill-opacity="0.72"/>
<ellipse cx="202.3" cy="332.4" rx="3.3" ry="0.7" transform="rotate(115 202.3 332.4)" fill="#d450a8" fill-opacity="0.67"/>
<ellipse cx="196.8" cy="333.6" rx="2.0" ry="1.3" transform="rotate(137 196.8 333.6)" fill="#44306c" fill-opacity="0.79"/>
<ellipse cx="191.8" cy="328.3" rx="2.0" ry="1.0" transform="rotate(141 191.8 328.3)" fill="#60408c" fill-opacity="0.72"/>
<ellipse cx="205.3" cy="318.4" rx="8.9" ry="4.3" transform="rotate(117 205.3 318.4)" fill="#d89ac4" fill-opacity="0.32"/>
<ellipse cx="208.4" cy="312.0" rx="5.0" ry="1.0" transform="rotate(126 208.4 312.0)" fill="#da68b2" fill-opacity="0.71"/>
<ellipse cx="202.6" cy="324.8" rx="5.4" ry="1.1" transform="rotate(157 202.6 324.8)" fill="#cc3a9c" fill-opacity="0.78"/>
<ellipse cx="203.7" cy="314.3" rx="4.9" ry="1.1" transform="rotate(73 203.7 314.3)" fill="#cc3a9c" fill-opacity="0.77"/>
<ellipse cx="200.6" cy="313.9" rx="6.4" ry="1.0" transform="rotate(108 200.6 313.9)" fill="#c8409e" fill-opacity="0.85"/>
<ellipse cx="206.0" cy="317.1" rx="5.8" ry="1.2" transform="rotate(129 206.0 317.1)" fill="#c03090" fill-opacity="0.70"/>
<ellipse cx="206.8" cy="321.8" rx="5.7" ry="0.9" transform="rotate(146 206.8 321.8)" fill="#c03090" fill-opacity="0.94"/>
<ellipse cx="203.0" cy="317.9" rx="1.6" ry="1.3" transform="rotate(92 203.0 317.9)" fill="#6c4494" fill-opacity="0.84"/>
<ellipse cx="201.4" cy="321.3" rx="1.7" ry="0.9" transform="rotate(60 201.4 321.3)" fill="#60408c" fill-opacity="0.71"/>
<ellipse cx="216.3" cy="324.9" rx="8.7" ry="4.6" transform="rotate(160 216.3 324.9)" fill="#d89ac4" fill-opacity="0.24"/>
<ellipse cx="219.7" cy="321.8" rx="4.6" ry="1.2" transform="rotate(127 219.7 321.8)" fill="#cc3a9c" fill-opacity="0.80"/>
<ellipse cx="219.7" cy="328.0" rx="5.4" ry="0.9" transform="rotate(112 219.7 328.0)" fill="#c03090" fill-opacity="0.89"/>
<ellipse cx="213.6" cy="328.6" rx="5.2" ry="1.2" transform="rotate(202 213.6 328.6)" fill="#d450a8" fill-opacity="0.89"/>
<ellipse cx="213.0" cy="325.7" rx="3.2" ry="1.2" transform="rotate(128 213.0 325.7)" fill="#da68b2" fill-opacity="0.88"/>
<ellipse cx="210.1" cy="325.5" rx="3.3" ry="1.2" transform="rotate(210 210.1 325.5)" fill="#d450a8" fill-opacity="0.86"/>
<ellipse cx="209.8" cy="323.3" rx="5.4" ry="0.9" transform="rotate(185 209.8 323.3)" fill="#b02a88" fill-opacity="0.88"/>
<ellipse cx="219.2" cy="326.1" rx="1.4" ry="1.1" transform="rotate(120 219.2 326.1)" fill="#6c4494" fill-opacity="0.84"/>
<ellipse cx="102.4" cy="337.4" rx="8.8" ry="5.9" transform="rotate(21 102.4 337.4)" fill="#d89ac4" fill-opacity="0.28"/>
<ellipse cx="102.5" cy="336.4" rx="3.6" ry="1.2" transform="rotate(-14 102.5 336.4)" fill="#d450a8" fill-opacity="0.94"/>
<ellipse cx="106.9" cy="331.8" rx="5.3" ry="0.8" transform="rotate(-9 106.9 331.8)" fill="#cc3a9c" fill-opacity="0.69"/>
<ellipse cx="105.4" cy="340.6" rx="3.5" ry="1.3" transform="rotate(19 105.4 340.6)" fill="#c03090" fill-opacity="0.74"/>
<ellipse cx="108.5" cy="338.2" rx="4.9" ry="1.0" transform="rotate(-17 108.5 338.2)" fill="#b02a88" fill-opacity="0.88"/>
<ellipse cx="101.3" cy="333.9" rx="1.6" ry="1.0" transform="rotate(128 101.3 333.9)" fill="#6c4494" fill-opacity="0.76"/>
<ellipse cx="117.3" cy="335.5" rx="7.1" ry="5.6" transform="rotate(83 117.3 335.5)" fill="#d89ac4" fill-opacity="0.27"/>
<ellipse cx="111.2" cy="337.9" rx="3.9" ry="1.2" transform="rotate(72 111.2 337.9)" fill="#d450a8" fill-opacity="0.83"/>
<ellipse cx="112.3" cy="333.1" rx="5.7" ry="1.3" transform="rotate(111 112.3 333.1)" fill="#d450a8" fill-opacity="0.79"/>
<ellipse cx="117.7" cy="329.7" rx="3.1" ry="0.8" transform="rotate(48 117.7 329.7)" fill="#c03090" fill-opacity="0.69"/>
<ellipse cx="113.4" cy="338.2" rx="5.2" ry="1.0" transform="rotate(89 113.4 338.2)" fill="#c03090" fill-opacity="0.84"/>
<ellipse cx="114.6" cy="337.3" rx="4.2" ry="1.0" transform="rotate(104 114.6 337.3)" fill="#cc3a9c" fill-opacity="0.83"/>
<ellipse cx="122.6" cy="341.1" rx="4.1" ry="0.8" transform="rotate(70 122.6 341.1)" fill="#c03090" fill-opacity="0.79"/>
<ellipse cx="114.1" cy="331.6" rx="2.1" ry="1.1" transform="rotate(132 114.1 331.6)" fill="#6c4494" fill-opacity="0.71"/>
<ellipse cx="113.6" cy="334.1" rx="1.6" ry="1.0" transform="rotate(68 113.6 334.1)" fill="#6c4494" fill-opacity="0.68"/>
<ellipse cx="121.2" cy="337.4" rx="1.3" ry="1.2" transform="rotate(106 121.2 337.4)" fill="#52387e" fill-opacity="0.76"/>
<ellipse cx="122.8" cy="331.6" rx="8.3" ry="4.2" transform="rotate(0 122.8 331.6)" fill="#d89ac4" fill-opacity="0.30"/>
<ellipse cx="125.2" cy="330.5" rx="6.4" ry="0.9" transform="rotate(39 125.2 330.5)" fill="#b02a88" fill-opacity="0.66"/>
<ellipse cx="122.3" cy="328.0" rx="6.4" ry="0.7" transform="rotate(0 122.3 328.0)" fill="#c8409e" fill-opacity="0.91"/>
<ellipse cx="116.0" cy="327.6" rx="4.3" ry="1.0" transform="rotate(25 116.0 327.6)" fill="#c03090" fill-opacity="0.90"/>
<ellipse cx="123.0" cy="324.9" rx="4.9" ry="1.2" transform="rotate(-38 123.0 324.9)" fill="#d450a8" fill-opacity="0.85"/>
<ellipse cx="126.3" cy="335.0" rx="3.1" ry="0.9" transform="rotate(34 126.3 335.0)" fill="#da68b2" fill-opacity="0.85"/>
<ellipse cx="121.2" cy="329.6" rx="2.1" ry="1.1" transform="rotate(2 121.2 329.6)" fill="#6c4494" fill-opacity="0.77"/>
<ellipse cx="122.9" cy="330.1" rx="1.9" ry="1.2" transform="rotate(61 122.9 330.1)" fill="#6c4494" fill-opacity="0.76"/>
<ellipse cx="121.5" cy="329.0" rx="1.5" ry="1.1" transform="rotate(116 121.5 329.0)" fill="#6c4494" fill-opacity="0.78"/>
<ellipse cx="133.9" cy="334.2" rx="8.2" ry="4.3" transform="rotate(156 133.9 334.2)" fill="#d89ac4" fill-opacity="0.33"/>
<ellipse cx="131.9" cy="336.6" rx="6.9" ry="1.2" transform="rotate(113 131.9 336.6)" fill="#c03090" fill-opacity="0.90"/>
<ellipse cx="137.3" cy="330.3" rx="6.9" ry="1.2" transform="rotate(170 137.3 330.3)" fill="#b02a88" fill-opacity="0.81"/>
<ellipse cx="130.6" cy="334.3" rx="4.0" ry="0.8" transform="rotate(149 130.6 334.3)" fill="#c8409e" fill-opacity="0.86"/>
<ellipse cx="136.2" cy="330.1" rx="4.3" ry="1.0" transform="rotate(115 136.2 330.1)" fill="#c03090" fill-opacity="0.84"/>
<ellipse cx="128.2" cy="328.7" rx="5.5" ry="1.0" transform="rotate(118 128.2 328.7)" fill="#c8409e" fill-opacity="0.75"/>
<ellipse cx="137.7" cy="331.8" rx="4.0" ry="1.1" transform="rotate(140 137.7 331.8)" fill="#c8409e" fill-opacity="0.85"/>
<ellipse cx="134.1" cy="335.1" rx="6.4" ry="1.0" transform="rotate(163 134.1 335.1)" fill="#da68b2" fill-opacity="0.73"/>
<ellipse cx="132.1" cy="330.9" rx="2.1" ry="1.1" transform="rotate(157 132.1 330.9)" fill="#52387e" fill-opacity="0.91"/>
<ellipse cx="130.3" cy="332.7" rx="1.8" ry="1.1" transform="rotate(92 130.3 332.7)" fill="#52387e" fill-opacity="0.66"/>
<ellipse cx="134.6" cy="337.3" rx="1.9" ry="1.0" transform="rotate(149 134.6 337.3)" fill="#60408c" fill-opacity="0.75"/>
<ellipse cx="157.2" cy="341.9" rx="7.5" ry="4.1" transform="rotate(53 157.2 341.9)" fill="#d89ac4" fill-opacity="0.26"/>
<ellipse cx="160.6" cy="338.8" rx="4.6" ry="1.2" transform="rotate(93 160.6 338.8)" fill="#d450a8" fill-opacity="0.88"/>
<ellipse cx="162.5" cy="341.7" rx="4.2" ry="1.2" transform="rotate(39 162.5 341.7)" fill="#c8409e" fill-opacity="0.75"/>
<ellipse cx="162.4" cy="339.2" rx="6.8" ry="0.9" transform="rotate(8 162.4 339.2)" fill="#da68b2" fill-opacity="0.71"/>
<ellipse cx="152.5" cy="346.9" rx="6.7" ry="1.3" transform="rotate(59 152.5 346.9)" fill="#cc3a9c" fill-opacity="0.73"/>
<ellipse cx="160.7" cy="339.7" rx="1.3" ry="1.4" transform="rotate(27 160.7 339.7)" fill="#44306c" fill-opacity="0.86"/>
<ellipse cx="171.2" cy="338.5" rx="6.5" ry="4.7" transform="rotate(126 171.2 338.5)" fill="#d89ac4" fill-opacity="0.27"/>
<ellipse cx="164.3" cy="341.3" rx="4.8" ry="1.1" transform="rotate(161 164.3 341.3)" fill="#c03090" fill-opacity="0.76"/>
<ellipse cx="167.0" cy="342.2" rx="3.7" ry="0.7" transform="rotate(157 167.0 342.2)" fill="#d450a8" fill-opacity="0.69"/>
<ellipse cx="171.0" cy="340.5" rx="6.5" ry="1.3" transform="rotate(155 171.0 340.5)" fill="#cc3a9c" fill-opacity="0.90"/>
<ellipse cx="168.1" cy="333.1" rx="5.6" ry="1.3" transform="rotate(106 168.1 333.1)" fill="#b02a88" fill-opacity="0.81"/>
<ellipse cx="168.6" cy="340.6" rx="2.1" ry="1.2" transform="rotate(7 168.6 340.6)" fill="#6c4494" fill-opacity="0.76"/>
<ellipse cx="180.1" cy="331.0" rx="7.7" ry="4.9" transform="rotate(160 180.1 331.0)" fill="#d89ac4" fill-opacity="0.32"/>
<ellipse cx="182.6" cy="329.6" rx="6.6" ry="1.1" transform="rotate(187 182.6 329.6)" fill="#c03090" fill-opacity="0.66"/>
<ellipse cx="183.7" cy="325.6" rx="3.2" ry="0.8" transform="rotate(207 183.7 325.6)" fill="#c03090" fill-opacity="0.75"/>
<ellipse cx="182.3" cy="330.2" rx="6.4" ry="0.9" transform="rotate(111 182.3 330.2)" fill="#d450a8" fill-opacity="0.91"/>
<ellipse cx="184.1" cy="337.5" rx="6.9" ry="1.0" transform="rotate(182 184.1 337.5)" fill="#cc3a9c" fill-opacity="0.80"/>
<ellipse cx="176.9" cy="332.0" rx="2.1" ry="1.1" transform="rotate(164 176.9 332.0)" fill="#60408c" fill-opacity="0.81"/>
<ellipse cx="179.6" cy="331.0" rx="1.9" ry="1.3" transform="rotate(160 179.6 331.0)" fill="#60408c" fill-opacity="0.79"/>
<ellipse cx="201.0" cy="338.9" rx="8.6" ry="5.3" transform="rotate(150 201.0 338.9)" fill="#d89ac4" fill-opacity="0.35"/>
<ellipse cx="206.3" cy="339.3" rx="6.3" ry="0.9" transform="rotate(142 206.3 339.3)" fill="#da68b2" fill-opacity="0.82"/>
<ellipse cx="205.5" cy="343.2" rx="3.4" ry="0.8" transform="rotate(113 205.5 343.2)" fill="#c03090" fill-opacity="0.70"/>
<ellipse cx="198.0" cy="336.4" rx="4.9" ry="1.2" transform="rotate(188 198.0 336.4)" fill="#da68b2" fill-opacity="0.77"/>
<ellipse cx="194.3" cy="334.3" rx="6.6" ry="1.2" transform="rotate(150 194.3 334.3)" fill="#cc3a9c" fill-opacity="0.89"/>
<ellipse cx="205.2" cy="341.0" rx="7.0" ry="1.1" transform="rotate(143 205.2 341.0)" fill="#da68b2" fill-opacity="0.81"/>
<ellipse cx="207.7" cy="339.8" rx="6.1" ry="1.1" transform="rotate(102 207.7 339.8)" fill="#cc3a9c" fill-opacity="0.81"/>
<ellipse cx="202.3" cy="345.2" rx="5.4" ry="0.9" transform="rotate(135 202.3 345.2)" fill="#cc3a9c" fill-opacity="0.75"/>
<ellipse cx="200.5" cy="340.8" rx="1.3" ry="1.3" transform="rotate(88 200.5 340.8)" fill="#52387e" fill-opacity="0.76"/>
<ellipse cx="200.1" cy="337.4" rx="1.3" ry="1.2" transform="rotate(28 200.1 337.4)" fill="#44306c" fill-opacity="0.68"/>
<ellipse cx="203.6" cy="338.8" rx="2.2" ry="1.2" transform="rotate(56 203.6 338.8)" fill="#6c4494" fill-opacity="0.88"/>
<ellipse cx="209.8" cy="339.4" rx="8.6" ry="4.1" transform="rotate(25 209.8 339.4)" fill="#d89ac4" fill-opacity="0.26"/>
<ellipse cx="213.2" cy="337.5" rx="6.2" ry="1.0" transform="rotate(64 213.2 337.5)" fill="#d450a8" fill-opacity="0.70"/>
<ellipse cx="208.7" cy="337.9" rx="4.9" ry="1.2" transform="rotate(59 208.7 337.9)" fill="#d450a8" fill-opacity="0.80"/>
<ellipse cx="213.2" cy="346.2" rx="6.8" ry="1.0" transform="rotate(60 213.2 346.2)" fill="#c03090" fill-opacity="0.82"/>
<ellipse cx="216.0" cy="341.4" rx="5.2" ry="1.2" transform="rotate(16 216.0 341.4)" fill="#d450a8" fill-opacity="0.77"/>
<ellipse cx="214.4" cy="339.6" rx="5.2" ry="1.2" transform="rotate(-24 214.4 339.6)" fill="#c8409e" fill-opacity="0.92"/>
<ellipse cx="204.1" cy="346.0" rx="4.0" ry="1.2" transform="rotate(50 204.1 346.0)" fill="#c03090" fill-opacity="0.69"/>
<ellipse cx="208.4" cy="340.2" rx="2.0" ry="0.9" transform="rotate(6 208.4 340.2)" fill="#6c4494" fill-opacity="0.84"/>
<ellipse cx="139.3" cy="351.6" rx="7.0" ry="4.1" transform="rotate(83 139.3 351.6)" fill="#d89ac4" fill-opacity="0.25"/>
<ellipse cx="137.1" cy="351.1" rx="6.9" ry="1.0" transform="rotate(116 137.1 351.1)" fill="#da68b2" fill-opacity="0.82"/>
<ellipse cx="140.4" cy="357.8" rx="6.0" ry="1.2" transform="rotate(85 140.4 357.8)" fill="#b02a88" fill-opacity="0.93"/>
<ellipse cx="145.0" cy="357.7" rx="4.9" ry="0.8" transform="rotate(38 145.0 357.7)" fill="#d450a8" fill-opacity="0.79"/>
<ellipse cx="146.3" cy="345.7" rx="5.1" ry="0.9" transform="rotate(66 146.3 345.7)" fill="#c8409e" fill-opacity="0.76"/>
<ellipse cx="135.7" cy="346.8" rx="5.6" ry="0.8" transform="rotate(91 135.7 346.8)" fill="#b02a88" fill-opacity="0.95"/>
<ellipse cx="141.2" cy="348.6" rx="3.0" ry="1.1" transform="rotate(97 141.2 348.6)" fill="#b02a88" fill-opacity="0.86"/>
<ellipse cx="141.9" cy="349.5" rx="4.2" ry="1.1" transform="rotate(89 141.9 349.5)" fill="#cc3a9c" fill-opacity="0.91"/>
<ellipse cx="136.2" cy="348.5" rx="2.0" ry="1.3" transform="rotate(78 136.2 348.5)" fill="#44306c" fill-opacity="0.84"/>
<ellipse cx="137.1" cy="355.3" rx="1.9" ry="1.1" transform="rotate(104 137.1 355.3)" fill="#6c4494" fill-opacity="0.78"/>
<ellipse cx="142.5" cy="350.4" rx="1.1" ry="1.3" transform="rotate(29 142.5 350.4)" fill="#60408c" fill-opacity="0.74"/>
<ellipse cx="148.5" cy="358.0" rx="7.9" ry="4.2" transform="rotate(102 148.5 358.0)" fill="#d89ac4" fill-opacity="0.32"/>
<ellipse cx="152.5" cy="360.8" rx="5.1" ry="1.2" transform="rotate(121 152.5 360.8)" fill="#d450a8" fill-opacity="0.94"/>
<ellipse cx="152.4" cy="357.1" rx="3.8" ry="0.9" transform="rotate(85 152.4 357.1)" fill="#da68b2" fill-opacity="0.76"/>
<ellipse cx="149.9" cy="353.8" rx="3.4" ry="1.1" transform="rotate(99 149.9 353.8)" fill="#c03090" fill-opacity="0.78"/>
<ellipse cx="153.9" cy="360.2" rx="4.4" ry="1.0" transform="rotate(79 153.9 360.2)" fill="#cc3a9c" fill-opacity="0.72"/>
<ellipse cx="150.7" cy="353.2" rx="6.8" ry="1.0" transform="rotate(91 150.7 353.2)" fill="#c8409e" fill-opacity="0.74"/>
<ellipse cx="145.4" cy="359.8" rx="1.3" ry="1.0" transform="rotate(44 145.4 359.8)" fill="#44306c" fill-opacity="0.70"/>
<ellipse cx="167.8" cy="357.9" rx="8.8" ry="4.5" transform="rotate(122 167.8 357.9)" fill="#d89ac4" fill-opacity="0.35"/>
<ellipse cx="166.3" cy="363.4" rx="6.0" ry="1.0" transform="rotate(163 166.3 363.4)" fill="#cc3a9c" fill-opacity="0.76"/>
<ellipse cx="173.6" cy="363.9" rx="5.4" ry="1.2" transform="rotate(82 173.6 363.9)" fill="#c8409e" fill-opacity="0.78"/>
<ellipse cx="166.7" cy="364.2" rx="4.0" ry="0.9" transform="rotate(74 166.7 364.2)" fill="#cc3a9c" fill-opacity="0.84"/>
<ellipse cx="169.1" cy="357.2" rx="6.1" ry="1.3" transform="rotate(118 169.1 357.2)" fill="#c03090" fill-opacity="0.75"/>
<ellipse cx="172.7" cy="364.2" rx="5.1" ry="1.2" transform="rotate(104 172.7 364.2)" fill="#d450a8" fill-opacity="0.78"/>
<ellipse cx="162.4" cy="351.2" rx="5.3" ry="1.1" transform="rotate(80 162.4 351.2)" fill="#b02a88" fill-opacity="0.71"/>
<ellipse cx="169.9" cy="360.6" rx="1.4" ry="1.0" transform="rotate(119 169.9 360.6)" fill="#6c4494" fill-opacity="0.70"/>
<ellipse cx="165.0" cy="360.3" rx="1.7" ry="1.3" transform="rotate(12 165.0 360.3)" fill="#60408c" fill-opacity="0.78"/>
<ellipse cx="170.2" cy="361.7" rx="1.8" ry="1.4" transform="rotate(160 170.2 361.7)" fill="#44306c" fill-opacity="0.72"/>
<ellipse cx="192.1" cy="350.6" rx="7.9" ry="5.4" transform="rotate(40 192.1 350.6)" fill="#d89ac4" fill-opacity="0.31"/>
<ellipse cx="186.6" cy="349.3" rx="4.4" ry="0.8" transform="rotate(18 186.6 349.3)" fill="#c03090" fill-opacity="0.81"/>
<ellipse cx="188.3" cy="353.0" rx="3.1" ry="1.1" transform="rotate(19 188.3 353.0)" fill="#cc3a9c" fill-opacity="0.90"/>
<ellipse cx="193.7" cy="344.2" rx="3.6" ry="0.8" transform="rotate(-5 193.7 344.2)" fill="#c8409e" fill-opacity="0.84"/>
<ellipse cx="193.7" cy="349.9" rx="4.4" ry="1.1" transform="rotate(5 193.7 349.9)" fill="#b02a88" fill-opacity="0.67"/>
<ellipse cx="190.2" cy="351.1" rx="6.3" ry="0.9" transform="rotate(57 190.2 351.1)" fill="#d450a8" fill-opacity="0.80"/>
<ellipse cx="195.7" cy="349.7" rx="3.8" ry="0.9" transform="rotate(22 195.7 349.7)" fill="#da68b2" fill-opacity="0.77"/>
<ellipse cx="193.6" cy="351.3" rx="5.2" ry="0.7" transform="rotate(-7 193.6 351.3)" fill="#d450a8" fill-opacity="0.70"/>
<ellipse cx="189.6" cy="346.9" rx="2.1" ry="1.0" transform="rotate(161 189.6 346.9)" fill="#52387e" fill-opacity="0.76"/>
<ellipse cx="193.6" cy="352.1" rx="7.5" ry="4.8" transform="rotate(177 193.6 352.1)" fill="#d89ac4" fill-opacity="0.31"/>
<ellipse cx="198.2" cy="348.2" rx="4.4" ry="1.1" transform="rotate(184 198.2 348.2)" fill="#c8409e" fill-opacity="0.84"/>
<ellipse cx="196.6" cy="352.4" rx="5.8" ry="0.7" transform="rotate(218 196.6 352.4)" fill="#c8409e" fill-opacity="0.65"/>
<ellipse cx="197.7" cy="347.1" rx="5.0" ry="1.0" transform="rotate(176 197.7 347.1)" fill="#da68b2" fill-opacity="0.65"/>
<ellipse cx="197.4" cy="345.8" rx="5.3" ry="1.0" transform="rotate(213 197.4 345.8)" fill="#d450a8" fill-opacity="0.85"/>
<ellipse cx="195.0" cy="356.1" rx="2.2" ry="1.4" transform="rotate(35 195.0 356.1)" fill="#6c4494" fill-opacity="0.86"/>
<ellipse cx="190.0" cy="349.7" rx="2.0" ry="1.0" transform="rotate(11 190.0 349.7)" fill="#6c4494" fill-opacity="0.92"/>
<ellipse cx="212.3" cy="349.4" rx="6.1" ry="4.8" transform="rotate(44 212.3 349.4)" fill="#d89ac4" fill-opacity="0.27"/>
<ellipse cx="218.7" cy="345.3" rx="5.1" ry="1.3" transform="rotate(-3 218.7 345.3)" fill="#c03090" fill-opacity="0.82"/>
<ellipse cx="214.3" cy="348.6" rx="6.2" ry="1.0" transform="rotate(18 214.3 348.6)" fill="#c8409e" fill-opacity="0.93"/>
<ellipse cx="208.0" cy="343.7" rx="5.6" ry="1.2" transform="rotate(56 208.0 343.7)" fill="#d450a8" fill-opacity="0.69"/>
<ellipse cx="208.3" cy="345.2" rx="5.9" ry="1.0" transform="rotate(64 208.3 345.2)" fill="#d450a8" fill-opacity="0.70"/>
<ellipse cx="213.7" cy="351.3" rx="5.3" ry="0.9" transform="rotate(36 213.7 351.3)" fill="#da68b2" fill-opacity="0.82"/>
<ellipse cx="207.8" cy="352.2" rx="5.5" ry="1.0" transform="rotate(18 207.8 352.2)" fill="#b02a88" fill-opacity="0.69"/>
<ellipse cx="216.6" cy="346.5" rx="3.5" ry="0.9" transform="rotate(37 216.6 346.5)" fill="#cc3a9c" fill-opacity="0.68"/>
<ellipse cx="213.4" cy="348.0" rx="2.1" ry="1.0" transform="rotate(126 213.4 348.0)" fill="#44306c" fill-opacity="0.90"/>
<ellipse cx="212.0" cy="347.8" rx="1.5" ry="1.0" transform="rotate(164 212.0 347.8)" fill="#6c4494" fill-opacity="0.87"/>
<ellipse cx="174.0" cy="373.9" rx="6.8" ry="4.8" transform="rotate(142 174.0 373.9)" fill="#d89ac4" fill-opacity="0.27"/>
<ellipse cx="175.5" cy="375.5" rx="6.8" ry="0.7" transform="rotate(147 175.5 375.5)" fill="#c03090" fill-opacity="0.92"/>
<ellipse cx="177.5" cy="379.0" rx="3.7" ry="1.2" transform="rotate(178 177.5 379.0)" fill="#b02a88" fill-opacity="0.77"/>
<ellipse cx="171.7" cy="373.2" rx="6.5" ry="1.2" transform="rotate(140 171.7 373.2)" fill="#c8409e" fill-opacity="0.89"/>
<ellipse cx="175.5" cy="374.5" rx="4.1" ry="0.7" transform="rotate(141 175.5 374.5)" fill="#cc3a9c" fill-opacity="0.73"/>
<ellipse cx="179.3" cy="368.1" rx="4.9" ry="0.8" transform="rotate(110 179.3 368.1)" fill="#c03090" fill-opacity="0.82"/>
<ellipse cx="169.2" cy="376.6" rx="3.7" ry="1.0" transform="rotate(130 169.2 376.6)" fill="#da68b2" fill-opacity="0.75"/>
<ellipse cx="171.1" cy="370.0" rx="1.4" ry="1.0" transform="rotate(23 171.1 370.0)" fill="#52387e" fill-opacity="0.84"/>
<ellipse cx="170.9" cy="373.3" rx="2.2" ry="1.0" transform="rotate(157 170.9 373.3)" fill="#44306c" fill-opacity="0.66"/>
<ellipse cx="185.6" cy="370.4" rx="8.1" ry="5.4" transform="rotate(70 185.6 370.4)" fill="#d89ac4" fill-opacity="0.31"/>
<ellipse cx="192.2" cy="370.8" rx="3.1" ry="0.8" transform="rotate(36 192.2 370.8)" fill="#b02a88" fill-opacity="0.74"/>
<ellipse cx="189.1" cy="366.4" rx="6.0" ry="1.0" transform="rotate(29 189.1 366.4)" fill="#da68b2" fill-opacity="0.85"/>
<ellipse cx="191.1" cy="364.5" rx="6.7" ry="0.8" transform="rotate(36 191.1 364.5)" fill="#cc3a9c" fill-opacity="0.70"/>
<ellipse cx="184.5" cy="372.1" rx="3.1" ry="1.0" transform="rotate(106 184.5 372.1)" fill="#d450a8" fill-opacity="0.79"/>
<ellipse cx="180.0" cy="372.0" rx="5.3" ry="1.2" transform="rotate(108 180.0 372.0)" fill="#c03090" fill-opacity="0.68"/>
<ellipse cx="182.0" cy="375.8" rx="5.3" ry="0.9" transform="rotate(58 182.0 375.8)" fill="#c8409e" fill-opacity="0.71"/>
<ellipse cx="192.0" cy="368.2" rx="5.3" ry="0.9" transform="rotate(70 192.0 368.2)" fill="#d450a8" fill-opacity="0.70"/>
<ellipse cx="183.2" cy="372.7" rx="1.9" ry="1.4" transform="rotate(121 183.2 372.7)" fill="#60408c" fill-opacity="0.67"/>
<ellipse cx="203.3" cy="370.8" rx="7.6" ry="4.6" transform="rotate(23 203.3 370.8)" fill="#d89ac4" fill-opacity="0.27"/>
<ellipse cx="201.7" cy="368.7" rx="5.3" ry="1.3" transform="rotate(15 201.7 368.7)" fill="#c8409e" fill-opacity="0.68"/>
<ellipse cx="196.8" cy="375.4" rx="4.7" ry="1.1" transform="rotate(-17 196.8 375.4)" fill="#d450a8" fill-opacity="0.88"/>
<ellipse cx="206.0" cy="374.1" rx="5.3" ry="1.0" transform="rotate(31 206.0 374.1)" fill="#c8409e" fill-opacity="0.77"/>
<ellipse cx="201.5" cy="367.0" rx="5.1" ry="1.2" transform="rotate(41 201.5 367.0)" fill="#c8409e" fill-opacity="0.82"/>
<ellipse cx="196.9" cy="366.7" rx="4.0" ry="0.7" transform="rotate(-23 196.9 366.7)" fill="#c8409e" fill-opacity="0.91"/>
<ellipse cx="200.0" cy="368.5" rx="3.4" ry="1.2" transform="rotate(23 200.0 368.5)" fill="#d450a8" fill-opacity="0.89"/>
<ellipse cx="196.8" cy="367.0" rx="3.8" ry="0.9" transform="rotate(61 196.8 367.0)" fill="#d450a8" fill-opacity="0.89"/>
<ellipse cx="205.2" cy="368.4" rx="1.9" ry="1.1" transform="rotate(2 205.2 368.4)" fill="#60408c" fill-opacity="0.77"/>
<ellipse cx="221.2" cy="361.4" rx="6.9" ry="4.4" transform="rotate(23 221.2 361.4)" fill="#d89ac4" fill-opacity="0.32"/>
<ellipse cx="217.0" cy="355.3" rx="4.8" ry="0.8" transform="rotate(34 217.0 355.3)" fill="#c03090" fill-opacity="0.79"/>
<ellipse cx="222.2" cy="363.3" rx="3.4" ry="1.3" transform="rotate(-12 222.2 363.3)" fill="#d450a8" fill-opacity="0.89"/>
<ellipse cx="220.3" cy="356.9" rx="6.7" ry="1.2" transform="rotate(58 220.3 356.9)" fill="#cc3a9c" fill-opacity="0.67"/>
<ellipse cx="224.5" cy="355.7" rx="3.8" ry="0.8" transform="rotate(73 224.5 355.7)" fill="#b02a88" fill-opacity="0.71"/>
<ellipse cx="222.6" cy="358.3" rx="5.8" ry="1.2" transform="rotate(4 222.6 358.3)" fill="#b02a88" fill-opacity="0.91"/>
<ellipse cx="225.2" cy="365.4" rx="6.6" ry="0.9" transform="rotate(-2 225.2 365.4)" fill="#c8409e" fill-opacity="0.87"/>
<ellipse cx="221.7" cy="360.5" rx="1.4" ry="1.2" transform="rotate(45 221.7 360.5)" fill="#52387e" fill-opacity="0.67"/>
<ellipse cx="224.5" cy="361.3" rx="1.5" ry="1.1" transform="rotate(174 224.5 361.3)" fill="#60408c" fill-opacity="0.79"/>
<ellipse cx="220.1" cy="361.8" rx="1.2" ry="0.9" transform="rotate(53 220.1 361.8)" fill="#6c4494" fill-opacity="0.90"/>
<ellipse cx="84.9" cy="247.8" rx="3.7" ry="0.7" transform="rotate(117 84.9 247.8)" fill="#d450a8" fill-opacity="0.73"/>
<ellipse cx="88.7" cy="241.7" rx="5.7" ry="1.0" transform="rotate(52 88.7 241.7)" fill="#b02a88" fill-opacity="0.84"/>
<ellipse cx="109.6" cy="240.8" rx="3.5" ry="0.8" transform="rotate(141 109.6 240.8)" fill="#c8409e" fill-opacity="0.68"/>
<ellipse cx="105.5" cy="241.7" rx="3.6" ry="0.8" transform="rotate(73 105.5 241.7)" fill="#d450a8" fill-opacity="0.64"/>
<ellipse cx="117.1" cy="244.7" rx="5.5" ry="1.1" transform="rotate(24 117.1 244.7)" fill="#da68b2" fill-opacity="0.80"/>
<ellipse cx="130.0" cy="249.3" rx="4.3" ry="0.8" transform="rotate(168 130.0 249.3)" fill="#cc3a9c" fill-opacity="0.61"/>
<ellipse cx="122.8" cy="244.1" rx="4.5" ry="0.9" transform="rotate(32 122.8 244.1)" fill="#b02a88" fill-opacity="0.78"/>
<ellipse cx="131.3" cy="242.8" rx="3.6" ry="0.9" transform="rotate(122 131.3 242.8)" fill="#cc3a9c" fill-opacity="0.69"/>
<ellipse cx="139.0" cy="250.7" rx="3.6" ry="1.2" transform="rotate(46 139.0 250.7)" fill="#da68b2" fill-opacity="0.82"/>
<ellipse cx="143.1" cy="241.6" rx="4.3" ry="0.9" transform="rotate(20 143.1 241.6)" fill="#c8409e" fill-opacity="0.62"/>
<ellipse cx="156.0" cy="251.1" rx="6.2" ry="1.1" transform="rotate(179 156.0 251.1)" fill="#c8409e" fill-opacity="0.64"/>
<ellipse cx="158.1" cy="246.9" rx="6.3" ry="1.0" transform="rotate(86 158.1 246.9)" fill="#c8409e" fill-opacity="0.77"/>
<ellipse cx="83.6" cy="255.5" rx="5.4" ry="0.7" transform="rotate(7 83.6 255.5)" fill="#c03090" fill-opacity="0.68"/>
<ellipse cx="76.7" cy="270.1" rx="5.1" ry="0.9" transform="rotate(162 76.7 270.1)" fill="#cc3a9c" fill-opacity="0.66"/>
<ellipse cx="95.7" cy="256.5" rx="6.2" ry="1.0" transform="rotate(59 95.7 256.5)" fill="#cc3a9c" fill-opacity="0.84"/>
<ellipse cx="106.3" cy="259.1" rx="4.2" ry="1.0" transform="rotate(40 106.3 259.1)" fill="#cc3a9c" fill-opacity="0.55"/>
<ellipse cx="110.7" cy="268.4" rx="5.5" ry="1.1" transform="rotate(137 110.7 268.4)" fill="#b02a88" fill-opacity="0.76"/>
<ellipse cx="105.0" cy="264.7" rx="3.7" ry="0.7" transform="rotate(134 105.0 264.7)" fill="#c03090" fill-opacity="0.56"/>
<ellipse cx="120.2" cy="263.0" rx="5.9" ry="0.8" transform="rotate(161 120.2 263.0)" fill="#c8409e" fill-opacity="0.63"/>
<ellipse cx="129.9" cy="259.3" rx="6.1" ry="0.8" transform="rotate(91 129.9 259.3)" fill="#c8409e" fill-opacity="0.61"/>
<ellipse cx="127.2" cy="268.9" rx="3.4" ry="1.0" transform="rotate(157 127.2 268.9)" fill="#c8409e" fill-opacity="0.85"/>
<ellipse cx="138.3" cy="259.8" rx="4.8" ry="1.1" transform="rotate(111 138.3 259.8)" fill="#c8409e" fill-opacity="0.75"/>
<ellipse cx="144.0" cy="265.3" rx="6.1" ry="0.8" transform="rotate(166 144.0 265.3)" fill="#cc3a9c" fill-opacity="0.66"/>
<ellipse cx="157.5" cy="264.7" rx="3.1" ry="0.8" transform="rotate(18 157.5 264.7)" fill="#c03090" fill-opacity="0.69"/>
<ellipse cx="87.0" cy="276.7" rx="5.9" ry="1.0" transform="rotate(10 87.0 276.7)" fill="#c8409e" fill-opacity="0.66"/>
<ellipse cx="86.9" cy="276.6" rx="3.9" ry="0.7" transform="rotate(105 86.9 276.6)" fill="#b02a88" fill-opacity="0.80"/>
<ellipse cx="99.2" cy="284.2" rx="5.2" ry="1.0" transform="rotate(3 99.2 284.2)" fill="#c8409e" fill-opacity="0.55"/>
<ellipse cx="95.7" cy="276.6" rx="3.7" ry="0.8" transform="rotate(85 95.7 276.6)" fill="#da68b2" fill-opacity="0.74"/>
<ellipse cx="109.1" cy="279.5" rx="4.7" ry="0.9" transform="rotate(139 109.1 279.5)" fill="#da68b2" fill-opacity="0.77"/>
<ellipse cx="111.4" cy="279.1" rx="3.9" ry="1.1" transform="rotate(128 111.4 279.1)" fill="#cc3a9c" fill-opacity="0.53"/>
<ellipse cx="127.6" cy="279.6" rx="4.8" ry="0.9" transform="rotate(178 127.6 279.6)" fill="#d450a8" fill-opacity="0.51"/>
<ellipse cx="131.3" cy="283.2" rx="3.8" ry="1.2" transform="rotate(76 131.3 283.2)" fill="#da68b2" fill-opacity="0.51"/>
<ellipse cx="127.7" cy="278.8" rx="3.3" ry="1.0" transform="rotate(156 127.7 278.8)" fill="#cc3a9c" fill-opacity="0.72"/>
<ellipse cx="135.9" cy="270.5" rx="4.0" ry="0.9" transform="rotate(59 135.9 270.5)" fill="#c03090" fill-opacity="0.69"/>
<ellipse cx="143.0" cy="276.1" rx="3.9" ry="0.9" transform="rotate(8 143.0 276.1)" fill="#cc3a9c" fill-opacity="0.62"/>
<ellipse cx="150.0" cy="273.2" rx="5.5" ry="0.9" transform="rotate(158 150.0 273.2)" fill="#c03090" fill-opacity="0.77"/>
<ellipse cx="156.0" cy="276.4" rx="4.5" ry="1.0" transform="rotate(46 156.0 276.4)" fill="#c03090" fill-opacity="0.53"/>
<ellipse cx="85.3" cy="285.3" rx="5.2" ry="0.8" transform="rotate(73 85.3 285.3)" fill="#d450a8" fill-opacity="0.58"/>
<ellipse cx="84.5" cy="286.2" rx="3.9" ry="1.1" transform="rotate(65 84.5 286.2)" fill="#cc3a9c" fill-opacity="0.58"/>
<ellipse cx="92.0" cy="289.5" rx="3.6" ry="0.8" transform="rotate(22 92.0 289.5)" fill="#cc3a9c" fill-opacity="0.74"/>
<ellipse cx="90.1" cy="291.3" rx="4.4" ry="0.9" transform="rotate(165 90.1 291.3)" fill="#c03090" fill-opacity="0.58"/>
<ellipse cx="89.2" cy="286.2" rx="4.7" ry="0.8" transform="rotate(102 89.2 286.2)" fill="#da68b2" fill-opacity="0.53"/>
<ellipse cx="107.5" cy="286.3" rx="4.1" ry="1.1" transform="rotate(97 107.5 286.3)" fill="#da68b2" fill-opacity="0.76"/>
<ellipse cx="112.6" cy="293.4" rx="3.8" ry="1.0" transform="rotate(106 112.6 293.4)" fill="#c8409e" fill-opacity="0.56"/>
<ellipse cx="115.6" cy="285.8" rx="3.4" ry="1.1" transform="rotate(65 115.6 285.8)" fill="#d450a8" fill-opacity="0.78"/>
<ellipse cx="120.0" cy="299.9" rx="3.4" ry="1.0" transform="rotate(5 120.0 299.9)" fill="#b02a88" fill-opacity="0.85"/>
<ellipse cx="120.4" cy="288.8" rx="3.6" ry="0.7" transform="rotate(42 120.4 288.8)" fill="#d450a8" fill-opacity="0.81"/>
<ellipse cx="132.0" cy="298.5" rx="6.3" ry="0.8" transform="rotate(41 132.0 298.5)" fill="#d450a8" fill-opacity="0.63"/>
<ellipse cx="133.0" cy="285.8" rx="6.3" ry="1.1" transform="rotate(20 133.0 285.8)" fill="#b02a88" fill-opacity="0.53"/>
<ellipse cx="155.5" cy="299.3" rx="6.3" ry="1.2" transform="rotate(36 155.5 299.3)" fill="#b02a88" fill-opacity="0.77"/>
<ellipse cx="149.9" cy="290.0" rx="3.6" ry="0.9" transform="rotate(178 149.9 290.0)" fill="#d450a8" fill-opacity="0.58"/>
<ellipse cx="170.9" cy="299.3" rx="3.4" ry="1.1" transform="rotate(84 170.9 299.3)" fill="#c03090" fill-opacity="0.82"/>
<ellipse cx="78.1" cy="308.5" rx="4.3" ry="0.8" transform="rotate(137 78.1 308.5)" fill="#c8409e" fill-opacity="0.52"/>
<ellipse cx="93.4" cy="315.0" rx="3.9" ry="1.0" transform="rotate(63 93.4 315.0)" fill="#da68b2" fill-opacity="0.74"/>
<ellipse cx="89.7" cy="303.3" rx="3.2" ry="1.1" transform="rotate(146 89.7 303.3)" fill="#cc3a9c" fill-opacity="0.81"/>
<ellipse cx="107.4" cy="307.8" rx="6.3" ry="0.7" transform="rotate(111 107.4 307.8)" fill="#d450a8" fill-opacity="0.63"/>
<ellipse cx="113.4" cy="302.6" rx="3.1" ry="0.9" transform="rotate(105 113.4 302.6)" fill="#d450a8" fill-opacity="0.84"/>
<ellipse cx="121.3" cy="311.0" rx="3.1" ry="1.1" transform="rotate(45 121.3 311.0)" fill="#c03090" fill-opacity="0.59"/>
<ellipse cx="127.1" cy="315.2" rx="3.6" ry="0.9" transform="rotate(34 127.1 315.2)" fill="#da68b2" fill-opacity="0.53"/>
<ellipse cx="123.1" cy="307.7" rx="4.6" ry="0.9" transform="rotate(2 123.1 307.7)" fill="#da68b2" fill-opacity="0.64"/>
<ellipse cx="147.2" cy="310.7" rx="4.4" ry="1.1" transform="rotate(49 147.2 310.7)" fill="#da68b2" fill-opacity="0.73"/>
<ellipse cx="142.5" cy="303.1" rx="4.3" ry="0.7" transform="rotate(52 142.5 303.1)" fill="#b02a88" fill-opacity="0.70"/>
<ellipse cx="160.1" cy="302.2" rx="4.7" ry="0.8" transform="rotate(3 160.1 302.2)" fill="#cc3a9c" fill-opacity="0.85"/>
<ellipse cx="175.5" cy="308.3" rx="6.3" ry="0.7" transform="rotate(65 175.5 308.3)" fill="#b02a88" fill-opacity="0.70"/>
<ellipse cx="173.8" cy="314.3" rx="3.7" ry="0.8" transform="rotate(96 173.8 314.3)" fill="#c8409e" fill-opacity="0.74"/>
<ellipse cx="179.8" cy="302.9" rx="3.7" ry="0.9" transform="rotate(128 179.8 302.9)" fill="#c8409e" fill-opacity="0.68"/>
<ellipse cx="92.9" cy="324.4" rx="4.1" ry="0.8" transform="rotate(133 92.9 324.4)" fill="#c03090" fill-opacity="0.81"/>
<ellipse cx="117.4" cy="330.0" rx="4.0" ry="1.2" transform="rotate(78 117.4 330.0)" fill="#d450a8" fill-opacity="0.50"/>
<ellipse cx="124.7" cy="325.1" rx="3.0" ry="0.8" transform="rotate(149 124.7 325.1)" fill="#da68b2" fill-opacity="0.60"/>
<ellipse cx="139.5" cy="318.1" rx="6.3" ry="0.9" transform="rotate(105 139.5 318.1)" fill="#da68b2" fill-opacity="0.81"/>
<ellipse cx="155.7" cy="321.4" rx="6.4" ry="0.9" transform="rotate(12 155.7 321.4)" fill="#cc3a9c" fill-opacity="0.76"/>
<ellipse cx="155.4" cy="326.3" rx="4.6" ry="0.9" transform="rotate(170 155.4 326.3)" fill="#da68b2" fill-opacity="0.52"/>
<ellipse cx="166.5" cy="327.1" rx="4.4" ry="1.1" transform="rotate(56 166.5 327.1)" fill="#d450a8" fill-opacity="0.72"/>
<ellipse cx="167.1" cy="320.6" rx="3.8" ry="0.9" transform="rotate(22 167.1 320.6)" fill="#cc3a9c" fill-opacity="0.65"/>
<ellipse cx="177.6" cy="320.8" rx="6.4" ry="0.8" transform="rotate(33 177.6 320.8)" fill="#da68b2" fill-opacity="0.77"/>
<ellipse cx="180.0" cy="330.0" rx="6.0" ry="1.0" transform="rotate(166 180.0 330.0)" fill="#da68b2" fill-opacity="0.64"/>
<ellipse cx="205.7" cy="322.9" rx="5.5" ry="0.8" transform="rotate(13 205.7 322.9)" fill="#cc3a9c" fill-opacity="0.58"/>
<ellipse cx="200.7" cy="324.3" rx="6.0" ry="1.0" transform="rotate(27 200.7 324.3)" fill="#cc3a9c" fill-opacity="0.61"/>
<ellipse cx="218.9" cy="328.3" rx="5.3" ry="1.0" transform="rotate(159 218.9 328.3)" fill="#c03090" fill-opacity="0.76"/>
<ellipse cx="98.9" cy="336.5" rx="3.6" ry="1.1" transform="rotate(162 98.9 336.5)" fill="#c03090" fill-opacity="0.79"/>
<ellipse cx="114.3" cy="344.0" rx="3.6" ry="0.8" transform="rotate(145 114.3 344.0)" fill="#cc3a9c" fill-opacity="0.56"/>
<ellipse cx="127.2" cy="345.2" rx="4.5" ry="1.0" transform="rotate(55 127.2 345.2)" fill="#cc3a9c" fill-opacity="0.84"/>
<ellipse cx="143.5" cy="331.8" rx="4.3" ry="1.1" transform="rotate(33 143.5 331.8)" fill="#da68b2" fill-opacity="0.57"/>
<ellipse cx="141.1" cy="334.1" rx="4.9" ry="1.1" transform="rotate(119 141.1 334.1)" fill="#da68b2" fill-opacity="0.56"/>
<ellipse cx="160.1" cy="335.1" rx="5.0" ry="1.1" transform="rotate(4 160.1 335.1)" fill="#d450a8" fill-opacity="0.50"/>
<ellipse cx="171.9" cy="343.8" rx="3.8" ry="0.7" transform="rotate(157 171.9 343.8)" fill="#c8409e" fill-opacity="0.65"/>
<ellipse cx="171.9" cy="339.4" rx="3.2" ry="1.1" transform="rotate(101 171.9 339.4)" fill="#c03090" fill-opacity="0.66"/>
<ellipse cx="191.0" cy="330.4" rx="5.7" ry="1.1" transform="rotate(92 191.0 330.4)" fill="#c03090" fill-opacity="0.70"/>
<ellipse cx="179.1" cy="333.5" rx="6.5" ry="0.8" transform="rotate(113 179.1 333.5)" fill="#b02a88" fill-opacity="0.60"/>
<ellipse cx="206.6" cy="332.9" rx="6.4" ry="0.8" transform="rotate(39 206.6 332.9)" fill="#da68b2" fill-opacity="0.84"/>
<ellipse cx="196.5" cy="337.3" rx="3.1" ry="0.9" transform="rotate(107 196.5 337.3)" fill="#b02a88" fill-opacity="0.65"/>
<ellipse cx="210.3" cy="333.0" rx="3.0" ry="1.2" transform="rotate(48 210.3 333.0)" fill="#c8409e" fill-opacity="0.75"/>
<ellipse cx="219.1" cy="332.4" rx="6.5" ry="1.2" transform="rotate(173 219.1 332.4)" fill="#d450a8" fill-opacity="0.58"/>
<ellipse cx="109.5" cy="345.5" rx="6.4" ry="0.9" transform="rotate(50 109.5 345.5)" fill="#da68b2" fill-opacity="0.58"/>
<ellipse cx="124.4" cy="354.5" rx="5.6" ry="0.8" transform="rotate(99 124.4 354.5)" fill="#b02a88" fill-opacity="0.60"/>
<ellipse cx="146.5" cy="353.9" rx="6.3" ry="1.1" transform="rotate(99 146.5 353.9)" fill="#c8409e" fill-opacity="0.75"/>
<ellipse cx="155.0" cy="354.1" rx="4.9" ry="1.2" transform="rotate(113 155.0 354.1)" fill="#c8409e" fill-opacity="0.60"/>
<ellipse cx="172.1" cy="354.0" rx="3.4" ry="1.1" transform="rotate(17 172.1 354.0)" fill="#da68b2" fill-opacity="0.59"/>
<ellipse cx="171.7" cy="349.2" rx="4.9" ry="0.8" transform="rotate(5 171.7 349.2)" fill="#d450a8" fill-opacity="0.54"/>
<ellipse cx="188.6" cy="354.4" rx="6.5" ry="0.8" transform="rotate(30 188.6 354.4)" fill="#cc3a9c" fill-opacity="0.55"/>
<ellipse cx="182.6" cy="350.7" rx="3.2" ry="1.1" transform="rotate(105 182.6 350.7)" fill="#da68b2" fill-opacity="0.65"/>
<ellipse cx="192.9" cy="353.5" rx="3.9" ry="1.1" transform="rotate(141 192.9 353.5)" fill="#c03090" fill-opacity="0.79"/>
<ellipse cx="205.2" cy="353.5" rx="4.5" ry="1.1" transform="rotate(84 205.2 353.5)" fill="#c03090" fill-opacity="0.53"/>
<ellipse cx="215.7" cy="345.8" rx="4.7" ry="1.0" transform="rotate(29 215.7 345.8)" fill="#d450a8" fill-opacity="0.67"/>
<ellipse cx="138.6" cy="363.2" rx="4.7" ry="1.0" transform="rotate(175 138.6 363.2)" fill="#c8409e" fill-opacity="0.78"/>
<ellipse cx="149.8" cy="363.6" rx="4.7" ry="1.1" transform="rotate(49 149.8 363.6)" fill="#c03090" fill-opacity="0.74"/>
<ellipse cx="167.7" cy="373.3" rx="5.7" ry="0.9" transform="rotate(148 167.7 373.3)" fill="#c03090" fill-opacity="0.68"/>
<ellipse cx="192.2" cy="365.1" rx="5.4" ry="0.8" transform="rotate(103 192.2 365.1)" fill="#b02a88" fill-opacity="0.69"/>
<ellipse cx="202.3" cy="362.6" rx="4.9" ry="0.7" transform="rotate(100 202.3 362.6)" fill="#d450a8" fill-opacity="0.51"/>
<ellipse cx="203.9" cy="369.7" rx="3.9" ry="1.0" transform="rotate(71 203.9 369.7)" fill="#da68b2" fill-opacity="0.74"/>
<ellipse cx="213.4" cy="364.7" rx="4.6" ry="0.7" transform="rotate(28 213.4 364.7)" fill="#da68b2" fill-opacity="0.72"/>
<ellipse cx="214.3" cy="363.7" rx="5.4" ry="0.8" transform="rotate(164 214.3 363.7)" fill="#d450a8" fill-opacity="0.73"/>
<ellipse cx="83.2" cy="240.6" rx="1.4" ry="1.2" transform="rotate(163 83.2 240.6)" fill="#60408c" fill-opacity="0.74"/>
<ellipse cx="91.4" cy="255.1" rx="1.5" ry="1.2" transform="rotate(57 91.4 255.1)" fill="#44306c" fill-opacity="0.88"/>
<ellipse cx="108.2" cy="240.3" rx="1.7" ry="1.2" transform="rotate(18 108.2 240.3)" fill="#52387e" fill-opacity="0.76"/>
<ellipse cx="131.4" cy="245.8" rx="1.6" ry="1.2" transform="rotate(60 131.4 245.8)" fill="#52387e" fill-opacity="0.68"/>
<ellipse cx="141.5" cy="246.8" rx="1.7" ry="1.0" transform="rotate(160 141.5 246.8)" fill="#6c4494" fill-opacity="0.61"/>
<ellipse cx="154.7" cy="250.6" rx="1.3" ry="0.9" transform="rotate(153 154.7 250.6)" fill="#6c4494" fill-opacity="0.81"/>
<ellipse cx="98.7" cy="257.0" rx="1.1" ry="0.9" transform="rotate(136 98.7 257.0)" fill="#6c4494" fill-opacity="0.83"/>
<ellipse cx="114.3" cy="263.8" rx="1.6" ry="1.2" transform="rotate(139 114.3 263.8)" fill="#6c4494" fill-opacity="0.77"/>
<ellipse cx="124.2" cy="262.9" rx="1.3" ry="1.0" transform="rotate(172 124.2 262.9)" fill="#6c4494" fill-opacity="0.82"/>
<ellipse cx="120.2" cy="265.4" rx="1.6" ry="1.0" transform="rotate(18 120.2 265.4)" fill="#44306c" fill-opacity="0.83"/>
<ellipse cx="143.5" cy="263.2" rx="1.3" ry="1.3" transform="rotate(104 143.5 263.2)" fill="#52387e" fill-opacity="0.79"/>
<ellipse cx="141.6" cy="266.7" rx="2.0" ry="1.0" transform="rotate(33 141.6 266.7)" fill="#44306c" fill-opacity="0.79"/>
<ellipse cx="149.9" cy="261.8" rx="1.5" ry="1.2" transform="rotate(73 149.9 261.8)" fill="#60408c" fill-opacity="0.66"/>
<ellipse cx="82.8" cy="283.7" rx="1.6" ry="1.1" transform="rotate(74 82.8 283.7)" fill="#60408c" fill-opacity="0.73"/>
<ellipse cx="89.5" cy="283.0" rx="1.5" ry="1.2" transform="rotate(96 89.5 283.0)" fill="#60408c" fill-opacity="0.80"/>
<ellipse cx="115.2" cy="285.1" rx="1.9" ry="1.1" transform="rotate(11 115.2 285.1)" fill="#52387e" fill-opacity="0.83"/>
<ellipse cx="120.4" cy="274.9" rx="1.8" ry="1.3" transform="rotate(168 120.4 274.9)" fill="#44306c" fill-opacity="0.90"/>
<ellipse cx="124.3" cy="283.9" rx="1.7" ry="1.0" transform="rotate(49 124.3 283.9)" fill="#52387e" fill-opacity="0.61"/>
<ellipse cx="143.0" cy="283.5" rx="1.8" ry="1.1" transform="rotate(107 143.0 283.5)" fill="#6c4494" fill-opacity="0.68"/>
<ellipse cx="157.2" cy="274.5" rx="1.7" ry="1.2" transform="rotate(137 157.2 274.5)" fill="#44306c" fill-opacity="0.62"/>
<ellipse cx="155.5" cy="275.6" rx="1.8" ry="1.2" transform="rotate(100 155.5 275.6)" fill="#60408c" fill-opacity="0.67"/>
<ellipse cx="171.7" cy="282.9" rx="1.6" ry="0.9" transform="rotate(151 171.7 282.9)" fill="#44306c" fill-opacity="0.78"/>
<ellipse cx="85.4" cy="299.3" rx="1.5" ry="1.0" transform="rotate(179 85.4 299.3)" fill="#6c4494" fill-opacity="0.78"/>
<ellipse cx="99.6" cy="289.0" rx="1.5" ry="0.9" transform="rotate(33 99.6 289.0)" fill="#44306c" fill-opacity="0.90"/>
<ellipse cx="101.2" cy="296.8" rx="1.4" ry="1.1" transform="rotate(27 101.2 296.8)" fill="#52387e" fill-opacity="0.87"/>
<ellipse cx="103.5" cy="290.7" rx="1.6" ry="1.2" transform="rotate(39 103.5 290.7)" fill="#52387e" fill-opacity="0.84"/>
<ellipse cx="113.2" cy="287.7" rx="1.9" ry="1.2" transform="rotate(43 113.2 287.7)" fill="#60408c" fill-opacity="0.73"/>
<ellipse cx="122.0" cy="287.4" rx="1.6" ry="1.3" transform="rotate(162 122.0 287.4)" fill="#6c4494" fill-opacity="0.85"/>
<ellipse cx="136.8" cy="289.8" rx="1.7" ry="1.2" transform="rotate(146 136.8 289.8)" fill="#44306c" fill-opacity="0.80"/>
<ellipse cx="152.6" cy="290.0" rx="1.9" ry="1.2" transform="rotate(8 152.6 290.0)" fill="#6c4494" fill-opacity="0.65"/>
<ellipse cx="85.2" cy="306.7" rx="1.5" ry="1.0" transform="rotate(42 85.2 306.7)" fill="#6c4494" fill-opacity="0.76"/>
<ellipse cx="91.4" cy="305.8" rx="2.0" ry="1.2" transform="rotate(159 91.4 305.8)" fill="#6c4494" fill-opacity="0.83"/>
<ellipse cx="113.6" cy="312.0" rx="2.0" ry="1.2" transform="rotate(29 113.6 312.0)" fill="#6c4494" fill-opacity="0.64"/>
<ellipse cx="127.9" cy="302.4" rx="1.7" ry="1.0" transform="rotate(99 127.9 302.4)" fill="#60408c" fill-opacity="0.74"/>
<ellipse cx="133.9" cy="312.6" rx="1.8" ry="0.9" transform="rotate(35 133.9 312.6)" fill="#52387e" fill-opacity="0.63"/>
<ellipse cx="149.9" cy="312.6" rx="1.3" ry="1.1" transform="rotate(128 149.9 312.6)" fill="#6c4494" fill-opacity="0.84"/>
<ellipse cx="169.3" cy="304.7" rx="1.8" ry="1.0" transform="rotate(134 169.3 304.7)" fill="#60408c" fill-opacity="0.62"/>
<ellipse cx="188.8" cy="314.4" rx="1.8" ry="1.3" transform="rotate(150 188.8 314.4)" fill="#6c4494" fill-opacity="0.85"/>
<ellipse cx="112.4" cy="323.6" rx="1.5" ry="1.1" transform="rotate(107 112.4 323.6)" fill="#60408c" fill-opacity="0.70"/>
<ellipse cx="123.9" cy="324.5" rx="1.5" ry="0.9" transform="rotate(21 123.9 324.5)" fill="#60408c" fill-opacity="0.65"/>
<ellipse cx="142.1" cy="325.0" rx="1.4" ry="1.2" transform="rotate(173 142.1 325.0)" fill="#6c4494" fill-opacity="0.66"/>
<ellipse cx="152.1" cy="317.6" rx="1.4" ry="1.0" transform="rotate(20 152.1 317.6)" fill="#44306c" fill-opacity="0.80"/>
<ellipse cx="175.2" cy="317.3" rx="1.2" ry="1.0" transform="rotate(147 175.2 317.3)" fill="#44306c" fill-opacity="0.77"/>
<ellipse cx="164.3" cy="322.9" rx="1.2" ry="0.9" transform="rotate(59 164.3 322.9)" fill="#6c4494" fill-opacity="0.84"/>
<ellipse cx="185.9" cy="318.8" rx="1.6" ry="1.2" transform="rotate(119 185.9 318.8)" fill="#44306c" fill-opacity="0.69"/>
<ellipse cx="191.3" cy="323.4" rx="1.3" ry="1.2" transform="rotate(115 191.3 323.4)" fill="#60408c" fill-opacity="0.63"/>
<ellipse cx="205.8" cy="324.1" rx="1.4" ry="0.9" transform="rotate(104 205.8 324.1)" fill="#44306c" fill-opacity="0.72"/>
<ellipse cx="203.3" cy="322.7" rx="1.8" ry="1.0" transform="rotate(63 203.3 322.7)" fill="#60408c" fill-opacity="0.78"/>
<ellipse cx="220.7" cy="326.5" rx="1.6" ry="1.1" transform="rotate(17 220.7 326.5)" fill="#52387e" fill-opacity="0.75"/>
<ellipse cx="136.2" cy="335.1" rx="1.2" ry="1.1" transform="rotate(42 136.2 335.1)" fill="#52387e" fill-opacity="0.78"/>
<ellipse cx="156.5" cy="331.2" rx="1.4" ry="1.1" transform="rotate(105 156.5 331.2)" fill="#60408c" fill-opacity="0.74"/>
<ellipse cx="174.5" cy="343.8" rx="1.2" ry="0.9" transform="rotate(179 174.5 343.8)" fill="#6c4494" fill-opacity="0.62"/>
<ellipse cx="174.3" cy="330.5" rx="1.4" ry="1.0" transform="rotate(25 174.3 330.5)" fill="#6c4494" fill-opacity="0.71"/>
<ellipse cx="177.9" cy="335.5" rx="1.9" ry="1.1" transform="rotate(145 177.9 335.5)" fill="#6c4494" fill-opacity="0.62"/>
<ellipse cx="181.7" cy="339.6" rx="1.5" ry="1.2" transform="rotate(145 181.7 339.6)" fill="#6c4494" fill-opacity="0.79"/>
<ellipse cx="197.5" cy="335.8" rx="2.0" ry="1.1" transform="rotate(174 197.5 335.8)" fill="#44306c" fill-opacity="0.78"/>
<ellipse cx="218.6" cy="334.7" rx="1.5" ry="1.0" transform="rotate(110 218.6 334.7)" fill="#60408c" fill-opacity="0.85"/>
<ellipse cx="103.3" cy="347.3" rx="1.1" ry="1.1" transform="rotate(140 103.3 347.3)" fill="#6c4494" fill-opacity="0.75"/>
<ellipse cx="142.4" cy="350.6" rx="1.3" ry="1.0" transform="rotate(68 142.4 350.6)" fill="#44306c" fill-opacity="0.67"/>
<ellipse cx="150.3" cy="353.9" rx="1.3" ry="1.1" transform="rotate(154 150.3 353.9)" fill="#60408c" fill-opacity="0.71"/>
<ellipse cx="163.1" cy="348.3" rx="1.7" ry="1.0" transform="rotate(88 163.1 348.3)" fill="#6c4494" fill-opacity="0.69"/>
<ellipse cx="173.7" cy="351.7" rx="1.7" ry="1.0" transform="rotate(56 173.7 351.7)" fill="#6c4494" fill-opacity="0.61"/>
<ellipse cx="181.6" cy="346.8" rx="1.4" ry="1.0" transform="rotate(16 181.6 346.8)" fill="#60408c" fill-opacity="0.86"/>
<ellipse cx="183.9" cy="346.1" rx="1.5" ry="1.3" transform="rotate(47 183.9 346.1)" fill="#52387e" fill-opacity="0.80"/>
<ellipse cx="193.2" cy="355.2" rx="1.7" ry="1.0" transform="rotate(140 193.2 355.2)" fill="#60408c" fill-opacity="0.75"/>
<ellipse cx="221.8" cy="351.3" rx="1.8" ry="1.2" transform="rotate(134 221.8 351.3)" fill="#52387e" fill-opacity="0.74"/>
<ellipse cx="145.4" cy="372.6" rx="2.0" ry="1.1" transform="rotate(146 145.4 372.6)" fill="#6c4494" fill-opacity="0.88"/>
<ellipse cx="158.6" cy="369.8" rx="1.8" ry="1.2" transform="rotate(48 158.6 369.8)" fill="#6c4494" fill-opacity="0.68"/>
<ellipse cx="164.0" cy="365.9" rx="1.5" ry="1.0" transform="rotate(135 164.0 365.9)" fill="#52387e" fill-opacity="0.87"/>
<ellipse cx="180.1" cy="362.4" rx="1.7" ry="0.9" transform="rotate(123 180.1 362.4)" fill="#60408c" fill-opacity="0.83"/>
<ellipse cx="204.5" cy="370.0" rx="1.1" ry="1.0" transform="rotate(27 204.5 370.0)" fill="#60408c" fill-opacity="0.79"/>
<ellipse cx="220.4" cy="373.4" rx="1.3" ry="0.9" transform="rotate(145 220.4 373.4)" fill="#44306c" fill-opacity="0.82"/>
<ellipse cx="194.7" cy="369.6" rx="1.4" ry="1.3" transform="rotate(100 194.7 369.6)" fill="#6e6488" fill-opacity="0.65"/>
<ellipse cx="160.9" cy="297.2" rx="1.0" ry="1.3" transform="rotate(65 160.9 297.2)" fill="#8a7c9c" fill-opacity="0.69"/>
<ellipse cx="153.2" cy="280.4" rx="1.0" ry="1.2" transform="rotate(46 153.2 280.4)" fill="#7a6e90" fill-opacity="0.74"/>
<ellipse cx="208.4" cy="286.3" rx="1.3" ry="1.2" transform="rotate(92 208.4 286.3)" fill="#8a7c9c" fill-opacity="0.65"/>
<ellipse cx="87.1" cy="319.0" rx="1.7" ry="1.0" transform="rotate(43 87.1 319.0)" fill="#7a6e90" fill-opacity="0.57"/>
<ellipse cx="82.5" cy="288.6" rx="1.3" ry="1.1" transform="rotate(82 82.5 288.6)" fill="#5c5478" fill-opacity="0.73"/>
<ellipse cx="135.2" cy="241.2" rx="1.5" ry="1.3" transform="rotate(150 135.2 241.2)" fill="#5c5478" fill-opacity="0.59"/>
<ellipse cx="208.6" cy="297.7" rx="1.6" ry="1.1" transform="rotate(123 208.6 297.7)" fill="#6e6488" fill-opacity="0.77"/>
<ellipse cx="208.1" cy="289.7" rx="1.7" ry="1.2" transform="rotate(101 208.1 289.7)" fill="#5c5478" fill-opacity="0.75"/>
<ellipse cx="155.1" cy="327.8" rx="1.7" ry="1.0" transform="rotate(6 155.1 327.8)" fill="#7a6e90" fill-opacity="0.79"/>
<ellipse cx="118.5" cy="316.2" rx="1.5" ry="0.9" transform="rotate(39 118.5 316.2)" fill="#8a7c9c" fill-opacity="0.56"/>
<ellipse cx="85.5" cy="299.4" rx="1.6" ry="1.3" transform="rotate(132 85.5 299.4)" fill="#6e6488" fill-opacity="0.71"/>
<ellipse cx="160.1" cy="316.6" rx="1.2" ry="1.2" transform="rotate(135 160.1 316.6)" fill="#8a7c9c" fill-opacity="0.65"/>
<ellipse cx="103.6" cy="298.3" rx="1.5" ry="1.3" transform="rotate(103 103.6 298.3)" fill="#7a6e90" fill-opacity="0.61"/>
<ellipse cx="212.2" cy="291.4" rx="1.3" ry="0.9" transform="rotate(137 212.2 291.4)" fill="#8a7c9c" fill-opacity="0.73"/>
<ellipse cx="206.7" cy="320.9" rx="1.4" ry="0.9" transform="rotate(165 206.7 320.9)" fill="#8a7c9c" fill-opacity="0.80"/>
<ellipse cx="163.1" cy="355.2" rx="1.3" ry="1.0" transform="rotate(110 163.1 355.2)" fill="#7a6e90" fill-opacity="0.73"/>
<ellipse cx="195.1" cy="337.4" rx="1.5" ry="1.2" transform="rotate(25 195.1 337.4)" fill="#5c5478" fill-opacity="0.79"/>
<ellipse cx="95.0" cy="242.2" rx="1.1" ry="1.2" transform="rotate(46 95.0 242.2)" fill="#6e6488" fill-opacity="0.57"/>
<ellipse cx="91.2" cy="329.8" rx="1.4" ry="1.0" transform="rotate(97 91.2 329.8)" fill="#6e6488" fill-opacity="0.57"/>
<ellipse cx="155.9" cy="302.5" rx="1.5" ry="0.9" transform="rotate(91 155.9 302.5)" fill="#7a6e90" fill-opacity="0.79"/>
<ellipse cx="93.4" cy="256.2" rx="1.0" ry="1.1" transform="rotate(115 93.4 256.2)" fill="#5c5478" fill-opacity="0.75"/>
<ellipse cx="117.7" cy="356.2" rx="1.8" ry="0.9" transform="rotate(11 117.7 356.2)" fill="#6e6488" fill-opacity="0.65"/>
<ellipse cx="186.9" cy="249.2" rx="1.3" ry="1.1" transform="rotate(99 186.9 249.2)" fill="#8a7c9c" fill-opacity="0.76"/>
<ellipse cx="121.5" cy="283.6" rx="1.2" ry="0.9" transform="rotate(98 121.5 283.6)" fill="#7a6e90" fill-opacity="0.83"/>
<ellipse cx="196.8" cy="251.4" rx="1.5" ry="1.1" transform="rotate(9 196.8 251.4)" fill="#6e6488" fill-opacity="0.58"/>
<ellipse cx="172.9" cy="245.2" rx="1.2" ry="1.0" transform="rotate(63 172.9 245.2)" fill="#8a7c9c" fill-opacity="0.56"/>
<ellipse cx="138.5" cy="292.1" rx="1.2" ry="1.0" transform="rotate(40 138.5 292.1)" fill="#5c5478" fill-opacity="0.81"/>
<ellipse cx="207.9" cy="290.6" rx="1.0" ry="1.0" transform="rotate(128 207.9 290.6)" fill="#5c5478" fill-opacity="0.74"/>
<ellipse cx="85.4" cy="345.0" rx="1.7" ry="1.2" transform="rotate(124 85.4 345.0)" fill="#6e6488" fill-opacity="0.73"/>
<ellipse cx="113.1" cy="361.7" rx="1.7" ry="1.0" transform="rotate(103 113.1 361.7)" fill="#8a7c9c" fill-opacity="0.81"/>
<ellipse cx="94.8" cy="327.1" rx="1.4" ry="1.0" transform="rotate(87 94.8 327.1)" fill="#7a6e90" fill-opacity="0.55"/>
<ellipse cx="203.4" cy="264.9" rx="1.6" ry="1.1" transform="rotate(123 203.4 264.9)" fill="#6e6488" fill-opacity="0.66"/>
<ellipse cx="85.9" cy="369.2" rx="1.2" ry="1.1" transform="rotate(155 85.9 369.2)" fill="#6e6488" fill-opacity="0.83"/>
<ellipse cx="142.1" cy="354.1" rx="1.5" ry="1.0" transform="rotate(71 142.1 354.1)" fill="#8a7c9c" fill-opacity="0.58"/>
<ellipse cx="170.7" cy="310.0" rx="1.3" ry="0.9" transform="rotate(116 170.7 310.0)" fill="#6e6488" fill-opacity="0.84"/>
<ellipse cx="163.7" cy="249.9" rx="1.7" ry="1.2" transform="rotate(120 163.7 249.9)" fill="#7a6e90" fill-opacity="0.59"/>
<ellipse cx="206.7" cy="265.9" rx="1.5" ry="1.1" transform="rotate(27 206.7 265.9)" fill="#7a6e90" fill-opacity="0.63"/>
<ellipse cx="120.0" cy="277.8" rx="1.7" ry="1.1" transform="rotate(84 120.0 277.8)" fill="#7a6e90" fill-opacity="0.74"/>
<ellipse cx="110.9" cy="303.7" rx="1.4" ry="1.2" transform="rotate(12 110.9 303.7)" fill="#6e6488" fill-opacity="0.58"/>
<ellipse cx="127.5" cy="322.8" rx="1.2" ry="1.2" transform="rotate(120 127.5 322.8)" fill="#5c5478" fill-opacity="0.84"/>
<ellipse cx="122.8" cy="314.6" rx="1.7" ry="1.2" transform="rotate(136 122.8 314.6)" fill="#8a7c9c" fill-opacity="0.72"/>
<ellipse cx="147.6" cy="318.0" rx="1.5" ry="1.2" transform="rotate(13 147.6 318.0)" fill="#5c5478" fill-opacity="0.59"/>
<ellipse cx="213.4" cy="347.8" rx="1.4" ry="1.3" transform="rotate(27 213.4 347.8)" fill="#5c5478" fill-opacity="0.76"/>
<ellipse cx="170.4" cy="343.2" rx="1.1" ry="1.2" transform="rotate(115 170.4 343.2)" fill="#7a6e90" fill-opacity="0.67"/>
<ellipse cx="135.5" cy="281.3" rx="1.7" ry="1.0" transform="rotate(128 135.5 281.3)" fill="#6e6488" fill-opacity="0.71"/>
<ellipse cx="202.2" cy="373.6" rx="1.7" ry="1.1" transform="rotate(127 202.2 373.6)" fill="#5c5478" fill-opacity="0.74"/>
<ellipse cx="209.5" cy="291.8" rx="1.2" ry="1.0" transform="rotate(170 209.5 291.8)" fill="#6e6488" fill-opacity="0.73"/>
<ellipse cx="152.6" cy="331.2" rx="1.3" ry="1.1" transform="rotate(72 152.6 331.2)" fill="#5c5478" fill-opacity="0.65"/>
<ellipse cx="203.7" cy="372.6" rx="1.5" ry="1.2" transform="rotate(153 203.7 372.6)" fill="#6e6488" fill-opacity="0.73"/>
<ellipse cx="129.1" cy="292.3" rx="1.8" ry="1.1" transform="rotate(16 129.1 292.3)" fill="#6e6488" fill-opacity="0.59"/>
<ellipse cx="109.8" cy="329.4" rx="1.6" ry="1.0" transform="rotate(167 109.8 329.4)" fill="#8a7c9c" fill-opacity="0.82"/>
<ellipse cx="154.2" cy="317.0" rx="1.1" ry="1.1" transform="rotate(118 154.2 317.0)" fill="#6e6488" fill-opacity="0.60"/>
<ellipse cx="194.1" cy="364.4" rx="1.1" ry="1.3" transform="rotate(160 194.1 364.4)" fill="#5c5478" fill-opacity="0.56"/>
<ellipse cx="202.8" cy="363.1" rx="1.1" ry="1.3" transform="rotate(148 202.8 363.1)" fill="#7a6e90" fill-opacity="0.82"/>
<ellipse cx="146.4" cy="305.2" rx="1.3" ry="1.0" transform="rotate(64 146.4 305.2)" fill="#5c5478" fill-opacity="0.77"/>
<ellipse cx="201.4" cy="260.3" rx="1.2" ry="1.0" transform="rotate(146 201.4 260.3)" fill="#6e6488" fill-opacity="0.60"/>
<ellipse cx="189.0" cy="303.8" rx="1.1" ry="1.3" transform="rotate(128 189.0 303.8)" fill="#5c5478" fill-opacity="0.78"/>
<ellipse cx="208.3" cy="250.2" rx="1.6" ry="1.1" transform="rotate(150 208.3 250.2)" fill="#5c5478" fill-opacity="0.71"/>
<ellipse cx="114.7" cy="354.9" rx="1.2" ry="1.1" transform="rotate(18 114.7 354.9)" fill="#5c5478" fill-opacity="0.71"/>
<ellipse cx="74.2" cy="245.1" rx="1.7" ry="1.0" transform="rotate(130 74.2 245.1)" fill="#8a7c9c" fill-opacity="0.84"/>
<ellipse cx="98.3" cy="270.5" rx="1.7" ry="1.0" transform="rotate(119 98.3 270.5)" fill="#7a6e90" fill-opacity="0.61"/>
<ellipse cx="154.5" cy="301.7" rx="1.7" ry="1.0" transform="rotate(70 154.5 301.7)" fill="#7a6e90" fill-opacity="0.57"/>
<ellipse cx="185.9" cy="325.3" rx="1.3" ry="1.1" transform="rotate(146 185.9 325.3)" fill="#8a7c9c" fill-opacity="0.65"/>
<ellipse cx="122.7" cy="316.2" rx="1.2" ry="1.2" transform="rotate(145 122.7 316.2)" fill="#7a6e90" fill-opacity="0.60"/>
<ellipse cx="178.4" cy="362.7" rx="1.7" ry="1.2" transform="rotate(79 178.4 362.7)" fill="#6e6488" fill-opacity="0.59"/>
<ellipse cx="136.9" cy="269.5" rx="1.5" ry="1.2" transform="rotate(69 136.9 269.5)" fill="#6e6488" fill-opacity="0.70"/>
<ellipse cx="144.2" cy="369.3" rx="1.2" ry="1.2" transform="rotate(83 144.2 369.3)" fill="#6e6488" fill-opacity="0.56"/>
<ellipse cx="102.9" cy="289.7" rx="1.3" ry="1.3" transform="rotate(94 102.9 289.7)" fill="#7a6e90" fill-opacity="0.59"/>
<ellipse cx="108.8" cy="326.2" rx="1.0" ry="1.1" transform="rotate(55 108.8 326.2)" fill="#5c5478" fill-opacity="0.69"/>
<ellipse cx="209.6" cy="367.8" rx="1.5" ry="1.0" transform="rotate(133 209.6 367.8)" fill="#8a7c9c" fill-opacity="0.59"/>
<ellipse cx="98.0" cy="292.6" rx="1.1" ry="0.9" transform="rotate(11 98.0 292.6)" fill="#8a7c9c" fill-opacity="0.58"/>
<ellipse cx="196.9" cy="330.0" rx="1.5" ry="0.9" transform="rotate(7 196.9 330.0)" fill="#8a7c9c" fill-opacity="0.62"/>
<ellipse cx="184.7" cy="262.5" rx="1.6" ry="1.2" transform="rotate(126 184.7 262.5)" fill="#8a7c9c" fill-opacity="0.77"/>
<ellipse cx="207.1" cy="359.1" rx="1.4" ry="1.0" transform="rotate(101 207.1 359.1)" fill="#6e6488" fill-opacity="0.67"/>
<ellipse cx="101.2" cy="245.9" rx="1.4" ry="1.0" transform="rotate(0 101.2 245.9)" fill="#8a7c9c" fill-opacity="0.83"/>
<ellipse cx="172.5" cy="246.4" rx="1.7" ry="0.9" transform="rotate(68 172.5 246.4)" fill="#5c5478" fill-opacity="0.63"/>
<ellipse cx="144.3" cy="311.3" rx="1.5" ry="1.1" transform="rotate(154 144.3 311.3)" fill="#6e6488" fill-opacity="0.61"/>
<ellipse cx="180.2" cy="370.2" rx="1.1" ry="1.2" transform="rotate(158 180.2 370.2)" fill="#6e6488" fill-opacity="0.58"/>
<ellipse cx="188.6" cy="351.5" rx="1.6" ry="0.9" transform="rotate(43 188.6 351.5)" fill="#5c5478" fill-opacity="0.62"/>
<ellipse cx="76.9" cy="242.4" rx="1.2" ry="1.1" transform="rotate(58 76.9 242.4)" fill="#7a6e90" fill-opacity="0.78"/>
<ellipse cx="207.1" cy="339.1" rx="1.6" ry="0.9" transform="rotate(68 207.1 339.1)" fill="#7a6e90" fill-opacity="0.75"/>
<ellipse cx="202.1" cy="245.3" rx="1.7" ry="1.2" transform="rotate(124 202.1 245.3)" fill="#6e6488" fill-opacity="0.72"/>
<ellipse cx="199.2" cy="296.1" rx="1.6" ry="0.9" transform="rotate(66 199.2 296.1)" fill="#8a7c9c" fill-opacity="0.82"/>
<ellipse cx="95.4" cy="318.1" rx="1.7" ry="1.1" transform="rotate(88 95.4 318.1)" fill="#6e6488" fill-opacity="0.64"/>
<ellipse cx="206.7" cy="254.3" rx="1.0" ry="1.0" transform="rotate(157 206.7 254.3)" fill="#6e6488" fill-opacity="0.57"/>
<ellipse cx="112.9" cy="261.6" rx="1.7" ry="1.3" transform="rotate(23 112.9 261.6)" fill="#7a6e90" fill-opacity="0.64"/>
<ellipse cx="79.1" cy="362.8" rx="1.6" ry="1.2" transform="rotate(97 79.1 362.8)" fill="#6e6488" fill-opacity="0.79"/>
<ellipse cx="83.7" cy="315.7" rx="1.3" ry="1.2" transform="rotate(90 83.7 315.7)" fill="#8a7c9c" fill-opacity="0.84"/>
<ellipse cx="80.6" cy="369.0" rx="1.2" ry="1.2" transform="rotate(12 80.6 369.0)" fill="#5c5478" fill-opacity="0.82"/>
<ellipse cx="154.4" cy="248.0" rx="1.8" ry="1.1" transform="rotate(78 154.4 248.0)" fill="#6e6488" fill-opacity="0.72"/>
<ellipse cx="145.1" cy="271.2" rx="1.1" ry="0.9" transform="rotate(8 145.1 271.2)" fill="#6e6488" fill-opacity="0.84"/>
<ellipse cx="131.7" cy="296.5" rx="1.4" ry="1.0" transform="rotate(130 131.7 296.5)" fill="#8a7c9c" fill-opacity="0.80"/>
<ellipse cx="204.6" cy="321.6" rx="1.3" ry="1.2" transform="rotate(153 204.6 321.6)" fill="#6e6488" fill-opacity="0.56"/>
<ellipse cx="197.1" cy="327.3" rx="1.2" ry="1.2" transform="rotate(55 197.1 327.3)" fill="#5c5478" fill-opacity="0.73"/>
<ellipse cx="161.0" cy="294.9" rx="1.2" ry="0.9" transform="rotate(142 161.0 294.9)" fill="#6e6488" fill-opacity="0.71"/>
<ellipse cx="152.4" cy="278.6" rx="1.2" ry="0.9" transform="rotate(52 152.4 278.6)" fill="#5c5478" fill-opacity="0.77"/>
<ellipse cx="88.1" cy="278.3" rx="1.4" ry="1.0" transform="rotate(85 88.1 278.3)" fill="#7a6e90" fill-opacity="0.82"/>
<ellipse cx="143.1" cy="282.2" rx="1.2" ry="1.2" transform="rotate(151 143.1 282.2)" fill="#7a6e90" fill-opacity="0.68"/>
<ellipse cx="170.1" cy="359.2" rx="1.7" ry="0.9" transform="rotate(35 170.1 359.2)" fill="#6e6488" fill-opacity="0.64"/>
<ellipse cx="131.7" cy="332.9" rx="1.5" ry="1.2" transform="rotate(134 131.7 332.9)" fill="#5c5478" fill-opacity="0.63"/>
<ellipse cx="107.3" cy="348.3" rx="1.2" ry="1.1" transform="rotate(91 107.3 348.3)" fill="#8a7c9c" fill-opacity="0.78"/>
<ellipse cx="94.0" cy="371.9" rx="1.0" ry="1.2" transform="rotate(169 94.0 371.9)" fill="#8a7c9c" fill-opacity="0.69"/>
<ellipse cx="183.7" cy="270.0" rx="1.2" ry="0.9" transform="rotate(49 183.7 270.0)" fill="#5c5478" fill-opacity="0.84"/>
<ellipse cx="98.2" cy="346.2" rx="1.1" ry="1.3" transform="rotate(51 98.2 346.2)" fill="#6e6488" fill-opacity="0.59"/>
<ellipse cx="190.8" cy="242.8" rx="1.1" ry="1.1" transform="rotate(14 190.8 242.8)" fill="#5c5478" fill-opacity="0.83"/>
<ellipse cx="206.4" cy="274.5" rx="1.7" ry="1.3" transform="rotate(97 206.4 274.5)" fill="#8a7c9c" fill-opacity="0.75"/>
<ellipse cx="211.8" cy="300.2" rx="1.8" ry="1.0" transform="rotate(29 211.8 300.2)" fill="#5c5478" fill-opacity="0.56"/>
<ellipse cx="147.2" cy="315.7" rx="1.1" ry="1.0" transform="rotate(60 147.2 315.7)" fill="#8a7c9c" fill-opacity="0.81"/>
<ellipse cx="78.2" cy="300.4" rx="1.8" ry="1.2" transform="rotate(96 78.2 300.4)" fill="#6e6488" fill-opacity="0.59"/>
<ellipse cx="120.2" cy="297.1" rx="1.1" ry="1.1" transform="rotate(3 120.2 297.1)" fill="#5c5478" fill-opacity="0.79"/>
<ellipse cx="130.0" cy="338.6" rx="1.7" ry="1.0" transform="rotate(21 130.0 338.6)" fill="#5c5478" fill-opacity="0.70"/>
<ellipse cx="104.3" cy="366.9" rx="1.7" ry="0.9" transform="rotate(88 104.3 366.9)" fill="#7a6e90" fill-opacity="0.82"/>
<ellipse cx="210.4" cy="349.0" rx="1.2" ry="1.1" transform="rotate(92 210.4 349.0)" fill="#7a6e90" fill-opacity="0.84"/>
<ellipse cx="95.3" cy="317.1" rx="1.3" ry="1.2" transform="rotate(138 95.3 317.1)" fill="#5c5478" fill-opacity="0.82"/>
<ellipse cx="194.1" cy="266.5" rx="1.5" ry="1.3" transform="rotate(36 194.1 266.5)" fill="#7a6e90" fill-opacity="0.63"/>
<ellipse cx="86.3" cy="327.4" rx="1.5" ry="1.0" transform="rotate(31 86.3 327.4)" fill="#6e6488" fill-opacity="0.76"/>
<ellipse cx="144.1" cy="357.1" rx="1.5" ry="1.1" transform="rotate(49 144.1 357.1)" fill="#5c5478" fill-opacity="0.84"/>
<ellipse cx="111.9" cy="325.7" rx="1.1" ry="1.1" transform="rotate(42 111.9 325.7)" fill="#5c5478" fill-opacity="0.58"/>
<ellipse cx="109.5" cy="287.7" rx="1.4" ry="1.2" transform="rotate(156 109.5 287.7)" fill="#6e6488" fill-opacity="0.60"/>
<ellipse cx="110.0" cy="367.4" rx="1.8" ry="1.0" transform="rotate(114 110.0 367.4)" fill="#8a7c9c" fill-opacity="0.82"/>
<ellipse cx="109.4" cy="282.7" rx="1.7" ry="1.2" transform="rotate(155 109.4 282.7)" fill="#6e6488" fill-opacity="0.57"/>
<ellipse cx="194.9" cy="341.3" rx="1.2" ry="1.1" transform="rotate(28 194.9 341.3)" fill="#5c5478" fill-opacity="0.77"/>
<ellipse cx="118.3" cy="253.6" rx="1.6" ry="1.3" transform="rotate(86 118.3 253.6)" fill="#5c5478" fill-opacity="0.78"/>
<ellipse cx="196.4" cy="329.6" rx="1.0" ry="1.1" transform="rotate(64 196.4 329.6)" fill="#6e6488" fill-opacity="0.67"/>
<ellipse cx="200.2" cy="262.8" rx="1.1" ry="1.2" transform="rotate(171 200.2 262.8)" fill="#7a6e90" fill-opacity="0.56"/>
<ellipse cx="96.2" cy="270.6" rx="1.7" ry="1.3" transform="rotate(9 96.2 270.6)" fill="#6e6488" fill-opacity="0.59"/>
<ellipse cx="147.1" cy="302.8" rx="1.8" ry="1.1" transform="rotate(127 147.1 302.8)" fill="#7a6e90" fill-opacity="0.82"/>
<ellipse cx="102.6" cy="268.5" rx="1.6" ry="1.0" transform="rotate(33 102.6 268.5)" fill="#6e6488" fill-opacity="0.70"/>
<ellipse cx="96.2" cy="279.9" rx="1.7" ry="1.0" transform="rotate(160 96.2 279.9)" fill="#6e6488" fill-opacity="0.60"/>
<ellipse cx="126.6" cy="362.0" rx="1.7" ry="0.9" transform="rotate(54 126.6 362.0)" fill="#6e6488" fill-opacity="0.73"/>
<ellipse cx="208.1" cy="323.2" rx="1.6" ry="1.3" transform="rotate(174 208.1 323.2)" fill="#5c5478" fill-opacity="0.63"/>
<ellipse cx="132.4" cy="264.3" rx="1.5" ry="1.0" transform="rotate(3 132.4 264.3)" fill="#7a6e90" fill-opacity="0.64"/>
<ellipse cx="206.8" cy="322.4" rx="1.2" ry="1.0" transform="rotate(85 206.8 322.4)" fill="#5c5478" fill-opacity="0.79"/>
<ellipse cx="178.0" cy="356.6" rx="1.6" ry="1.1" transform="rotate(8 178.0 356.6)" fill="#5c5478" fill-opacity="0.83"/>
<ellipse cx="126.3" cy="340.2" rx="1.5" ry="1.1" transform="rotate(168 126.3 340.2)" fill="#8a7c9c" fill-opacity="0.60"/>
<ellipse cx="177.8" cy="299.1" rx="1.0" ry="1.1" transform="rotate(178 177.8 299.1)" fill="#7a6e90" fill-opacity="0.77"/>
<ellipse cx="112.4" cy="363.6" rx="1.7" ry="1.2" transform="rotate(33 112.4 363.6)" fill="#8a7c9c" fill-opacity="0.71"/>
<ellipse cx="173.7" cy="257.3" rx="1.3" ry="1.0" transform="rotate(31 173.7 257.3)" fill="#6e6488" fill-opacity="0.60"/>
<ellipse cx="148.1" cy="243.1" rx="1.8" ry="1.0" transform="rotate(5 148.1 243.1)" fill="#6e6488" fill-opacity="0.75"/>
<ellipse cx="206.5" cy="322.6" rx="1.1" ry="1.1" transform="rotate(72 206.5 322.6)" fill="#5c5478" fill-opacity="0.75"/>
<ellipse cx="127.1" cy="250.7" rx="1.3" ry="1.3" transform="rotate(18 127.1 250.7)" fill="#5c5478" fill-opacity="0.68"/>
<ellipse cx="108.1" cy="329.7" rx="1.3" ry="1.2" transform="rotate(33 108.1 329.7)" fill="#6e6488" fill-opacity="0.84"/>
<ellipse cx="113.2" cy="295.6" rx="1.6" ry="1.1" transform="rotate(94 113.2 295.6)" fill="#5c5478" fill-opacity="0.80"/>
<ellipse cx="201.1" cy="246.8" rx="1.5" ry="0.9" transform="rotate(168 201.1 246.8)" fill="#7a6e90" fill-opacity="0.60"/>
<ellipse cx="186.6" cy="274.4" rx="1.1" ry="1.2" transform="rotate(104 186.6 274.4)" fill="#6e6488" fill-opacity="0.58"/>
<ellipse cx="80.0" cy="284.5" rx="1.7" ry="1.0" transform="rotate(87 80.0 284.5)" fill="#8a7c9c" fill-opacity="0.84"/>
<ellipse cx="205.2" cy="306.7" rx="1.6" ry="0.9" transform="rotate(56 205.2 306.7)" fill="#6e6488" fill-opacity="0.74"/>
<ellipse cx="165.5" cy="310.2" rx="1.3" ry="1.0" transform="rotate(107 165.5 310.2)" fill="#8a7c9c" fill-opacity="0.76"/>
<ellipse cx="116.5" cy="291.5" rx="1.2" ry="1.1" transform="rotate(124 116.5 291.5)" fill="#5c5478" fill-opacity="0.68"/>
<ellipse cx="117.8" cy="290.4" rx="1.3" ry="1.1" transform="rotate(125 117.8 290.4)" fill="#6e6488" fill-opacity="0.56"/>
<ellipse cx="202.2" cy="342.1" rx="1.2" ry="1.3" transform="rotate(152 202.2 342.1)" fill="#7a6e90" fill-opacity="0.77"/>
<ellipse cx="103.5" cy="362.1" rx="1.4" ry="1.0" transform="rotate(139 103.5 362.1)" fill="#8a7c9c" fill-opacity="0.69"/>
<ellipse cx="117.1" cy="331.3" rx="1.8" ry="1.1" transform="rotate(79 117.1 331.3)" fill="#8a7c9c" fill-opacity="0.80"/>
<ellipse cx="207.0" cy="296.2" rx="1.5" ry="1.0" transform="rotate(10 207.0 296.2)" fill="#6e6488" fill-opacity="0.70"/>
<ellipse cx="180.8" cy="331.4" rx="1.4" ry="1.3" transform="rotate(16 180.8 331.4)" fill="#8a7c9c" fill-opacity="0.84"/>
<ellipse cx="184.5" cy="252.7" rx="1.3" ry="1.2" transform="rotate(137 184.5 252.7)" fill="#8a7c9c" fill-opacity="0.57"/>
<ellipse cx="210.8" cy="269.3" rx="1.0" ry="1.3" transform="rotate(142 210.8 269.3)" fill="#6e6488" fill-opacity="0.65"/>
<ellipse cx="163.1" cy="324.7" rx="1.4" ry="1.1" transform="rotate(34 163.1 324.7)" fill="#7a6e90" fill-opacity="0.74"/>
<ellipse cx="220.0" cy="336.3" rx="1.7" ry="1.3" transform="rotate(133 220.0 336.3)" fill="#7a6e90" fill-opacity="0.78"/>
</g>
<rect x="227.5" y="239.2" width="148.7" height="136.8" fill="#c8c4c9"/>
<g clip-path="url(#c2)" filter="url(#bl4)">
<ellipse cx="343.3" cy="271.4" rx="11.7" ry="5.2" transform="rotate(40 343.3 271.4)" fill="#d0c8d2" fill-opacity="0.39"/>
<ellipse cx="294.7" cy="345.2" rx="9.2" ry="7.9" transform="rotate(171 294.7 345.2)" fill="#d0c8d2" fill-opacity="0.35"/>
<ellipse cx="282.1" cy="273.4" rx="12.0" ry="8.1" transform="rotate(79 282.1 273.4)" fill="#d6d2d8" fill-opacity="0.43"/>
<ellipse cx="236.9" cy="276.8" rx="8.3" ry="8.6" transform="rotate(119 236.9 276.8)" fill="#d0c8d2" fill-opacity="0.43"/>
<ellipse cx="271.6" cy="256.5" rx="15.7" ry="10.9" transform="rotate(31 271.6 256.5)" fill="#d0c8d2" fill-opacity="0.35"/>
<ellipse cx="361.6" cy="323.5" rx="10.4" ry="11.4" transform="rotate(111 361.6 323.5)" fill="#d6d2d8" fill-opacity="0.32"/>
<ellipse cx="309.2" cy="327.0" rx="14.5" ry="5.6" transform="rotate(35 309.2 327.0)" fill="#bdb8c2" fill-opacity="0.30"/>
<ellipse cx="265.4" cy="311.8" rx="10.1" ry="7.6" transform="rotate(154 265.4 311.8)" fill="#bdb8c2" fill-opacity="0.42"/>
<ellipse cx="288.4" cy="247.6" rx="11.6" ry="11.2" transform="rotate(158 288.4 247.6)" fill="#d0c8d2" fill-opacity="0.33"/>
<ellipse cx="253.1" cy="295.6" rx="14.3" ry="7.4" transform="rotate(19 253.1 295.6)" fill="#d6d2d8" fill-opacity="0.35"/>
<ellipse cx="313.6" cy="300.7" rx="10.4" ry="10.0" transform="rotate(179 313.6 300.7)" fill="#bdb8c2" fill-opacity="0.35"/>
<ellipse cx="264.2" cy="355.4" rx="9.0" ry="5.1" transform="rotate(45 264.2 355.4)" fill="#d6d2d8" fill-opacity="0.40"/>
<ellipse cx="232.1" cy="357.7" rx="14.0" ry="7.9" transform="rotate(137 232.1 357.7)" fill="#d6d2d8" fill-opacity="0.37"/>
<ellipse cx="363.0" cy="367.9" rx="10.5" ry="7.7" transform="rotate(57 363.0 367.9)" fill="#bdb8c2" fill-opacity="0.35"/>
<ellipse cx="325.1" cy="316.1" rx="11.8" ry="8.9" transform="rotate(97 325.1 316.1)" fill="#d0c8d2" fill-opacity="0.44"/>
<ellipse cx="301.8" cy="313.4" rx="14.1" ry="8.8" transform="rotate(170 301.8 313.4)" fill="#d0c8d2" fill-opacity="0.27"/>
<ellipse cx="294.1" cy="317.4" rx="8.7" ry="6.2" transform="rotate(120 294.1 317.4)" fill="#d0c8d2" fill-opacity="0.30"/>
<ellipse cx="317.1" cy="308.4" rx="19.8" ry="5.4" transform="rotate(77 317.1 308.4)" fill="#d6d2d8" fill-opacity="0.39"/>
<ellipse cx="239.5" cy="253.1" rx="16.4" ry="11.8" transform="rotate(5 239.5 253.1)" fill="#bdb8c2" fill-opacity="0.40"/>
<ellipse cx="360.8" cy="346.5" rx="10.9" ry="8.2" transform="rotate(148 360.8 346.5)" fill="#d6d2d8" fill-opacity="0.37"/>
<ellipse cx="362.8" cy="354.8" rx="12.6" ry="10.5" transform="rotate(53 362.8 354.8)" fill="#bdb8c2" fill-opacity="0.29"/>
<ellipse cx="362.0" cy="371.2" rx="14.5" ry="10.5" transform="rotate(126 362.0 371.2)" fill="#d0c8d2" fill-opacity="0.34"/>
<ellipse cx="280.5" cy="268.5" rx="12.4" ry="10.2" transform="rotate(112 280.5 268.5)" fill="#d6d2d8" fill-opacity="0.25"/>
<ellipse cx="278.7" cy="244.2" rx="18.3" ry="11.0" transform="rotate(21 278.7 244.2)" fill="#d0c8d2" fill-opacity="0.30"/>
<ellipse cx="287.7" cy="321.5" rx="18.9" ry="6.6" transform="rotate(80 287.7 321.5)" fill="#d0c8d2" fill-opacity="0.32"/>
<ellipse cx="284.2" cy="284.9" rx="13.2" ry="11.2" transform="rotate(167 284.2 284.9)" fill="#d0c8d2" fill-opacity="0.31"/>
<ellipse cx="326.7" cy="330.1" rx="15.7" ry="7.7" transform="rotate(121 326.7 330.1)" fill="#d0c8d2" fill-opacity="0.34"/>
<ellipse cx="303.5" cy="372.9" rx="13.9" ry="9.2" transform="rotate(164 303.5 372.9)" fill="#d0c8d2" fill-opacity="0.27"/>
<ellipse cx="300.6" cy="330.5" rx="11.9" ry="8.3" transform="rotate(95 300.6 330.5)" fill="#bdb8c2" fill-opacity="0.35"/>
<ellipse cx="309.9" cy="356.2" rx="10.8" ry="8.7" transform="rotate(147 309.9 356.2)" fill="#bdb8c2" fill-opacity="0.42"/>
<ellipse cx="332.2" cy="275.6" rx="1.3" ry="1.1" transform="rotate(22 332.2 275.6)" fill="#766a8c" fill-opacity="0.53"/>
<ellipse cx="302.7" cy="337.6" rx="1.9" ry="1.2" transform="rotate(163 302.7 337.6)" fill="#766a8c" fill-opacity="0.56"/>
<ellipse cx="336.2" cy="364.0" rx="1.1" ry="1.0" transform="rotate(170 336.2 364.0)" fill="#585072" fill-opacity="0.62"/>
<ellipse cx="330.6" cy="282.5" rx="1.6" ry="0.9" transform="rotate(11 330.6 282.5)" fill="#766a8c" fill-opacity="0.75"/>
<ellipse cx="371.1" cy="280.2" rx="1.3" ry="1.3" transform="rotate(159 371.1 280.2)" fill="#585072" fill-opacity="0.74"/>
<ellipse cx="351.0" cy="320.9" rx="1.2" ry="1.0" transform="rotate(0 351.0 320.9)" fill="#766a8c" fill-opacity="0.63"/>
<ellipse cx="235.3" cy="348.1" rx="1.7" ry="1.3" transform="rotate(153 235.3 348.1)" fill="#6a6084" fill-opacity="0.60"/>
<ellipse cx="269.6" cy="314.3" rx="1.8" ry="1.1" transform="rotate(171 269.6 314.3)" fill="#585072" fill-opacity="0.84"/>
<ellipse cx="293.5" cy="261.3" rx="1.2" ry="1.2" transform="rotate(5 293.5 261.3)" fill="#585072" fill-opacity="0.65"/>
<ellipse cx="297.7" cy="320.4" rx="1.1" ry="1.0" transform="rotate(23 297.7 320.4)" fill="#766a8c" fill-opacity="0.53"/>
<ellipse cx="306.6" cy="364.1" rx="1.6" ry="1.4" transform="rotate(139 306.6 364.1)" fill="#85789a" fill-opacity="0.62"/>
<ellipse cx="340.1" cy="313.5" rx="1.6" ry="1.3" transform="rotate(125 340.1 313.5)" fill="#766a8c" fill-opacity="0.65"/>
<ellipse cx="336.9" cy="318.4" rx="1.0" ry="1.2" transform="rotate(54 336.9 318.4)" fill="#585072" fill-opacity="0.65"/>
<ellipse cx="262.0" cy="313.0" rx="1.6" ry="1.3" transform="rotate(158 262.0 313.0)" fill="#6a6084" fill-opacity="0.79"/>
<ellipse cx="310.5" cy="340.0" rx="1.8" ry="1.2" transform="rotate(91 310.5 340.0)" fill="#85789a" fill-opacity="0.52"/>
<ellipse cx="336.8" cy="371.6" rx="1.8" ry="1.3" transform="rotate(3 336.8 371.6)" fill="#6a6084" fill-opacity="0.55"/>
<ellipse cx="310.1" cy="329.6" rx="1.5" ry="1.1" transform="rotate(90 310.1 329.6)" fill="#585072" fill-opacity="0.53"/>
<ellipse cx="245.9" cy="297.3" rx="1.3" ry="1.0" transform="rotate(74 245.9 297.3)" fill="#585072" fill-opacity="0.60"/>
<ellipse cx="333.6" cy="364.1" rx="1.4" ry="1.0" transform="rotate(13 333.6 364.1)" fill="#585072" fill-opacity="0.56"/>
<ellipse cx="263.8" cy="366.2" rx="1.3" ry="1.4" transform="rotate(32 263.8 366.2)" fill="#6a6084" fill-opacity="0.84"/>
<ellipse cx="249.4" cy="314.6" rx="1.4" ry="1.2" transform="rotate(31 249.4 314.6)" fill="#766a8c" fill-opacity="0.70"/>
<ellipse cx="246.0" cy="356.0" rx="1.3" ry="1.2" transform="rotate(38 246.0 356.0)" fill="#6a6084" fill-opacity="0.73"/>
<ellipse cx="232.0" cy="326.1" rx="1.7" ry="1.0" transform="rotate(9 232.0 326.1)" fill="#766a8c" fill-opacity="0.75"/>
<ellipse cx="308.9" cy="353.7" rx="1.3" ry="1.3" transform="rotate(80 308.9 353.7)" fill="#766a8c" fill-opacity="0.75"/>
<ellipse cx="302.6" cy="368.5" rx="1.0" ry="1.1" transform="rotate(121 302.6 368.5)" fill="#585072" fill-opacity="0.67"/>
<ellipse cx="305.0" cy="364.0" rx="1.2" ry="1.3" transform="rotate(35 305.0 364.0)" fill="#585072" fill-opacity="0.52"/>
<ellipse cx="305.9" cy="312.6" rx="1.4" ry="1.1" transform="rotate(22 305.9 312.6)" fill="#85789a" fill-opacity="0.51"/>
<ellipse cx="373.6" cy="355.1" rx="1.6" ry="1.2" transform="rotate(40 373.6 355.1)" fill="#85789a" fill-opacity="0.72"/>
<ellipse cx="374.0" cy="313.5" rx="1.5" ry="1.4" transform="rotate(109 374.0 313.5)" fill="#85789a" fill-opacity="0.68"/>
<ellipse cx="366.5" cy="337.2" rx="1.5" ry="0.9" transform="rotate(116 366.5 337.2)" fill="#585072" fill-opacity="0.56"/>
<ellipse cx="256.2" cy="341.6" rx="1.2" ry="1.1" transform="rotate(126 256.2 341.6)" fill="#6a6084" fill-opacity="0.61"/>
<ellipse cx="325.8" cy="326.9" rx="1.7" ry="1.1" transform="rotate(147 325.8 326.9)" fill="#85789a" fill-opacity="0.68"/>
<ellipse cx="247.7" cy="294.2" rx="1.1" ry="1.4" transform="rotate(53 247.7 294.2)" fill="#766a8c" fill-opacity="0.78"/>
<ellipse cx="303.9" cy="252.7" rx="1.3" ry="1.1" transform="rotate(57 303.9 252.7)" fill="#585072" fill-opacity="0.60"/>
<ellipse cx="346.9" cy="338.1" rx="1.3" ry="1.1" transform="rotate(40 346.9 338.1)" fill="#585072" fill-opacity="0.52"/>
<ellipse cx="328.9" cy="289.6" rx="1.4" ry="1.3" transform="rotate(139 328.9 289.6)" fill="#585072" fill-opacity="0.56"/>
<ellipse cx="237.0" cy="295.1" rx="1.7" ry="1.2" transform="rotate(50 237.0 295.1)" fill="#6a6084" fill-opacity="0.56"/>
<ellipse cx="271.6" cy="276.0" rx="1.3" ry="1.4" transform="rotate(92 271.6 276.0)" fill="#6a6084" fill-opacity="0.59"/>
<ellipse cx="261.7" cy="269.6" rx="1.1" ry="1.2" transform="rotate(64 261.7 269.6)" fill="#85789a" fill-opacity="0.66"/>
<ellipse cx="314.4" cy="361.3" rx="1.3" ry="1.3" transform="rotate(19 314.4 361.3)" fill="#85789a" fill-opacity="0.72"/>
<ellipse cx="313.2" cy="331.6" rx="1.7" ry="1.2" transform="rotate(42 313.2 331.6)" fill="#85789a" fill-opacity="0.66"/>
<ellipse cx="279.4" cy="359.0" rx="1.4" ry="1.1" transform="rotate(146 279.4 359.0)" fill="#766a8c" fill-opacity="0.78"/>
<ellipse cx="317.3" cy="299.6" rx="1.1" ry="1.1" transform="rotate(160 317.3 299.6)" fill="#585072" fill-opacity="0.61"/>
<ellipse cx="235.4" cy="296.3" rx="1.2" ry="1.3" transform="rotate(21 235.4 296.3)" fill="#85789a" fill-opacity="0.72"/>
<ellipse cx="256.7" cy="354.6" rx="1.5" ry="1.0" transform="rotate(8 256.7 354.6)" fill="#766a8c" fill-opacity="0.81"/>
<ellipse cx="347.3" cy="361.8" rx="1.7" ry="1.3" transform="rotate(65 347.3 361.8)" fill="#585072" fill-opacity="0.59"/>
<ellipse cx="268.0" cy="248.6" rx="1.1" ry="1.1" transform="rotate(112 268.0 248.6)" fill="#766a8c" fill-opacity="0.51"/>
<ellipse cx="282.5" cy="240.7" rx="1.8" ry="1.4" transform="rotate(30 282.5 240.7)" fill="#6a6084" fill-opacity="0.56"/>
<ellipse cx="351.8" cy="358.5" rx="1.4" ry="1.3" transform="rotate(13 351.8 358.5)" fill="#85789a" fill-opacity="0.74"/>
<ellipse cx="274.5" cy="314.9" rx="1.6" ry="1.3" transform="rotate(148 274.5 314.9)" fill="#85789a" fill-opacity="0.60"/>
<ellipse cx="282.9" cy="324.9" rx="1.8" ry="1.2" transform="rotate(108 282.9 324.9)" fill="#766a8c" fill-opacity="0.81"/>
<ellipse cx="322.8" cy="321.5" rx="1.4" ry="1.0" transform="rotate(7 322.8 321.5)" fill="#6a6084" fill-opacity="0.70"/>
<ellipse cx="367.7" cy="299.8" rx="1.8" ry="1.2" transform="rotate(106 367.7 299.8)" fill="#585072" fill-opacity="0.53"/>
<ellipse cx="289.8" cy="365.2" rx="1.7" ry="0.9" transform="rotate(51 289.8 365.2)" fill="#766a8c" fill-opacity="0.60"/>
<ellipse cx="348.6" cy="373.8" rx="1.8" ry="1.0" transform="rotate(66 348.6 373.8)" fill="#585072" fill-opacity="0.84"/>
<ellipse cx="357.4" cy="264.5" rx="1.8" ry="0.9" transform="rotate(125 357.4 264.5)" fill="#585072" fill-opacity="0.68"/>
<ellipse cx="317.8" cy="302.4" rx="1.1" ry="1.3" transform="rotate(12 317.8 302.4)" fill="#6a6084" fill-opacity="0.81"/>
<ellipse cx="320.0" cy="284.2" rx="1.4" ry="1.0" transform="rotate(158 320.0 284.2)" fill="#585072" fill-opacity="0.72"/>
<ellipse cx="263.8" cy="277.8" rx="1.9" ry="1.1" transform="rotate(46 263.8 277.8)" fill="#85789a" fill-opacity="0.69"/>
<ellipse cx="334.1" cy="266.4" rx="1.8" ry="1.0" transform="rotate(97 334.1 266.4)" fill="#6a6084" fill-opacity="0.78"/>
<ellipse cx="334.0" cy="354.9" rx="1.2" ry="1.2" transform="rotate(89 334.0 354.9)" fill="#6a6084" fill-opacity="0.70"/>
<ellipse cx="356.1" cy="311.5" rx="1.2" ry="1.3" transform="rotate(110 356.1 311.5)" fill="#6a6084" fill-opacity="0.73"/>
<ellipse cx="318.7" cy="359.0" rx="1.5" ry="1.4" transform="rotate(18 318.7 359.0)" fill="#85789a" fill-opacity="0.51"/>
<ellipse cx="275.3" cy="341.0" rx="1.5" ry="1.2" transform="rotate(121 275.3 341.0)" fill="#6a6084" fill-opacity="0.73"/>
<ellipse cx="353.4" cy="252.4" rx="1.6" ry="1.2" transform="rotate(62 353.4 252.4)" fill="#585072" fill-opacity="0.85"/>
<ellipse cx="364.0" cy="286.6" rx="1.5" ry="1.4" transform="rotate(87 364.0 286.6)" fill="#85789a" fill-opacity="0.64"/>
<ellipse cx="323.6" cy="257.1" rx="1.8" ry="0.9" transform="rotate(1 323.6 257.1)" fill="#585072" fill-opacity="0.76"/>
<ellipse cx="361.4" cy="281.2" rx="1.3" ry="1.3" transform="rotate(102 361.4 281.2)" fill="#585072" fill-opacity="0.76"/>
<ellipse cx="250.6" cy="361.3" rx="1.6" ry="0.9" transform="rotate(108 250.6 361.3)" fill="#766a8c" fill-opacity="0.73"/>
<ellipse cx="351.8" cy="323.3" rx="1.3" ry="1.2" transform="rotate(169 351.8 323.3)" fill="#6a6084" fill-opacity="0.72"/>
<ellipse cx="242.9" cy="310.3" rx="1.2" ry="1.2" transform="rotate(117 242.9 310.3)" fill="#6a6084" fill-opacity="0.73"/>
<ellipse cx="367.4" cy="345.1" rx="1.5" ry="1.3" transform="rotate(2 367.4 345.1)" fill="#766a8c" fill-opacity="0.78"/>
<ellipse cx="355.0" cy="282.7" rx="1.7" ry="1.3" transform="rotate(119 355.0 282.7)" fill="#766a8c" fill-opacity="0.82"/>
<ellipse cx="327.7" cy="254.5" rx="1.4" ry="1.2" transform="rotate(75 327.7 254.5)" fill="#585072" fill-opacity="0.61"/>
<ellipse cx="284.7" cy="338.0" rx="1.6" ry="1.4" transform="rotate(138 284.7 338.0)" fill="#766a8c" fill-opacity="0.59"/>
<ellipse cx="281.5" cy="303.2" rx="1.4" ry="1.1" transform="rotate(117 281.5 303.2)" fill="#585072" fill-opacity="0.61"/>
<ellipse cx="261.1" cy="364.8" rx="1.5" ry="1.0" transform="rotate(161 261.1 364.8)" fill="#585072" fill-opacity="0.50"/>
<ellipse cx="249.8" cy="373.6" rx="1.2" ry="1.2" transform="rotate(141 249.8 373.6)" fill="#85789a" fill-opacity="0.52"/>
<ellipse cx="231.4" cy="255.2" rx="1.4" ry="1.2" transform="rotate(141 231.4 255.2)" fill="#766a8c" fill-opacity="0.84"/>
<ellipse cx="254.7" cy="278.1" rx="1.5" ry="1.3" transform="rotate(129 254.7 278.1)" fill="#585072" fill-opacity="0.77"/>
<ellipse cx="323.6" cy="362.4" rx="1.1" ry="1.0" transform="rotate(161 323.6 362.4)" fill="#85789a" fill-opacity="0.51"/>
<ellipse cx="338.3" cy="320.8" rx="1.8" ry="1.0" transform="rotate(115 338.3 320.8)" fill="#6a6084" fill-opacity="0.73"/>
<ellipse cx="343.6" cy="243.8" rx="1.4" ry="1.4" transform="rotate(59 343.6 243.8)" fill="#85789a" fill-opacity="0.58"/>
<ellipse cx="359.2" cy="299.2" rx="1.2" ry="1.1" transform="rotate(144 359.2 299.2)" fill="#766a8c" fill-opacity="0.57"/>
<ellipse cx="257.3" cy="292.1" rx="1.3" ry="1.4" transform="rotate(52 257.3 292.1)" fill="#85789a" fill-opacity="0.75"/>
<ellipse cx="321.6" cy="334.2" rx="1.1" ry="1.0" transform="rotate(148 321.6 334.2)" fill="#585072" fill-opacity="0.50"/>
<ellipse cx="297.5" cy="255.5" rx="1.3" ry="1.2" transform="rotate(164 297.5 255.5)" fill="#766a8c" fill-opacity="0.59"/>
<ellipse cx="346.9" cy="371.6" rx="1.1" ry="0.9" transform="rotate(58 346.9 371.6)" fill="#85789a" fill-opacity="0.51"/>
<ellipse cx="230.8" cy="276.2" rx="1.5" ry="1.4" transform="rotate(89 230.8 276.2)" fill="#766a8c" fill-opacity="0.62"/>
<ellipse cx="262.5" cy="260.6" rx="1.7" ry="1.0" transform="rotate(35 262.5 260.6)" fill="#85789a" fill-opacity="0.71"/>
<ellipse cx="333.1" cy="295.5" rx="1.5" ry="1.4" transform="rotate(148 333.1 295.5)" fill="#585072" fill-opacity="0.61"/>
<ellipse cx="343.8" cy="325.9" rx="1.2" ry="1.0" transform="rotate(156 343.8 325.9)" fill="#6a6084" fill-opacity="0.54"/>
<ellipse cx="340.8" cy="244.5" rx="1.5" ry="1.4" transform="rotate(87 340.8 244.5)" fill="#6a6084" fill-opacity="0.67"/>
<ellipse cx="358.4" cy="351.7" rx="1.2" ry="1.3" transform="rotate(18 358.4 351.7)" fill="#766a8c" fill-opacity="0.56"/>
<ellipse cx="238.0" cy="314.9" rx="1.7" ry="1.2" transform="rotate(22 238.0 314.9)" fill="#6a6084" fill-opacity="0.58"/>
<ellipse cx="345.5" cy="290.0" rx="1.1" ry="1.1" transform="rotate(23 345.5 290.0)" fill="#6a6084" fill-opacity="0.73"/>
<ellipse cx="287.7" cy="278.1" rx="1.3" ry="1.3" transform="rotate(76 287.7 278.1)" fill="#85789a" fill-opacity="0.60"/>
<ellipse cx="343.2" cy="314.5" rx="1.5" ry="0.9" transform="rotate(163 343.2 314.5)" fill="#585072" fill-opacity="0.84"/>
<ellipse cx="247.6" cy="362.8" rx="1.4" ry="0.9" transform="rotate(8 247.6 362.8)" fill="#766a8c" fill-opacity="0.84"/>
<ellipse cx="254.1" cy="320.9" rx="1.5" ry="1.4" transform="rotate(77 254.1 320.9)" fill="#585072" fill-opacity="0.83"/>
<ellipse cx="262.7" cy="338.5" rx="1.3" ry="1.1" transform="rotate(99 262.7 338.5)" fill="#6a6084" fill-opacity="0.70"/>
<ellipse cx="279.3" cy="348.7" rx="1.5" ry="0.9" transform="rotate(75 279.3 348.7)" fill="#85789a" fill-opacity="0.84"/>
<ellipse cx="244.3" cy="297.7" rx="1.0" ry="1.2" transform="rotate(79 244.3 297.7)" fill="#6a6084" fill-opacity="0.80"/>
<ellipse cx="316.6" cy="356.8" rx="1.9" ry="1.2" transform="rotate(129 316.6 356.8)" fill="#585072" fill-opacity="0.81"/>
<ellipse cx="265.9" cy="266.0" rx="1.4" ry="1.0" transform="rotate(121 265.9 266.0)" fill="#6a6084" fill-opacity="0.62"/>
<ellipse cx="314.8" cy="345.4" rx="1.2" ry="1.4" transform="rotate(141 314.8 345.4)" fill="#585072" fill-opacity="0.77"/>
<ellipse cx="278.8" cy="348.7" rx="1.4" ry="0.9" transform="rotate(143 278.8 348.7)" fill="#766a8c" fill-opacity="0.65"/>
<ellipse cx="346.7" cy="350.6" rx="1.7" ry="0.9" transform="rotate(116 346.7 350.6)" fill="#585072" fill-opacity="0.61"/>
<ellipse cx="375.1" cy="274.5" rx="1.6" ry="1.3" transform="rotate(60 375.1 274.5)" fill="#6a6084" fill-opacity="0.69"/>
<ellipse cx="330.9" cy="339.1" rx="1.3" ry="1.3" transform="rotate(145 330.9 339.1)" fill="#585072" fill-opacity="0.63"/>
<ellipse cx="259.4" cy="320.7" rx="1.4" ry="1.3" transform="rotate(176 259.4 320.7)" fill="#766a8c" fill-opacity="0.54"/>
<ellipse cx="305.6" cy="289.3" rx="1.0" ry="1.3" transform="rotate(50 305.6 289.3)" fill="#85789a" fill-opacity="0.74"/>
<ellipse cx="370.2" cy="327.9" rx="1.8" ry="1.2" transform="rotate(154 370.2 327.9)" fill="#6a6084" fill-opacity="0.84"/>
<ellipse cx="234.4" cy="300.0" rx="1.5" ry="1.2" transform="rotate(26 234.4 300.0)" fill="#6a6084" fill-opacity="0.67"/>
<ellipse cx="302.9" cy="371.6" rx="1.0" ry="1.3" transform="rotate(142 302.9 371.6)" fill="#6a6084" fill-opacity="0.74"/>
<ellipse cx="315.3" cy="277.4" rx="1.9" ry="1.2" transform="rotate(113 315.3 277.4)" fill="#766a8c" fill-opacity="0.56"/>
<ellipse cx="317.4" cy="367.8" rx="1.6" ry="1.3" transform="rotate(65 317.4 367.8)" fill="#85789a" fill-opacity="0.78"/>
<ellipse cx="346.4" cy="307.0" rx="1.9" ry="1.0" transform="rotate(37 346.4 307.0)" fill="#85789a" fill-opacity="0.56"/>
<ellipse cx="270.7" cy="294.7" rx="1.6" ry="1.0" transform="rotate(137 270.7 294.7)" fill="#766a8c" fill-opacity="0.70"/>
<ellipse cx="258.4" cy="317.8" rx="1.0" ry="1.3" transform="rotate(59 258.4 317.8)" fill="#85789a" fill-opacity="0.71"/>
<ellipse cx="273.4" cy="300.3" rx="1.6" ry="1.0" transform="rotate(147 273.4 300.3)" fill="#6a6084" fill-opacity="0.66"/>
<ellipse cx="232.7" cy="296.1" rx="1.4" ry="1.1" transform="rotate(133 232.7 296.1)" fill="#585072" fill-opacity="0.74"/>
<ellipse cx="346.9" cy="324.2" rx="1.0" ry="0.9" transform="rotate(33 346.9 324.2)" fill="#585072" fill-opacity="0.51"/>
<ellipse cx="302.0" cy="295.2" rx="1.7" ry="1.3" transform="rotate(169 302.0 295.2)" fill="#6a6084" fill-opacity="0.56"/>
<ellipse cx="238.1" cy="251.5" rx="1.4" ry="1.3" transform="rotate(167 238.1 251.5)" fill="#6a6084" fill-opacity="0.75"/>
<ellipse cx="260.8" cy="322.3" rx="1.4" ry="1.4" transform="rotate(65 260.8 322.3)" fill="#6a6084" fill-opacity="0.74"/>
<ellipse cx="373.3" cy="259.8" rx="1.2" ry="1.2" transform="rotate(164 373.3 259.8)" fill="#85789a" fill-opacity="0.59"/>
<ellipse cx="304.6" cy="369.7" rx="1.2" ry="1.2" transform="rotate(59 304.6 369.7)" fill="#85789a" fill-opacity="0.80"/>
<ellipse cx="259.7" cy="270.8" rx="1.8" ry="1.2" transform="rotate(76 259.7 270.8)" fill="#6a6084" fill-opacity="0.74"/>
<ellipse cx="257.5" cy="296.9" rx="1.3" ry="1.3" transform="rotate(153 257.5 296.9)" fill="#85789a" fill-opacity="0.55"/>
<ellipse cx="242.0" cy="359.7" rx="1.3" ry="1.3" transform="rotate(66 242.0 359.7)" fill="#585072" fill-opacity="0.67"/>
<ellipse cx="353.5" cy="336.6" rx="1.7" ry="1.2" transform="rotate(66 353.5 336.6)" fill="#585072" fill-opacity="0.67"/>
<ellipse cx="246.0" cy="322.9" rx="1.9" ry="1.2" transform="rotate(115 246.0 322.9)" fill="#85789a" fill-opacity="0.56"/>
<ellipse cx="239.7" cy="276.2" rx="1.1" ry="1.4" transform="rotate(3 239.7 276.2)" fill="#766a8c" fill-opacity="0.83"/>
<ellipse cx="247.1" cy="351.7" rx="1.2" ry="1.1" transform="rotate(142 247.1 351.7)" fill="#585072" fill-opacity="0.76"/>
<ellipse cx="245.7" cy="355.2" rx="1.3" ry="1.1" transform="rotate(75 245.7 355.2)" fill="#766a8c" fill-opacity="0.65"/>
<ellipse cx="306.4" cy="270.4" rx="1.8" ry="1.4" transform="rotate(112 306.4 270.4)" fill="#585072" fill-opacity="0.82"/>
<ellipse cx="247.7" cy="256.1" rx="1.1" ry="1.0" transform="rotate(93 247.7 256.1)" fill="#766a8c" fill-opacity="0.64"/>
<ellipse cx="362.4" cy="313.0" rx="1.3" ry="0.9" transform="rotate(39 362.4 313.0)" fill="#85789a" fill-opacity="0.79"/>
<ellipse cx="374.6" cy="314.3" rx="1.7" ry="1.3" transform="rotate(51 374.6 314.3)" fill="#6a6084" fill-opacity="0.68"/>
<ellipse cx="361.6" cy="330.0" rx="1.1" ry="1.1" transform="rotate(111 361.6 330.0)" fill="#85789a" fill-opacity="0.62"/>
<ellipse cx="243.3" cy="251.4" rx="1.6" ry="1.4" transform="rotate(103 243.3 251.4)" fill="#585072" fill-opacity="0.70"/>
<ellipse cx="342.0" cy="322.4" rx="1.6" ry="0.9" transform="rotate(99 342.0 322.4)" fill="#766a8c" fill-opacity="0.78"/>
<ellipse cx="346.0" cy="368.1" rx="1.2" ry="1.3" transform="rotate(69 346.0 368.1)" fill="#766a8c" fill-opacity="0.80"/>
<ellipse cx="319.6" cy="329.0" rx="1.6" ry="1.0" transform="rotate(22 319.6 329.0)" fill="#585072" fill-opacity="0.81"/>
<ellipse cx="318.6" cy="259.1" rx="1.9" ry="1.1" transform="rotate(6 318.6 259.1)" fill="#6a6084" fill-opacity="0.61"/>
<ellipse cx="362.4" cy="280.9" rx="1.5" ry="1.1" transform="rotate(45 362.4 280.9)" fill="#585072" fill-opacity="0.67"/>
<ellipse cx="320.5" cy="354.9" rx="1.7" ry="1.2" transform="rotate(128 320.5 354.9)" fill="#766a8c" fill-opacity="0.84"/>
<ellipse cx="270.0" cy="244.8" rx="1.8" ry="1.0" transform="rotate(10 270.0 244.8)" fill="#585072" fill-opacity="0.81"/>
<ellipse cx="247.8" cy="375.9" rx="1.8" ry="1.2" transform="rotate(42 247.8 375.9)" fill="#585072" fill-opacity="0.75"/>
<ellipse cx="312.9" cy="276.7" rx="1.8" ry="1.2" transform="rotate(34 312.9 276.7)" fill="#6a6084" fill-opacity="0.77"/>
<ellipse cx="352.1" cy="295.6" rx="1.2" ry="1.0" transform="rotate(129 352.1 295.6)" fill="#585072" fill-opacity="0.52"/>
<ellipse cx="229.6" cy="375.3" rx="1.1" ry="1.1" transform="rotate(163 229.6 375.3)" fill="#85789a" fill-opacity="0.83"/>
<ellipse cx="320.1" cy="352.3" rx="1.5" ry="1.3" transform="rotate(129 320.1 352.3)" fill="#85789a" fill-opacity="0.83"/>
<ellipse cx="264.0" cy="326.4" rx="1.4" ry="1.3" transform="rotate(8 264.0 326.4)" fill="#6a6084" fill-opacity="0.50"/>
<ellipse cx="232.2" cy="243.4" rx="1.7" ry="1.3" transform="rotate(164 232.2 243.4)" fill="#85789a" fill-opacity="0.50"/>
<ellipse cx="265.5" cy="260.6" rx="1.8" ry="1.0" transform="rotate(93 265.5 260.6)" fill="#766a8c" fill-opacity="0.60"/>
<ellipse cx="291.5" cy="309.6" rx="1.0" ry="1.4" transform="rotate(98 291.5 309.6)" fill="#6a6084" fill-opacity="0.64"/>
<ellipse cx="274.3" cy="347.0" rx="1.6" ry="1.4" transform="rotate(104 274.3 347.0)" fill="#585072" fill-opacity="0.67"/>
<ellipse cx="236.5" cy="320.6" rx="1.1" ry="1.3" transform="rotate(147 236.5 320.6)" fill="#85789a" fill-opacity="0.60"/>
<ellipse cx="262.1" cy="323.7" rx="1.2" ry="1.2" transform="rotate(43 262.1 323.7)" fill="#585072" fill-opacity="0.56"/>
<ellipse cx="233.2" cy="313.8" rx="1.4" ry="1.3" transform="rotate(39 233.2 313.8)" fill="#585072" fill-opacity="0.82"/>
<ellipse cx="319.8" cy="322.5" rx="1.9" ry="1.1" transform="rotate(45 319.8 322.5)" fill="#766a8c" fill-opacity="0.72"/>
<ellipse cx="365.0" cy="240.9" rx="1.8" ry="1.1" transform="rotate(24 365.0 240.9)" fill="#85789a" fill-opacity="0.78"/>
<ellipse cx="286.3" cy="349.6" rx="1.3" ry="1.1" transform="rotate(134 286.3 349.6)" fill="#585072" fill-opacity="0.76"/>
<ellipse cx="233.8" cy="375.2" rx="1.3" ry="1.2" transform="rotate(33 233.8 375.2)" fill="#6a6084" fill-opacity="0.71"/>
<ellipse cx="237.8" cy="349.9" rx="1.8" ry="1.0" transform="rotate(80 237.8 349.9)" fill="#6a6084" fill-opacity="0.83"/>
<ellipse cx="235.3" cy="291.1" rx="1.1" ry="1.4" transform="rotate(139 235.3 291.1)" fill="#85789a" fill-opacity="0.55"/>
<ellipse cx="343.0" cy="352.2" rx="1.1" ry="1.2" transform="rotate(119 343.0 352.2)" fill="#585072" fill-opacity="0.56"/>
<ellipse cx="245.2" cy="337.8" rx="1.3" ry="1.4" transform="rotate(75 245.2 337.8)" fill="#6a6084" fill-opacity="0.64"/>
<ellipse cx="266.5" cy="285.8" rx="1.7" ry="1.0" transform="rotate(153 266.5 285.8)" fill="#6a6084" fill-opacity="0.85"/>
<ellipse cx="275.9" cy="259.5" rx="1.1" ry="1.0" transform="rotate(97 275.9 259.5)" fill="#85789a" fill-opacity="0.75"/>
<ellipse cx="249.1" cy="283.5" rx="1.1" ry="1.1" transform="rotate(91 249.1 283.5)" fill="#85789a" fill-opacity="0.83"/>
<ellipse cx="256.8" cy="295.0" rx="1.8" ry="1.0" transform="rotate(161 256.8 295.0)" fill="#766a8c" fill-opacity="0.77"/>
<ellipse cx="294.0" cy="369.3" rx="1.5" ry="1.3" transform="rotate(170 294.0 369.3)" fill="#6a6084" fill-opacity="0.73"/>
<ellipse cx="337.8" cy="262.4" rx="1.1" ry="1.0" transform="rotate(46 337.8 262.4)" fill="#585072" fill-opacity="0.63"/>
<ellipse cx="357.4" cy="340.5" rx="1.1" ry="1.1" transform="rotate(80 357.4 340.5)" fill="#585072" fill-opacity="0.84"/>
<ellipse cx="287.0" cy="331.0" rx="1.3" ry="1.4" transform="rotate(115 287.0 331.0)" fill="#85789a" fill-opacity="0.51"/>
<ellipse cx="365.8" cy="375.1" rx="1.4" ry="1.0" transform="rotate(26 365.8 375.1)" fill="#6a6084" fill-opacity="0.73"/>
<ellipse cx="233.7" cy="336.1" rx="1.1" ry="1.2" transform="rotate(97 233.7 336.1)" fill="#585072" fill-opacity="0.65"/>
<ellipse cx="321.0" cy="276.3" rx="1.7" ry="1.2" transform="rotate(113 321.0 276.3)" fill="#766a8c" fill-opacity="0.79"/>
<ellipse cx="315.9" cy="335.8" rx="1.8" ry="1.0" transform="rotate(93 315.9 335.8)" fill="#585072" fill-opacity="0.66"/>
<ellipse cx="261.0" cy="343.4" rx="1.3" ry="1.3" transform="rotate(103 261.0 343.4)" fill="#766a8c" fill-opacity="0.84"/>
<ellipse cx="363.2" cy="313.6" rx="1.1" ry="1.2" transform="rotate(34 363.2 313.6)" fill="#85789a" fill-opacity="0.53"/>
<ellipse cx="231.5" cy="294.6" rx="1.5" ry="0.9" transform="rotate(159 231.5 294.6)" fill="#6a6084" fill-opacity="0.57"/>
<ellipse cx="247.1" cy="248.0" rx="1.2" ry="1.0" transform="rotate(152 247.1 248.0)" fill="#766a8c" fill-opacity="0.83"/>
<ellipse cx="310.6" cy="250.3" rx="1.0" ry="1.4" transform="rotate(73 310.6 250.3)" fill="#85789a" fill-opacity="0.73"/>
<ellipse cx="342.8" cy="370.8" rx="1.5" ry="1.0" transform="rotate(79 342.8 370.8)" fill="#585072" fill-opacity="0.71"/>
<ellipse cx="296.5" cy="304.5" rx="1.9" ry="0.9" transform="rotate(54 296.5 304.5)" fill="#766a8c" fill-opacity="0.80"/>
<ellipse cx="330.4" cy="258.8" rx="1.6" ry="1.2" transform="rotate(88 330.4 258.8)" fill="#766a8c" fill-opacity="0.66"/>
<ellipse cx="281.6" cy="336.7" rx="1.6" ry="1.2" transform="rotate(137 281.6 336.7)" fill="#766a8c" fill-opacity="0.68"/>
<ellipse cx="297.6" cy="293.7" rx="1.2" ry="1.0" transform="rotate(48 297.6 293.7)" fill="#766a8c" fill-opacity="0.59"/>
<ellipse cx="363.6" cy="372.0" rx="1.7" ry="1.2" transform="rotate(69 363.6 372.0)" fill="#85789a" fill-opacity="0.80"/>
<ellipse cx="374.0" cy="273.8" rx="1.1" ry="1.2" transform="rotate(71 374.0 273.8)" fill="#766a8c" fill-opacity="0.75"/>
<ellipse cx="228.5" cy="333.5" rx="1.2" ry="1.2" transform="rotate(150 228.5 333.5)" fill="#585072" fill-opacity="0.78"/>
<ellipse cx="249.7" cy="313.1" rx="1.0" ry="1.0" transform="rotate(174 249.7 313.1)" fill="#85789a" fill-opacity="0.71"/>
<ellipse cx="250.5" cy="346.5" rx="1.3" ry="1.1" transform="rotate(32 250.5 346.5)" fill="#6a6084" fill-opacity="0.72"/>
<ellipse cx="312.8" cy="253.0" rx="1.9" ry="1.4" transform="rotate(49 312.8 253.0)" fill="#585072" fill-opacity="0.77"/>
<ellipse cx="283.2" cy="362.8" rx="1.2" ry="1.2" transform="rotate(165 283.2 362.8)" fill="#85789a" fill-opacity="0.84"/>
<ellipse cx="364.6" cy="264.7" rx="1.1" ry="1.0" transform="rotate(99 364.6 264.7)" fill="#585072" fill-opacity="0.72"/>
<ellipse cx="311.4" cy="275.3" rx="1.1" ry="0.9" transform="rotate(83 311.4 275.3)" fill="#6a6084" fill-opacity="0.78"/>
<ellipse cx="322.3" cy="324.6" rx="1.6" ry="1.0" transform="rotate(165 322.3 324.6)" fill="#585072" fill-opacity="0.79"/>
<ellipse cx="313.3" cy="265.9" rx="1.8" ry="1.3" transform="rotate(24 313.3 265.9)" fill="#585072" fill-opacity="0.72"/>
<ellipse cx="360.5" cy="263.0" rx="1.6" ry="1.4" transform="rotate(28 360.5 263.0)" fill="#6a6084" fill-opacity="0.59"/>
<ellipse cx="352.2" cy="346.8" rx="1.6" ry="1.2" transform="rotate(127 352.2 346.8)" fill="#585072" fill-opacity="0.70"/>
<ellipse cx="357.9" cy="320.7" rx="1.0" ry="1.0" transform="rotate(127 357.9 320.7)" fill="#585072" fill-opacity="0.60"/>
<ellipse cx="292.0" cy="268.4" rx="1.6" ry="1.4" transform="rotate(135 292.0 268.4)" fill="#85789a" fill-opacity="0.71"/>
<ellipse cx="289.6" cy="375.5" rx="1.1" ry="1.3" transform="rotate(135 289.6 375.5)" fill="#585072" fill-opacity="0.81"/>
<ellipse cx="290.3" cy="319.8" rx="1.7" ry="1.2" transform="rotate(66 290.3 319.8)" fill="#585072" fill-opacity="0.78"/>
<ellipse cx="271.1" cy="337.2" rx="1.9" ry="1.0" transform="rotate(118 271.1 337.2)" fill="#85789a" fill-opacity="0.67"/>
<ellipse cx="236.9" cy="251.9" rx="6.0" ry="2.8" transform="rotate(20 236.9 251.9)" fill="#d8a8cc" fill-opacity="0.45"/>
<ellipse cx="236.9" cy="251.9" rx="4.0" ry="1.3" transform="rotate(20 236.9 251.9)" fill="#b858a8" fill-opacity="0.80"/>
<ellipse cx="236.2" cy="250.9" rx="1.2" ry="0.9" transform="rotate(20 236.2 250.9)" fill="#52387e" fill-opacity="0.70"/>
<ellipse cx="277.0" cy="283.0" rx="9.0" ry="2.6" transform="rotate(60 277.0 283.0)" fill="#d8a8cc" fill-opacity="0.45"/>
<ellipse cx="277.0" cy="283.0" rx="7.0" ry="1.1" transform="rotate(60 277.0 283.0)" fill="#c060ac" fill-opacity="0.80"/>
<ellipse cx="276.4" cy="282.4" rx="1.2" ry="0.9" transform="rotate(60 276.4 282.4)" fill="#60408c" fill-opacity="0.70"/>
<ellipse cx="283.0" cy="291.0" rx="10.0" ry="2.6" transform="rotate(65 283.0 291.0)" fill="#d8a8cc" fill-opacity="0.45"/>
<ellipse cx="283.0" cy="291.0" rx="8.0" ry="1.1" transform="rotate(65 283.0 291.0)" fill="#b858a8" fill-opacity="0.80"/>
<ellipse cx="283.9" cy="291.7" rx="1.2" ry="0.9" transform="rotate(65 283.9 291.7)" fill="#52387e" fill-opacity="0.70"/>
<ellipse cx="289.5" cy="284.5" rx="6.0" ry="2.7" transform="rotate(80 289.5 284.5)" fill="#d8a8cc" fill-opacity="0.45"/>
<ellipse cx="289.5" cy="284.5" rx="4.0" ry="1.2" transform="rotate(80 289.5 284.5)" fill="#b858a8" fill-opacity="0.80"/>
<ellipse cx="290.2" cy="284.8" rx="1.2" ry="0.9" transform="rotate(80 290.2 284.8)" fill="#52387e" fill-opacity="0.70"/>
<ellipse cx="322.5" cy="282.0" rx="6.0" ry="3.0" transform="rotate(0 322.5 282.0)" fill="#d8a8cc" fill-opacity="0.45"/>
<ellipse cx="322.5" cy="282.0" rx="4.0" ry="1.5" transform="rotate(0 322.5 282.0)" fill="#c060ac" fill-opacity="0.80"/>
<ellipse cx="323.1" cy="281.8" rx="1.2" ry="0.9" transform="rotate(0 323.1 281.8)" fill="#6c4494" fill-opacity="0.70"/>
<ellipse cx="327.5" cy="305.7" rx="5.0" ry="2.8" transform="rotate(30 327.5 305.7)" fill="#d8a8cc" fill-opacity="0.45"/>
<ellipse cx="327.5" cy="305.7" rx="3.0" ry="1.3" transform="rotate(30 327.5 305.7)" fill="#b858a8" fill-opacity="0.80"/>
<ellipse cx="327.5" cy="304.7" rx="1.2" ry="0.9" transform="rotate(30 327.5 304.7)" fill="#52387e" fill-opacity="0.70"/>
<ellipse cx="336.0" cy="268.7" rx="6.0" ry="2.8" transform="rotate(10 336.0 268.7)" fill="#d8a8cc" fill-opacity="0.45"/>
<ellipse cx="336.0" cy="268.7" rx="4.0" ry="1.3" transform="rotate(10 336.0 268.7)" fill="#cc6cb4" fill-opacity="0.80"/>
<ellipse cx="336.2" cy="267.8" rx="1.2" ry="0.9" transform="rotate(10 336.2 267.8)" fill="#52387e" fill-opacity="0.70"/>
<ellipse cx="351.0" cy="280.5" rx="7.0" ry="2.8" transform="rotate(110 351.0 280.5)" fill="#d8a8cc" fill-opacity="0.45"/>
<ellipse cx="351.0" cy="280.5" rx="5.0" ry="1.3" transform="rotate(110 351.0 280.5)" fill="#cc6cb4" fill-opacity="0.80"/>
<ellipse cx="351.1" cy="280.7" rx="1.2" ry="0.9" transform="rotate(110 351.1 280.7)" fill="#60408c" fill-opacity="0.70"/>
<ellipse cx="357.7" cy="278.8" rx="5.0" ry="2.8" transform="rotate(80 357.7 278.8)" fill="#d8a8cc" fill-opacity="0.45"/>
<ellipse cx="357.7" cy="278.8" rx="3.0" ry="1.3" transform="rotate(80 357.7 278.8)" fill="#b858a8" fill-opacity="0.80"/>
<ellipse cx="357.5" cy="279.2" rx="1.2" ry="0.9" transform="rotate(80 357.5 279.2)" fill="#44306c" fill-opacity="0.70"/>
<ellipse cx="258.7" cy="317.4" rx="6.0" ry="3.1" transform="rotate(20 258.7 317.4)" fill="#d8a8cc" fill-opacity="0.45"/>
<ellipse cx="258.7" cy="317.4" rx="4.0" ry="1.6" transform="rotate(20 258.7 317.4)" fill="#b858a8" fill-opacity="0.80"/>
<ellipse cx="258.7" cy="317.6" rx="1.2" ry="0.9" transform="rotate(20 258.7 317.6)" fill="#6c4494" fill-opacity="0.70"/>
<ellipse cx="300.7" cy="346.0" rx="5.0" ry="2.8" transform="rotate(70 300.7 346.0)" fill="#d8a8cc" fill-opacity="0.45"/>
<ellipse cx="300.7" cy="346.0" rx="3.0" ry="1.3" transform="rotate(70 300.7 346.0)" fill="#cc6cb4" fill-opacity="0.80"/>
<ellipse cx="300.0" cy="346.6" rx="1.2" ry="0.9" transform="rotate(70 300.0 346.6)" fill="#44306c" fill-opacity="0.70"/>
<ellipse cx="349.4" cy="369.5" rx="5.0" ry="2.9" transform="rotate(0 349.4 369.5)" fill="#d8a8cc" fill-opacity="0.45"/>
<ellipse cx="349.4" cy="369.5" rx="3.0" ry="1.4" transform="rotate(0 349.4 369.5)" fill="#b858a8" fill-opacity="0.80"/>
<ellipse cx="348.8" cy="369.0" rx="1.2" ry="0.9" transform="rotate(0 348.8 369.0)" fill="#52387e" fill-opacity="0.70"/>
<ellipse cx="361.0" cy="330.8" rx="5.0" ry="2.8" transform="rotate(60 361.0 330.8)" fill="#d8a8cc" fill-opacity="0.45"/>
<ellipse cx="361.0" cy="330.8" rx="3.0" ry="1.3" transform="rotate(60 361.0 330.8)" fill="#b858a8" fill-opacity="0.80"/>
<ellipse cx="360.3" cy="331.7" rx="1.2" ry="0.9" transform="rotate(60 360.3 331.7)" fill="#6c4494" fill-opacity="0.70"/>
<ellipse cx="314.0" cy="289.0" rx="5.0" ry="2.7" transform="rotate(120 314.0 289.0)" fill="#d8a8cc" fill-opacity="0.45"/>
<ellipse cx="314.0" cy="289.0" rx="3.0" ry="1.2" transform="rotate(120 314.0 289.0)" fill="#c060ac" fill-opacity="0.80"/>
<ellipse cx="314.4" cy="288.7" rx="1.2" ry="0.9" transform="rotate(120 314.4 288.7)" fill="#52387e" fill-opacity="0.70"/>
<ellipse cx="344.3" cy="250.0" rx="5.0" ry="2.6" transform="rotate(60 344.3 250.0)" fill="#d8a8cc" fill-opacity="0.45"/>
<ellipse cx="344.3" cy="250.0" rx="3.0" ry="1.1" transform="rotate(60 344.3 250.0)" fill="#cc6cb4" fill-opacity="0.80"/>
<ellipse cx="344.9" cy="250.1" rx="1.2" ry="0.9" transform="rotate(60 344.9 250.1)" fill="#44306c" fill-opacity="0.70"/>
<ellipse cx="262.0" cy="255.0" rx="5.0" ry="2.5" transform="rotate(20 262.0 255.0)" fill="#d8a8cc" fill-opacity="0.45"/>
<ellipse cx="262.0" cy="255.0" rx="3.0" ry="1.0" transform="rotate(20 262.0 255.0)" fill="#c060ac" fill-opacity="0.80"/>
<ellipse cx="262.7" cy="254.8" rx="1.2" ry="0.9" transform="rotate(20 262.7 254.8)" fill="#52387e" fill-opacity="0.70"/>
<ellipse cx="300.0" cy="262.0" rx="5.0" ry="2.5" transform="rotate(100 300.0 262.0)" fill="#d8a8cc" fill-opacity="0.45"/>
<ellipse cx="300.0" cy="262.0" rx="3.0" ry="1.0" transform="rotate(100 300.0 262.0)" fill="#c060ac" fill-opacity="0.80"/>
<ellipse cx="300.0" cy="262.2" rx="1.2" ry="0.9" transform="rotate(100 300.0 262.2)" fill="#44306c" fill-opacity="0.70"/>
<ellipse cx="266.0" cy="358.0" rx="5.0" ry="2.6" transform="rotate(40 266.0 358.0)" fill="#d8a8cc" fill-opacity="0.45"/>
<ellipse cx="266.0" cy="358.0" rx="3.0" ry="1.1" transform="rotate(40 266.0 358.0)" fill="#b858a8" fill-opacity="0.80"/>
<ellipse cx="265.4" cy="359.0" rx="1.2" ry="0.9" transform="rotate(40 265.4 359.0)" fill="#44306c" fill-opacity="0.70"/>
<ellipse cx="278.0" cy="244.0" rx="7.0" ry="2.5" transform="rotate(70 278.0 244.0)" fill="#d8a8cc" fill-opacity="0.45"/>
<ellipse cx="278.0" cy="244.0" rx="5.0" ry="1.0" transform="rotate(70 278.0 244.0)" fill="#b858a8" fill-opacity="0.80"/>
<ellipse cx="277.6" cy="244.6" rx="1.2" ry="0.9" transform="rotate(70 277.6 244.6)" fill="#6c4494" fill-opacity="0.70"/>
<ellipse cx="368.0" cy="300.0" rx="5.0" ry="2.6" transform="rotate(80 368.0 300.0)" fill="#d8a8cc" fill-opacity="0.45"/>
<ellipse cx="368.0" cy="300.0" rx="3.0" ry="1.1" transform="rotate(80 368.0 300.0)" fill="#cc6cb4" fill-opacity="0.80"/>
<ellipse cx="368.5" cy="300.2" rx="1.2" ry="0.9" transform="rotate(80 368.5 300.2)" fill="#44306c" fill-opacity="0.70"/>
<ellipse cx="245.0" cy="330.0" rx="5.0" ry="2.5" transform="rotate(30 245.0 330.0)" fill="#d8a8cc" fill-opacity="0.45"/>
<ellipse cx="245.0" cy="330.0" rx="3.0" ry="1.0" transform="rotate(30 245.0 330.0)" fill="#c060ac" fill-opacity="0.80"/>
<ellipse cx="245.4" cy="329.8" rx="1.2" ry="0.9" transform="rotate(30 245.4 329.8)" fill="#44306c" fill-opacity="0.70"/>
<ellipse cx="310.0" cy="330.0" rx="5.0" ry="2.5" transform="rotate(120 310.0 330.0)" fill="#d8a8cc" fill-opacity="0.45"/>
<ellipse cx="310.0" cy="330.0" rx="3.0" ry="1.0" transform="rotate(120 310.0 330.0)" fill="#b858a8" fill-opacity="0.80"/>
<ellipse cx="309.9" cy="329.3" rx="1.2" ry="0.9" transform="rotate(120 309.9 329.3)" fill="#44306c" fill-opacity="0.70"/>
</g>
<rect x="73.4" y="383.9" width="148.8" height="136.9" fill="#f6f6fd"/>
<g clip-path="url(#c3)" filter="url(#bl2)">
<path d="M156.0 432.2 Q142.9 429.2 128.1 433.7" fill="none" stroke="#b4bcee" stroke-opacity="0.41" stroke-width="1.6"/>
<path d="M196.7 488.3 Q185.4 509.4 161.1 517.4" fill="none" stroke="#b4bcee" stroke-opacity="0.51" stroke-width="1.0"/>
<path d="M218.7 386.8 Q205.2 397.2 184.0 387.5" fill="none" stroke="#b4bcee" stroke-opacity="0.39" stroke-width="0.8"/>
<path d="M208.8 508.5 Q219.6 524.9 225.7 550.8" fill="none" stroke="#b4bcee" stroke-opacity="0.39" stroke-width="1.5"/>
<path d="M214.7 520.3 Q205.3 547.2 215.8 564.5" fill="none" stroke="#b4bcee" stroke-opacity="0.36" stroke-width="1.3"/>
<path d="M164.4 424.7 Q182.5 440.8 184.9 447.5" fill="none" stroke="#b4bcee" stroke-opacity="0.47" stroke-width="1.0"/>
<path d="M75.7 501.4 Q51.9 513.0 20.0 522.1" fill="none" stroke="#b4bcee" stroke-opacity="0.36" stroke-width="1.3"/>
<path d="M218.0 489.5 Q211.0 511.4 201.7 523.9" fill="none" stroke="#b4bcee" stroke-opacity="0.55" stroke-width="1.1"/>
<path d="M204.0 443.5 Q196.3 457.4 169.9 459.8" fill="none" stroke="#b4bcee" stroke-opacity="0.38" stroke-width="1.4"/>
<path d="M93.9 466.4 Q75.1 474.5 40.6 476.0" fill="none" stroke="#b4bcee" stroke-opacity="0.55" stroke-width="0.9"/>
<path d="M85.0 444.1 Q96.6 464.9 126.0 480.8" fill="none" stroke="#b4bcee" stroke-opacity="0.59" stroke-width="1.4"/>
<path d="M139.1 443.5 Q147.4 446.4 168.7 469.9" fill="none" stroke="#b4bcee" stroke-opacity="0.44" stroke-width="0.8"/>
<path d="M170.6 397.9 Q182.5 415.8 208.4 415.0" fill="none" stroke="#b4bcee" stroke-opacity="0.35" stroke-width="1.4"/>
<path d="M202.4 452.4 Q205.3 464.5 206.2 486.2" fill="none" stroke="#b4bcee" stroke-opacity="0.54" stroke-width="1.6"/>
<path d="M86.9 451.2 Q105.0 453.9 136.5 452.5" fill="none" stroke="#b4bcee" stroke-opacity="0.60" stroke-width="1.1"/>
<path d="M117.4 388.0 Q108.7 400.7 90.6 421.4" fill="none" stroke="#b4bcee" stroke-opacity="0.50" stroke-width="1.3"/>
<path d="M100.7 470.6 Q104.3 491.5 103.9 512.9" fill="none" stroke="#b4bcee" stroke-opacity="0.55" stroke-width="0.8"/>
<path d="M128.1 435.0 Q126.1 458.7 143.5 474.2" fill="none" stroke="#b4bcee" stroke-opacity="0.36" stroke-width="1.4"/>
<path d="M188.9 409.0 Q210.0 436.9 208.3 454.2" fill="none" stroke="#b4bcee" stroke-opacity="0.36" stroke-width="0.9"/>
<path d="M85.8 395.2 Q64.1 387.5 30.1 403.5" fill="none" stroke="#b4bcee" stroke-opacity="0.37" stroke-width="1.2"/>
<path d="M183.7 460.2 Q195.3 487.2 196.9 498.2" fill="none" stroke="#b4bcee" stroke-opacity="0.52" stroke-width="1.4"/>
<path d="M148.9 417.7 Q159.9 443.2 151.2 463.3" fill="none" stroke="#b4bcee" stroke-opacity="0.42" stroke-width="1.4"/>
<path d="M116.1 412.8 Q91.6 424.3 72.2 426.7" fill="none" stroke="#b4bcee" stroke-opacity="0.43" stroke-width="1.4"/>
<path d="M154.1 385.1 Q155.7 416.5 140.2 440.9" fill="none" stroke="#b4bcee" stroke-opacity="0.39" stroke-width="1.4"/>
<path d="M196.7 451.5 Q218.4 463.1 252.0 452.4" fill="none" stroke="#b4bcee" stroke-opacity="0.38" stroke-width="0.8"/>
<path d="M122.0 427.3 Q127.9 464.1 136.0 481.0" fill="none" stroke="#b4bcee" stroke-opacity="0.58" stroke-width="0.8"/>
<path d="M157.2 425.1 Q184.0 441.2 207.9 443.0" fill="none" stroke="#b4bcee" stroke-opacity="0.57" stroke-width="1.1"/>
<path d="M106.4 424.4 Q92.9 452.4 77.7 473.4" fill="none" stroke="#b4bcee" stroke-opacity="0.55" stroke-width="1.4"/>
<path d="M195.2 511.7 Q201.8 529.0 205.2 536.6" fill="none" stroke="#b4bcee" stroke-opacity="0.57" stroke-width="1.5"/>
<path d="M135.0 394.3 Q143.9 399.0 163.5 397.0" fill="none" stroke="#b4bcee" stroke-opacity="0.55" stroke-width="1.1"/>
<path d="M111.2 391.8 Q83.7 399.6 64.6 419.2" fill="none" stroke="#b4bcee" stroke-opacity="0.53" stroke-width="1.0"/>
<path d="M184.3 505.2 Q172.1 512.8 160.0 515.1" fill="none" stroke="#b4bcee" stroke-opacity="0.39" stroke-width="1.5"/>
<ellipse cx="140.9" cy="431.2" rx="3.5" ry="1.2" transform="rotate(175 140.9 431.2)" fill="#7482e0" fill-opacity="0.71"/>
<ellipse cx="149.6" cy="431.2" rx="4.4" ry="1.9" transform="rotate(-174 149.6 431.2)" fill="#7482e0" fill-opacity="0.71"/>
<ellipse cx="144.5" cy="431.0" rx="4.1" ry="1.7" transform="rotate(179 144.5 431.0)" fill="#96a0ea" fill-opacity="0.63"/>
<ellipse cx="146.9" cy="431.0" rx="4.0" ry="1.6" transform="rotate(-177 146.9 431.0)" fill="#8490e4" fill-opacity="0.56"/>
<ellipse cx="195.9" cy="489.8" rx="2.3" ry="1.4" transform="rotate(119 195.9 489.8)" fill="#7c88e2" fill-opacity="0.79"/>
<ellipse cx="192.3" cy="495.3" rx="2.4" ry="1.8" transform="rotate(125 192.3 495.3)" fill="#8490e4" fill-opacity="0.65"/>
<ellipse cx="195.0" cy="491.2" rx="2.8" ry="1.7" transform="rotate(121 195.0 491.2)" fill="#96a0ea" fill-opacity="0.62"/>
<ellipse cx="176.4" cy="510.3" rx="2.3" ry="1.3" transform="rotate(147 176.4 510.3)" fill="#6a78dc" fill-opacity="0.52"/>
<ellipse cx="207.4" cy="391.8" rx="3.8" ry="1.4" transform="rotate(170 207.4 391.8)" fill="#7482e0" fill-opacity="0.62"/>
<ellipse cx="199.1" cy="391.9" rx="3.7" ry="1.1" transform="rotate(-173 199.1 391.9)" fill="#7c88e2" fill-opacity="0.68"/>
<ellipse cx="186.8" cy="388.6" rx="4.2" ry="1.0" transform="rotate(-157 186.8 388.6)" fill="#7c88e2" fill-opacity="0.57"/>
<ellipse cx="223.2" cy="541.4" rx="4.1" ry="1.1" transform="rotate(73 223.2 541.4)" fill="#7482e0" fill-opacity="0.75"/>
<ellipse cx="222.3" cy="538.4" rx="2.1" ry="1.4" transform="rotate(72 222.3 538.4)" fill="#6a78dc" fill-opacity="0.75"/>
<ellipse cx="210.4" cy="539.7" rx="3.8" ry="1.6" transform="rotate(94 210.4 539.7)" fill="#8490e4" fill-opacity="0.74"/>
<ellipse cx="210.7" cy="550.0" rx="2.6" ry="1.4" transform="rotate(81 210.7 550.0)" fill="#96a0ea" fill-opacity="0.68"/>
<ellipse cx="181.3" cy="441.6" rx="2.9" ry="1.1" transform="rotate(51 181.3 441.6)" fill="#7c88e2" fill-opacity="0.68"/>
<ellipse cx="181.4" cy="441.7" rx="4.0" ry="1.3" transform="rotate(51 181.4 441.7)" fill="#7482e0" fill-opacity="0.52"/>
<ellipse cx="170.8" cy="430.6" rx="4.5" ry="1.9" transform="rotate(43 170.8 430.6)" fill="#96a0ea" fill-opacity="0.75"/>
<ellipse cx="167.6" cy="427.6" rx="4.3" ry="1.2" transform="rotate(42 167.6 427.6)" fill="#96a0ea" fill-opacity="0.65"/>
<ellipse cx="38.4" cy="516.4" rx="2.5" ry="1.9" transform="rotate(161 38.4 516.4)" fill="#96a0ea" fill-opacity="0.72"/>
<ellipse cx="51.3" cy="511.9" rx="3.8" ry="1.3" transform="rotate(159 51.3 511.9)" fill="#96a0ea" fill-opacity="0.73"/>
<ellipse cx="49.5" cy="512.5" rx="3.2" ry="1.3" transform="rotate(159 49.5 512.5)" fill="#7482e0" fill-opacity="0.57"/>
<ellipse cx="51.7" cy="511.7" rx="3.5" ry="1.6" transform="rotate(159 51.7 511.7)" fill="#7482e0" fill-opacity="0.62"/>
<ellipse cx="217.1" cy="492.3" rx="3.5" ry="1.5" transform="rotate(108 217.1 492.3)" fill="#7482e0" fill-opacity="0.53"/>
<ellipse cx="217.4" cy="491.4" rx="4.0" ry="1.4" transform="rotate(108 217.4 491.4)" fill="#8490e4" fill-opacity="0.59"/>
<ellipse cx="215.2" cy="497.8" rx="2.5" ry="1.0" transform="rotate(110 215.2 497.8)" fill="#7c88e2" fill-opacity="0.57"/>
<ellipse cx="208.9" cy="512.3" rx="3.2" ry="1.4" transform="rotate(117 208.9 512.3)" fill="#7482e0" fill-opacity="0.67"/>
<ellipse cx="176.5" cy="458.9" rx="4.4" ry="1.5" transform="rotate(170 176.5 458.9)" fill="#96a0ea" fill-opacity="0.75"/>
<ellipse cx="192.0" cy="454.3" rx="4.4" ry="1.2" transform="rotate(153 192.0 454.3)" fill="#7482e0" fill-opacity="0.76"/>
<ellipse cx="181.3" cy="458.0" rx="4.4" ry="1.6" transform="rotate(167 181.3 458.0)" fill="#7482e0" fill-opacity="0.57"/>
<ellipse cx="173.4" cy="459.4" rx="3.6" ry="1.5" transform="rotate(172 173.4 459.4)" fill="#7482e0" fill-opacity="0.52"/>
<ellipse cx="186.5" cy="456.6" rx="4.0" ry="1.1" transform="rotate(161 186.5 456.6)" fill="#96a0ea" fill-opacity="0.54"/>
<ellipse cx="83.8" cy="470.0" rx="3.4" ry="1.4" transform="rotate(164 83.8 470.0)" fill="#7c88e2" fill-opacity="0.79"/>
<ellipse cx="82.5" cy="470.3" rx="4.5" ry="1.1" transform="rotate(164 82.5 470.3)" fill="#96a0ea" fill-opacity="0.51"/>
<ellipse cx="44.7" cy="475.8" rx="3.0" ry="1.3" transform="rotate(176 44.7 475.8)" fill="#7c88e2" fill-opacity="0.62"/>
<ellipse cx="43.5" cy="475.8" rx="3.9" ry="1.4" transform="rotate(176 43.5 475.8)" fill="#7c88e2" fill-opacity="0.69"/>
<ellipse cx="48.8" cy="475.5" rx="3.7" ry="1.5" transform="rotate(175 48.8 475.5)" fill="#8490e4" fill-opacity="0.62"/>
<ellipse cx="105.0" cy="467.0" rx="3.2" ry="1.7" transform="rotate(38 105.0 467.0)" fill="#7482e0" fill-opacity="0.58"/>
<ellipse cx="123.6" cy="479.5" rx="2.3" ry="1.8" transform="rotate(29 123.6 479.5)" fill="#7c88e2" fill-opacity="0.71"/>
<ellipse cx="103.9" cy="466.1" rx="4.3" ry="1.8" transform="rotate(39 103.9 466.1)" fill="#7c88e2" fill-opacity="0.67"/>
<ellipse cx="168.3" cy="469.5" rx="2.6" ry="1.5" transform="rotate(47 168.3 469.5)" fill="#7c88e2" fill-opacity="0.74"/>
<ellipse cx="147.3" cy="448.7" rx="2.6" ry="1.2" transform="rotate(38 147.3 448.7)" fill="#7482e0" fill-opacity="0.65"/>
<ellipse cx="146.3" cy="447.9" rx="3.4" ry="1.3" transform="rotate(37 146.3 447.9)" fill="#7482e0" fill-opacity="0.53"/>
<ellipse cx="161.6" cy="462.3" rx="2.1" ry="1.2" transform="rotate(46 161.6 462.3)" fill="#8490e4" fill-opacity="0.53"/>
<ellipse cx="189.7" cy="412.6" rx="3.6" ry="1.5" transform="rotate(18 189.7 412.6)" fill="#96a0ea" fill-opacity="0.61"/>
<ellipse cx="185.2" cy="410.7" rx="3.7" ry="1.3" transform="rotate(25 185.2 410.7)" fill="#8490e4" fill-opacity="0.56"/>
<ellipse cx="177.1" cy="405.4" rx="4.0" ry="1.9" transform="rotate(41 177.1 405.4)" fill="#8490e4" fill-opacity="0.55"/>
<ellipse cx="185.1" cy="410.7" rx="2.1" ry="1.8" transform="rotate(25 185.1 410.7)" fill="#6a78dc" fill-opacity="0.57"/>
<ellipse cx="200.4" cy="414.7" rx="3.8" ry="1.5" transform="rotate(5 200.4 414.7)" fill="#8490e4" fill-opacity="0.76"/>
<ellipse cx="203.4" cy="457.4" rx="3.7" ry="1.4" transform="rotate(79 203.4 457.4)" fill="#8490e4" fill-opacity="0.52"/>
<ellipse cx="203.3" cy="456.7" rx="3.3" ry="1.0" transform="rotate(79 203.3 456.7)" fill="#6a78dc" fill-opacity="0.68"/>
<ellipse cx="206.0" cy="483.0" rx="3.6" ry="1.8" transform="rotate(87 206.0 483.0)" fill="#7482e0" fill-opacity="0.71"/>
<ellipse cx="204.7" cy="465.9" rx="3.9" ry="1.3" transform="rotate(83 204.7 465.9)" fill="#96a0ea" fill-opacity="0.64"/>
<ellipse cx="205.6" cy="475.8" rx="2.9" ry="1.7" transform="rotate(85 205.6 475.8)" fill="#7482e0" fill-opacity="0.54"/>
<ellipse cx="90.4" cy="451.7" rx="3.3" ry="1.1" transform="rotate(6 90.4 451.7)" fill="#6a78dc" fill-opacity="0.57"/>
<ellipse cx="101.7" cy="452.6" rx="2.3" ry="1.5" transform="rotate(3 101.7 452.6)" fill="#7482e0" fill-opacity="0.67"/>
<ellipse cx="110.8" cy="452.9" rx="3.9" ry="1.8" transform="rotate(0 110.8 452.9)" fill="#6a78dc" fill-opacity="0.74"/>
<ellipse cx="89.7" cy="451.6" rx="2.8" ry="1.2" transform="rotate(7 89.7 451.6)" fill="#6a78dc" fill-opacity="0.65"/>
<ellipse cx="107.7" cy="452.9" rx="3.4" ry="1.0" transform="rotate(1 107.7 452.9)" fill="#6a78dc" fill-opacity="0.63"/>
<ellipse cx="115.3" cy="391.1" rx="2.1" ry="1.4" transform="rotate(125 115.3 391.1)" fill="#96a0ea" fill-opacity="0.77"/>
<ellipse cx="109.3" cy="399.1" rx="2.7" ry="1.0" transform="rotate(128 109.3 399.1)" fill="#6a78dc" fill-opacity="0.77"/>
<ellipse cx="96.0" cy="415.2" rx="3.8" ry="1.0" transform="rotate(130 96.0 415.2)" fill="#7482e0" fill-opacity="0.72"/>
<ellipse cx="114.9" cy="391.6" rx="4.1" ry="1.1" transform="rotate(125 114.9 391.6)" fill="#6a78dc" fill-opacity="0.77"/>
<ellipse cx="103.7" cy="497.8" rx="2.9" ry="1.3" transform="rotate(87 103.7 497.8)" fill="#7482e0" fill-opacity="0.69"/>
<ellipse cx="102.8" cy="486.1" rx="3.4" ry="1.8" transform="rotate(84 102.8 486.1)" fill="#96a0ea" fill-opacity="0.56"/>
<ellipse cx="102.4" cy="482.8" rx="2.1" ry="1.1" transform="rotate(83 102.4 482.8)" fill="#6a78dc" fill-opacity="0.65"/>
<ellipse cx="103.4" cy="493.9" rx="3.0" ry="1.8" transform="rotate(86 103.4 493.9)" fill="#7c88e2" fill-opacity="0.67"/>
<ellipse cx="137.2" cy="467.5" rx="3.2" ry="1.2" transform="rotate(52 137.2 467.5)" fill="#8490e4" fill-opacity="0.76"/>
<ellipse cx="142.2" cy="473.1" rx="3.4" ry="1.9" transform="rotate(43 142.2 473.1)" fill="#8490e4" fill-opacity="0.73"/>
<ellipse cx="128.4" cy="446.9" rx="2.5" ry="1.3" transform="rotate(81 128.4 446.9)" fill="#96a0ea" fill-opacity="0.65"/>
<ellipse cx="141.5" cy="472.3" rx="3.4" ry="1.3" transform="rotate(44 141.5 472.3)" fill="#96a0ea" fill-opacity="0.53"/>
<ellipse cx="195.3" cy="417.9" rx="4.1" ry="1.2" transform="rotate(56 195.3 417.9)" fill="#8490e4" fill-opacity="0.74"/>
<ellipse cx="207.5" cy="443.9" rx="3.7" ry="1.5" transform="rotate(77 207.5 443.9)" fill="#7c88e2" fill-opacity="0.72"/>
<ellipse cx="208.1" cy="446.9" rx="3.9" ry="1.8" transform="rotate(81 208.1 446.9)" fill="#96a0ea" fill-opacity="0.68"/>
<ellipse cx="39.1" cy="399.5" rx="3.1" ry="1.2" transform="rotate(158 39.1 399.5)" fill="#7482e0" fill-opacity="0.76"/>
<ellipse cx="49.3" cy="396.0" rx="4.3" ry="1.6" transform="rotate(163 49.3 396.0)" fill="#8490e4" fill-opacity="0.54"/>
<ellipse cx="82.5" cy="394.2" rx="3.8" ry="1.9" transform="rotate(-165 82.5 394.2)" fill="#7c88e2" fill-opacity="0.71"/>
<ellipse cx="190.7" cy="477.5" rx="4.0" ry="1.8" transform="rotate(69 190.7 477.5)" fill="#96a0ea" fill-opacity="0.62"/>
<ellipse cx="194.4" cy="488.0" rx="3.6" ry="1.6" transform="rotate(72 194.4 488.0)" fill="#7c88e2" fill-opacity="0.65"/>
<ellipse cx="184.4" cy="461.6" rx="3.4" ry="1.5" transform="rotate(67 184.4 461.6)" fill="#7c88e2" fill-opacity="0.68"/>
<ellipse cx="193.6" cy="485.7" rx="3.3" ry="1.6" transform="rotate(71 193.6 485.7)" fill="#8490e4" fill-opacity="0.52"/>
<ellipse cx="191.8" cy="480.4" rx="3.0" ry="1.5" transform="rotate(70 191.8 480.4)" fill="#96a0ea" fill-opacity="0.54"/>
<ellipse cx="152.2" cy="460.6" rx="3.9" ry="1.1" transform="rotate(110 152.2 460.6)" fill="#7c88e2" fill-opacity="0.53"/>
<ellipse cx="150.2" cy="420.9" rx="2.8" ry="1.8" transform="rotate(68 150.2 420.9)" fill="#7c88e2" fill-opacity="0.76"/>
<ellipse cx="111.9" cy="414.7" rx="2.1" ry="1.4" transform="rotate(155 111.9 414.7)" fill="#8490e4" fill-opacity="0.70"/>
<ellipse cx="78.3" cy="425.8" rx="2.5" ry="1.7" transform="rotate(169 78.3 425.8)" fill="#6a78dc" fill-opacity="0.54"/>
<ellipse cx="152.0" cy="412.3" rx="4.2" ry="1.7" transform="rotate(102 152.0 412.3)" fill="#96a0ea" fill-opacity="0.68"/>
<ellipse cx="148.5" cy="424.4" rx="3.8" ry="1.0" transform="rotate(110 148.5 424.4)" fill="#6a78dc" fill-opacity="0.52"/>
<ellipse cx="231.6" cy="457.0" rx="3.2" ry="1.7" transform="rotate(-6 231.6 457.0)" fill="#8490e4" fill-opacity="0.68"/>
<ellipse cx="228.9" cy="457.2" rx="3.7" ry="1.2" transform="rotate(-4 228.9 457.2)" fill="#6a78dc" fill-opacity="0.62"/>
<ellipse cx="128.1" cy="457.9" rx="3.0" ry="1.9" transform="rotate(75 128.1 457.9)" fill="#96a0ea" fill-opacity="0.79"/>
<ellipse cx="128.9" cy="460.8" rx="3.4" ry="1.7" transform="rotate(74 128.9 460.8)" fill="#6a78dc" fill-opacity="0.60"/>
<ellipse cx="126.0" cy="448.7" rx="4.5" ry="1.7" transform="rotate(77 126.0 448.7)" fill="#6a78dc" fill-opacity="0.56"/>
<ellipse cx="123.1" cy="433.8" rx="3.2" ry="1.1" transform="rotate(80 123.1 433.8)" fill="#7c88e2" fill-opacity="0.51"/>
<ellipse cx="129.8" cy="464.2" rx="2.0" ry="1.0" transform="rotate(73 129.8 464.2)" fill="#7c88e2" fill-opacity="0.74"/>
<ellipse cx="200.5" cy="442.1" rx="3.4" ry="1.6" transform="rotate(9 200.5 442.1)" fill="#8490e4" fill-opacity="0.54"/>
<ellipse cx="179.4" cy="436.2" rx="2.1" ry="1.2" transform="rotate(21 179.4 436.2)" fill="#8490e4" fill-opacity="0.52"/>
<ellipse cx="163.5" cy="428.7" rx="3.1" ry="1.1" transform="rotate(28 163.5 428.7)" fill="#6a78dc" fill-opacity="0.57"/>
<ellipse cx="175.8" cy="434.7" rx="3.4" ry="1.9" transform="rotate(23 175.8 434.7)" fill="#7482e0" fill-opacity="0.78"/>
<ellipse cx="172.2" cy="433.1" rx="2.2" ry="1.0" transform="rotate(24 172.2 433.1)" fill="#6a78dc" fill-opacity="0.51"/>
<ellipse cx="81.3" cy="468.3" rx="3.3" ry="1.5" transform="rotate(124 81.3 468.3)" fill="#7482e0" fill-opacity="0.79"/>
<ellipse cx="83.5" cy="465.1" rx="4.0" ry="1.6" transform="rotate(123 83.5 465.1)" fill="#8490e4" fill-opacity="0.57"/>
<ellipse cx="97.9" cy="441.0" rx="3.6" ry="1.6" transform="rotate(118 97.9 441.0)" fill="#96a0ea" fill-opacity="0.79"/>
<ellipse cx="196.3" cy="514.6" rx="3.8" ry="1.1" transform="rotate(69 196.3 514.6)" fill="#7482e0" fill-opacity="0.78"/>
<ellipse cx="200.9" cy="526.2" rx="2.5" ry="1.3" transform="rotate(68 200.9 526.2)" fill="#7c88e2" fill-opacity="0.66"/>
<ellipse cx="204.8" cy="535.6" rx="3.1" ry="1.0" transform="rotate(66 204.8 535.6)" fill="#6a78dc" fill-opacity="0.56"/>
<ellipse cx="138.3" cy="395.7" rx="3.8" ry="1.7" transform="rotate(18 138.3 395.7)" fill="#8490e4" fill-opacity="0.60"/>
<ellipse cx="153.4" cy="397.6" rx="3.5" ry="1.8" transform="rotate(0 153.4 397.6)" fill="#7c88e2" fill-opacity="0.62"/>
<ellipse cx="138.9" cy="395.9" rx="4.1" ry="1.1" transform="rotate(17 138.9 395.9)" fill="#8490e4" fill-opacity="0.73"/>
<ellipse cx="159.8" cy="397.4" rx="2.6" ry="1.1" transform="rotate(-3 159.8 397.4)" fill="#7c88e2" fill-opacity="0.56"/>
<ellipse cx="106.5" cy="393.2" rx="3.4" ry="1.8" transform="rotate(161 106.5 393.2)" fill="#96a0ea" fill-opacity="0.52"/>
<ellipse cx="74.2" cy="410.5" rx="4.4" ry="1.8" transform="rotate(141 74.2 410.5)" fill="#7c88e2" fill-opacity="0.58"/>
<ellipse cx="101.7" cy="394.9" rx="3.1" ry="1.8" transform="rotate(159 101.7 394.9)" fill="#7c88e2" fill-opacity="0.56"/>
<ellipse cx="103.4" cy="394.3" rx="3.7" ry="1.4" transform="rotate(160 103.4 394.3)" fill="#6a78dc" fill-opacity="0.75"/>
<ellipse cx="70.7" cy="413.4" rx="3.5" ry="1.2" transform="rotate(138 70.7 413.4)" fill="#7482e0" fill-opacity="0.72"/>
<ellipse cx="164.8" cy="513.9" rx="4.1" ry="1.7" transform="rotate(164 164.8 513.9)" fill="#7482e0" fill-opacity="0.71"/>
<ellipse cx="177.3" cy="509.1" rx="3.6" ry="1.2" transform="rotate(153 177.3 509.1)" fill="#96a0ea" fill-opacity="0.60"/>
<ellipse cx="169.5" cy="512.5" rx="4.1" ry="1.2" transform="rotate(160 169.5 512.5)" fill="#7482e0" fill-opacity="0.75"/>
<ellipse cx="165.5" cy="513.7" rx="3.5" ry="1.8" transform="rotate(163 165.5 513.7)" fill="#7482e0" fill-opacity="0.70"/>
<ellipse cx="196.2" cy="478.4" rx="2.8" ry="1.0" transform="rotate(23 196.2 478.4)" fill="#96a0ea" fill-opacity="0.52"/>
<ellipse cx="77.6" cy="495.0" rx="4.4" ry="1.5" transform="rotate(3 77.6 495.0)" fill="#7482e0" fill-opacity="0.74"/>
<ellipse cx="133.2" cy="408.0" rx="3.5" ry="1.8" transform="rotate(118 133.2 408.0)" fill="#8490e4" fill-opacity="0.62"/>
<ellipse cx="137.3" cy="456.9" rx="4.2" ry="1.2" transform="rotate(50 137.3 456.9)" fill="#6a78dc" fill-opacity="0.57"/>
<ellipse cx="125.7" cy="474.9" rx="2.4" ry="1.8" transform="rotate(117 125.7 474.9)" fill="#7c88e2" fill-opacity="0.64"/>
<ellipse cx="95.4" cy="433.7" rx="3.8" ry="1.6" transform="rotate(32 95.4 433.7)" fill="#7c88e2" fill-opacity="0.73"/>
<ellipse cx="124.5" cy="386.3" rx="2.9" ry="1.8" transform="rotate(124 124.5 386.3)" fill="#7c88e2" fill-opacity="0.69"/>
<ellipse cx="130.6" cy="518.0" rx="3.2" ry="1.8" transform="rotate(98 130.6 518.0)" fill="#6a78dc" fill-opacity="0.76"/>
<ellipse cx="215.8" cy="507.0" rx="3.1" ry="1.5" transform="rotate(46 215.8 507.0)" fill="#96a0ea" fill-opacity="0.67"/>
<ellipse cx="190.8" cy="432.5" rx="4.4" ry="1.3" transform="rotate(64 190.8 432.5)" fill="#6a78dc" fill-opacity="0.73"/>
<ellipse cx="176.3" cy="433.4" rx="2.9" ry="1.8" transform="rotate(65 176.3 433.4)" fill="#96a0ea" fill-opacity="0.70"/>
<ellipse cx="95.0" cy="437.0" rx="2.0" ry="1.2" transform="rotate(121 95.0 437.0)" fill="#6a78dc" fill-opacity="0.63"/>
<ellipse cx="169.7" cy="389.5" rx="3.0" ry="1.2" transform="rotate(118 169.7 389.5)" fill="#7c88e2" fill-opacity="0.73"/>
<ellipse cx="173.2" cy="420.6" rx="3.8" ry="1.0" transform="rotate(174 173.2 420.6)" fill="#96a0ea" fill-opacity="0.53"/>
<ellipse cx="149.2" cy="400.2" rx="3.0" ry="1.6" transform="rotate(116 149.2 400.2)" fill="#7c88e2" fill-opacity="0.76"/>
<ellipse cx="168.6" cy="387.8" rx="2.5" ry="1.3" transform="rotate(69 168.6 387.8)" fill="#8490e4" fill-opacity="0.61"/>
<ellipse cx="110.3" cy="443.2" rx="3.4" ry="1.7" transform="rotate(97 110.3 443.2)" fill="#8490e4" fill-opacity="0.60"/>
<ellipse cx="85.2" cy="491.0" rx="3.1" ry="1.4" transform="rotate(78 85.2 491.0)" fill="#96a0ea" fill-opacity="0.63"/>
<ellipse cx="163.0" cy="407.3" rx="2.8" ry="1.7" transform="rotate(70 163.0 407.3)" fill="#6a78dc" fill-opacity="0.60"/>
<ellipse cx="168.5" cy="517.5" rx="2.9" ry="1.7" transform="rotate(52 168.5 517.5)" fill="#7c88e2" fill-opacity="0.59"/>
<ellipse cx="201.2" cy="498.0" rx="2.3" ry="1.2" transform="rotate(5 201.2 498.0)" fill="#7c88e2" fill-opacity="0.68"/>
<ellipse cx="94.6" cy="429.6" rx="3.9" ry="1.8" transform="rotate(9 94.6 429.6)" fill="#7482e0" fill-opacity="0.78"/>
<ellipse cx="127.8" cy="390.1" rx="2.4" ry="1.1" transform="rotate(178 127.8 390.1)" fill="#7482e0" fill-opacity="0.52"/>
<ellipse cx="124.1" cy="518.2" rx="2.3" ry="1.5" transform="rotate(155 124.1 518.2)" fill="#6a78dc" fill-opacity="0.57"/>
<ellipse cx="219.4" cy="396.6" rx="4.3" ry="1.6" transform="rotate(85 219.4 396.6)" fill="#8490e4" fill-opacity="0.67"/>
<ellipse cx="79.1" cy="513.2" rx="3.4" ry="1.6" transform="rotate(29 79.1 513.2)" fill="#6a78dc" fill-opacity="0.52"/>
<ellipse cx="78.8" cy="457.5" rx="2.1" ry="1.3" transform="rotate(161 78.8 457.5)" fill="#8490e4" fill-opacity="0.69"/>
<ellipse cx="90.3" cy="500.5" rx="3.0" ry="1.8" transform="rotate(48 90.3 500.5)" fill="#96a0ea" fill-opacity="0.77"/>
<ellipse cx="168.7" cy="482.6" rx="4.3" ry="1.3" transform="rotate(130 168.7 482.6)" fill="#6a78dc" fill-opacity="0.59"/>
<ellipse cx="166.0" cy="474.4" rx="4.0" ry="1.6" transform="rotate(130 166.0 474.4)" fill="#8490e4" fill-opacity="0.55"/>
<ellipse cx="187.5" cy="491.9" rx="4.5" ry="1.8" transform="rotate(7 187.5 491.9)" fill="#7c88e2" fill-opacity="0.69"/>
<ellipse cx="207.5" cy="470.8" rx="3.4" ry="1.1" transform="rotate(174 207.5 470.8)" fill="#96a0ea" fill-opacity="0.78"/>
<ellipse cx="152.2" cy="455.6" rx="2.1" ry="1.9" transform="rotate(15 152.2 455.6)" fill="#96a0ea" fill-opacity="0.79"/>
<ellipse cx="143.7" cy="422.8" rx="4.3" ry="1.5" transform="rotate(131 143.7 422.8)" fill="#7482e0" fill-opacity="0.74"/>
<ellipse cx="184.3" cy="482.2" rx="3.4" ry="1.1" transform="rotate(157 184.3 482.2)" fill="#8490e4" fill-opacity="0.78"/>
<ellipse cx="77.2" cy="405.8" rx="3.5" ry="1.0" transform="rotate(67 77.2 405.8)" fill="#7482e0" fill-opacity="0.50"/>
<ellipse cx="168.3" cy="436.7" rx="4.4" ry="1.8" transform="rotate(75 168.3 436.7)" fill="#96a0ea" fill-opacity="0.63"/>
<ellipse cx="179.6" cy="468.7" rx="4.0" ry="1.9" transform="rotate(5 179.6 468.7)" fill="#6a78dc" fill-opacity="0.73"/>
<ellipse cx="182.0" cy="469.6" rx="3.7" ry="1.2" transform="rotate(120 182.0 469.6)" fill="#8490e4" fill-opacity="0.79"/>
<ellipse cx="96.1" cy="415.0" rx="3.1" ry="1.0" transform="rotate(30 96.1 415.0)" fill="#8490e4" fill-opacity="0.56"/>
<ellipse cx="178.7" cy="478.2" rx="2.4" ry="1.8" transform="rotate(3 178.7 478.2)" fill="#8490e4" fill-opacity="0.61"/>
<ellipse cx="152.9" cy="493.1" rx="2.5" ry="1.5" transform="rotate(174 152.9 493.1)" fill="#96a0ea" fill-opacity="0.65"/>
<ellipse cx="180.8" cy="450.9" rx="2.9" ry="1.8" transform="rotate(178 180.8 450.9)" fill="#7c88e2" fill-opacity="0.71"/>
<ellipse cx="137.8" cy="384.6" rx="4.4" ry="1.7" transform="rotate(61 137.8 384.6)" fill="#7482e0" fill-opacity="0.74"/>
<ellipse cx="198.7" cy="405.2" rx="3.8" ry="1.9" transform="rotate(92 198.7 405.2)" fill="#7482e0" fill-opacity="0.72"/>
<ellipse cx="158.3" cy="394.9" rx="2.0" ry="1.8" transform="rotate(25 158.3 394.9)" fill="#7482e0" fill-opacity="0.67"/>
<ellipse cx="206.8" cy="397.6" rx="2.7" ry="1.5" transform="rotate(128 206.8 397.6)" fill="#7c88e2" fill-opacity="0.60"/>
<ellipse cx="137.7" cy="491.0" rx="4.3" ry="1.8" transform="rotate(171 137.7 491.0)" fill="#8490e4" fill-opacity="0.54"/>
<ellipse cx="143.8" cy="463.1" rx="2.2" ry="1.4" transform="rotate(93 143.8 463.1)" fill="#6a78dc" fill-opacity="0.60"/>
<ellipse cx="171.4" cy="489.7" rx="2.7" ry="1.1" transform="rotate(51 171.4 489.7)" fill="#8490e4" fill-opacity="0.69"/>
<ellipse cx="204.7" cy="514.0" rx="3.8" ry="1.1" transform="rotate(151 204.7 514.0)" fill="#8490e4" fill-opacity="0.71"/>
<ellipse cx="221.7" cy="388.5" rx="3.7" ry="1.3" transform="rotate(15 221.7 388.5)" fill="#7482e0" fill-opacity="0.56"/>
<ellipse cx="186.9" cy="508.7" rx="4.3" ry="1.8" transform="rotate(115 186.9 508.7)" fill="#6a78dc" fill-opacity="0.70"/>
<ellipse cx="121.6" cy="420.8" rx="2.3" ry="1.1" transform="rotate(121 121.6 420.8)" fill="#8490e4" fill-opacity="0.54"/>
<ellipse cx="183.8" cy="481.4" rx="2.3" ry="1.1" transform="rotate(161 183.8 481.4)" fill="#96a0ea" fill-opacity="0.79"/>
<ellipse cx="216.6" cy="430.8" rx="3.4" ry="1.6" transform="rotate(83 216.6 430.8)" fill="#6a78dc" fill-opacity="0.76"/>
<ellipse cx="221.6" cy="491.6" rx="3.5" ry="1.9" transform="rotate(99 221.6 491.6)" fill="#96a0ea" fill-opacity="0.77"/>
<ellipse cx="120.1" cy="434.8" rx="3.9" ry="1.4" transform="rotate(149 120.1 434.8)" fill="#7c88e2" fill-opacity="0.78"/>
<ellipse cx="121.2" cy="391.7" rx="2.7" ry="1.1" transform="rotate(19 121.2 391.7)" fill="#6a78dc" fill-opacity="0.78"/>
<ellipse cx="203.5" cy="444.9" rx="3.8" ry="1.5" transform="rotate(55 203.5 444.9)" fill="#7482e0" fill-opacity="0.70"/>
<ellipse cx="192.6" cy="472.2" rx="2.9" ry="1.6" transform="rotate(167 192.6 472.2)" fill="#6a78dc" fill-opacity="0.70"/>
<ellipse cx="217.5" cy="509.0" rx="2.3" ry="1.8" transform="rotate(79 217.5 509.0)" fill="#96a0ea" fill-opacity="0.55"/>
<ellipse cx="108.2" cy="444.5" rx="2.8" ry="1.0" transform="rotate(138 108.2 444.5)" fill="#7c88e2" fill-opacity="0.56"/>
<ellipse cx="216.3" cy="482.8" rx="2.7" ry="1.5" transform="rotate(61 216.3 482.8)" fill="#96a0ea" fill-opacity="0.65"/>
<ellipse cx="105.3" cy="483.1" rx="3.0" ry="1.2" transform="rotate(167 105.3 483.1)" fill="#6a78dc" fill-opacity="0.80"/>
<ellipse cx="118.3" cy="462.2" rx="2.3" ry="1.5" transform="rotate(93 118.3 462.2)" fill="#7c88e2" fill-opacity="0.52"/>
<ellipse cx="174.8" cy="442.5" rx="3.0" ry="1.6" transform="rotate(178 174.8 442.5)" fill="#8490e4" fill-opacity="0.73"/>
<ellipse cx="179.3" cy="509.0" rx="2.1" ry="1.5" transform="rotate(117 179.3 509.0)" fill="#7482e0" fill-opacity="0.57"/>
<ellipse cx="82.1" cy="424.6" rx="3.6" ry="1.4" transform="rotate(172 82.1 424.6)" fill="#7c88e2" fill-opacity="0.65"/>
<ellipse cx="210.3" cy="510.1" rx="3.8" ry="1.1" transform="rotate(52 210.3 510.1)" fill="#96a0ea" fill-opacity="0.57"/>
<ellipse cx="197.2" cy="406.7" rx="2.6" ry="1.3" transform="rotate(123 197.2 406.7)" fill="#6a78dc" fill-opacity="0.79"/>
<ellipse cx="165.5" cy="465.6" rx="2.3" ry="1.1" transform="rotate(15 165.5 465.6)" fill="#96a0ea" fill-opacity="0.60"/>
<ellipse cx="90.6" cy="388.8" rx="2.1" ry="1.6" transform="rotate(177 90.6 388.8)" fill="#6a78dc" fill-opacity="0.64"/>
<ellipse cx="104.9" cy="487.2" rx="3.0" ry="1.8" transform="rotate(147 104.9 487.2)" fill="#7c88e2" fill-opacity="0.62"/>
<ellipse cx="214.8" cy="401.4" rx="3.7" ry="1.0" transform="rotate(97 214.8 401.4)" fill="#96a0ea" fill-opacity="0.59"/>
<ellipse cx="182.0" cy="454.4" rx="4.2" ry="1.8" transform="rotate(114 182.0 454.4)" fill="#96a0ea" fill-opacity="0.78"/>
<ellipse cx="135.0" cy="409.0" rx="3.0" ry="1.4" transform="rotate(36 135.0 409.0)" fill="#7c88e2" fill-opacity="0.74"/>
<ellipse cx="188.0" cy="441.4" rx="2.5" ry="1.1" transform="rotate(127 188.0 441.4)" fill="#6a78dc" fill-opacity="0.76"/>
<ellipse cx="80.9" cy="387.4" rx="2.4" ry="1.3" transform="rotate(168 80.9 387.4)" fill="#8490e4" fill-opacity="0.52"/>
<ellipse cx="85.3" cy="405.3" rx="4.3" ry="1.3" transform="rotate(22 85.3 405.3)" fill="#7482e0" fill-opacity="0.60"/>
<ellipse cx="185.8" cy="394.0" rx="2.4" ry="1.4" transform="rotate(105 185.8 394.0)" fill="#6270d4" fill-opacity="0.84"/>
<ellipse cx="169.4" cy="460.6" rx="1.6" ry="1.4" transform="rotate(4 169.4 460.6)" fill="#6270d4" fill-opacity="0.69"/>
<ellipse cx="101.3" cy="429.1" rx="1.5" ry="1.1" transform="rotate(164 101.3 429.1)" fill="#5a68d0" fill-opacity="0.65"/>
<ellipse cx="217.1" cy="495.9" rx="2.1" ry="1.3" transform="rotate(20 217.1 495.9)" fill="#6270d4" fill-opacity="0.88"/>
<ellipse cx="204.2" cy="417.4" rx="1.6" ry="1.3" transform="rotate(138 204.2 417.4)" fill="#4858c4" fill-opacity="0.60"/>
<ellipse cx="156.7" cy="407.0" rx="2.3" ry="1.2" transform="rotate(149 156.7 407.0)" fill="#5a68d0" fill-opacity="0.72"/>
<ellipse cx="214.1" cy="461.2" rx="1.4" ry="1.3" transform="rotate(149 214.1 461.2)" fill="#6270d4" fill-opacity="0.80"/>
<ellipse cx="124.7" cy="392.6" rx="2.0" ry="1.4" transform="rotate(120 124.7 392.6)" fill="#5060cc" fill-opacity="0.78"/>
<ellipse cx="221.0" cy="465.8" rx="2.3" ry="1.4" transform="rotate(151 221.0 465.8)" fill="#5060cc" fill-opacity="0.80"/>
<ellipse cx="81.8" cy="443.5" rx="2.1" ry="1.2" transform="rotate(10 81.8 443.5)" fill="#4858c4" fill-opacity="0.67"/>
<ellipse cx="82.5" cy="443.5" rx="1.6" ry="1.1" transform="rotate(15 82.5 443.5)" fill="#6270d4" fill-opacity="0.66"/>
<ellipse cx="189.7" cy="411.4" rx="1.9" ry="1.4" transform="rotate(65 189.7 411.4)" fill="#6270d4" fill-opacity="0.78"/>
<ellipse cx="78.7" cy="519.0" rx="2.0" ry="1.1" transform="rotate(166 78.7 519.0)" fill="#4858c4" fill-opacity="0.62"/>
<ellipse cx="114.5" cy="402.9" rx="1.4" ry="1.3" transform="rotate(167 114.5 402.9)" fill="#4858c4" fill-opacity="0.89"/>
<ellipse cx="178.7" cy="470.4" rx="1.4" ry="1.4" transform="rotate(175 178.7 470.4)" fill="#5a68d0" fill-opacity="0.80"/>
<ellipse cx="104.9" cy="389.4" rx="1.6" ry="1.2" transform="rotate(48 104.9 389.4)" fill="#4858c4" fill-opacity="0.61"/>
<ellipse cx="206.0" cy="479.9" rx="2.3" ry="1.5" transform="rotate(45 206.0 479.9)" fill="#5a68d0" fill-opacity="0.89"/>
<ellipse cx="213.6" cy="520.0" rx="1.3" ry="1.4" transform="rotate(70 213.6 520.0)" fill="#4858c4" fill-opacity="0.89"/>
<ellipse cx="176.8" cy="390.1" rx="1.9" ry="1.3" transform="rotate(133 176.8 390.1)" fill="#6270d4" fill-opacity="0.84"/>
<ellipse cx="146.4" cy="461.2" rx="1.6" ry="1.6" transform="rotate(113 146.4 461.2)" fill="#5060cc" fill-opacity="0.84"/>
<ellipse cx="78.8" cy="400.6" rx="1.6" ry="1.2" transform="rotate(149 78.8 400.6)" fill="#5a68d0" fill-opacity="0.86"/>
<ellipse cx="170.5" cy="405.0" rx="2.3" ry="1.4" transform="rotate(165 170.5 405.0)" fill="#6270d4" fill-opacity="0.71"/>
<ellipse cx="129.2" cy="385.3" rx="2.3" ry="1.3" transform="rotate(47 129.2 385.3)" fill="#6270d4" fill-opacity="0.86"/>
<ellipse cx="105.7" cy="434.8" rx="1.9" ry="1.2" transform="rotate(9 105.7 434.8)" fill="#5060cc" fill-opacity="0.70"/>
<ellipse cx="169.0" cy="480.6" rx="1.8" ry="1.6" transform="rotate(36 169.0 480.6)" fill="#5a68d0" fill-opacity="0.63"/>
<ellipse cx="173.8" cy="491.6" rx="1.5" ry="1.0" transform="rotate(179 173.8 491.6)" fill="#5a68d0" fill-opacity="0.68"/>
<ellipse cx="81.1" cy="504.0" rx="1.7" ry="1.5" transform="rotate(79 81.1 504.0)" fill="#4858c4" fill-opacity="0.79"/>
<ellipse cx="95.3" cy="506.0" rx="2.0" ry="1.6" transform="rotate(34 95.3 506.0)" fill="#4858c4" fill-opacity="0.90"/>
<ellipse cx="176.4" cy="391.9" rx="2.3" ry="1.1" transform="rotate(132 176.4 391.9)" fill="#4858c4" fill-opacity="0.64"/>
<ellipse cx="89.8" cy="385.8" rx="1.5" ry="1.2" transform="rotate(62 89.8 385.8)" fill="#5060cc" fill-opacity="0.83"/>
<ellipse cx="214.3" cy="502.1" rx="2.0" ry="1.0" transform="rotate(114 214.3 502.1)" fill="#6270d4" fill-opacity="0.77"/>
<ellipse cx="94.7" cy="436.9" rx="1.5" ry="1.4" transform="rotate(53 94.7 436.9)" fill="#6270d4" fill-opacity="0.64"/>
<ellipse cx="198.5" cy="476.1" rx="1.4" ry="1.0" transform="rotate(150 198.5 476.1)" fill="#5060cc" fill-opacity="0.80"/>
<ellipse cx="84.9" cy="446.7" rx="1.4" ry="1.3" transform="rotate(4 84.9 446.7)" fill="#4858c4" fill-opacity="0.62"/>
<ellipse cx="93.4" cy="466.2" rx="2.1" ry="1.2" transform="rotate(153 93.4 466.2)" fill="#6270d4" fill-opacity="0.86"/>
<ellipse cx="166.5" cy="402.9" rx="1.6" ry="1.4" transform="rotate(14 166.5 402.9)" fill="#5060cc" fill-opacity="0.75"/>
<ellipse cx="139.7" cy="446.5" rx="2.4" ry="1.3" transform="rotate(136 139.7 446.5)" fill="#5060cc" fill-opacity="0.72"/>
<ellipse cx="182.2" cy="430.7" rx="2.0" ry="1.5" transform="rotate(29 182.2 430.7)" fill="#4858c4" fill-opacity="0.84"/>
<ellipse cx="82.2" cy="483.3" rx="2.1" ry="1.6" transform="rotate(45 82.2 483.3)" fill="#5a68d0" fill-opacity="0.86"/>
<ellipse cx="170.2" cy="483.0" rx="1.3" ry="1.1" transform="rotate(21 170.2 483.0)" fill="#5a68d0" fill-opacity="0.74"/>
<ellipse cx="149.0" cy="481.7" rx="1.5" ry="1.3" transform="rotate(94 149.0 481.7)" fill="#6270d4" fill-opacity="0.62"/>
<ellipse cx="74.1" cy="513.7" rx="1.4" ry="1.6" transform="rotate(1 74.1 513.7)" fill="#6270d4" fill-opacity="0.66"/>
<ellipse cx="75.0" cy="452.4" rx="1.4" ry="1.2" transform="rotate(59 75.0 452.4)" fill="#5060cc" fill-opacity="0.69"/>
<ellipse cx="148.3" cy="387.2" rx="2.0" ry="1.4" transform="rotate(31 148.3 387.2)" fill="#4858c4" fill-opacity="0.80"/>
<ellipse cx="77.2" cy="509.2" rx="1.3" ry="1.0" transform="rotate(91 77.2 509.2)" fill="#4858c4" fill-opacity="0.64"/>
</g>
<g clip-path="url(#c3)" filter="url(#bl3)">
<circle cx="199.3" cy="440.3" r="1.9" fill="#d4d4de" stroke="#62627a" stroke-opacity="0.68" stroke-width="1.0"/>
<circle cx="168.8" cy="459.2" r="1.9" fill="#d4d4de" stroke="#62627a" stroke-opacity="0.75" stroke-width="1.0"/>
<circle cx="134.6" cy="510.9" r="1.9" fill="#d4d4de" stroke="#62627a" stroke-opacity="0.68" stroke-width="1.0"/>
<circle cx="97.2" cy="384.1" r="1.9" fill="#d4d4de" stroke="#62627a" stroke-opacity="0.61" stroke-width="1.0"/>
<circle cx="152.2" cy="516.5" r="1.9" fill="#d4d4de" stroke="#62627a" stroke-opacity="0.73" stroke-width="1.0"/>
<circle cx="144.2" cy="451.2" r="1.9" fill="#d4d4de" stroke="#62627a" stroke-opacity="0.88" stroke-width="1.0"/>
<circle cx="117.4" cy="416.9" r="1.9" fill="#d4d4de" stroke="#62627a" stroke-opacity="0.73" stroke-width="1.0"/>
<circle cx="114.9" cy="484.7" r="1.9" fill="#d4d4de" stroke="#62627a" stroke-opacity="0.84" stroke-width="1.0"/>
<circle cx="138.0" cy="517.7" r="1.9" fill="#d4d4de" stroke="#62627a" stroke-opacity="0.75" stroke-width="1.0"/>
<circle cx="202.5" cy="492.2" r="1.9" fill="#d4d4de" stroke="#62627a" stroke-opacity="0.61" stroke-width="1.0"/>
<circle cx="211.5" cy="499.5" r="1.9" fill="#d4d4de" stroke="#62627a" stroke-opacity="0.70" stroke-width="1.0"/>
<circle cx="195.7" cy="421.5" r="1.9" fill="#d4d4de" stroke="#62627a" stroke-opacity="0.86" stroke-width="1.0"/>
<circle cx="80.1" cy="398.5" r="1.9" fill="#d4d4de" stroke="#62627a" stroke-opacity="0.77" stroke-width="1.0"/>
<circle cx="106.5" cy="409.5" r="1.9" fill="#d4d4de" stroke="#62627a" stroke-opacity="0.85" stroke-width="1.0"/>
<circle cx="128.6" cy="483.4" r="1.9" fill="#d4d4de" stroke="#62627a" stroke-opacity="0.69" stroke-width="1.0"/>
<circle cx="194.0" cy="457.5" r="1.9" fill="#d4d4de" stroke="#62627a" stroke-opacity="0.75" stroke-width="1.0"/>
<circle cx="112.3" cy="511.0" r="1.9" fill="#d4d4de" stroke="#62627a" stroke-opacity="0.71" stroke-width="1.0"/>
<circle cx="207.4" cy="484.6" r="1.9" fill="#d4d4de" stroke="#62627a" stroke-opacity="0.71" stroke-width="1.0"/>
<circle cx="218.1" cy="409.3" r="1.9" fill="#d4d4de" stroke="#62627a" stroke-opacity="0.76" stroke-width="1.0"/>
<circle cx="89.8" cy="493.0" r="1.9" fill="#d4d4de" stroke="#62627a" stroke-opacity="0.77" stroke-width="1.0"/>
<circle cx="99.6" cy="394.4" r="1.9" fill="#d4d4de" stroke="#62627a" stroke-opacity="0.65" stroke-width="1.0"/>
<circle cx="117.3" cy="483.0" r="1.9" fill="#d4d4de" stroke="#62627a" stroke-opacity="0.75" stroke-width="1.0"/>
<circle cx="176.7" cy="409.4" r="1.9" fill="#d4d4de" stroke="#62627a" stroke-opacity="0.90" stroke-width="1.0"/>
<circle cx="181.0" cy="484.4" r="1.9" fill="#d4d4de" stroke="#62627a" stroke-opacity="0.72" stroke-width="1.0"/>
<circle cx="186.0" cy="512.1" r="1.9" fill="#d4d4de" stroke="#62627a" stroke-opacity="0.61" stroke-width="1.0"/>
<circle cx="115.5" cy="400.9" r="1.9" fill="#d4d4de" stroke="#62627a" stroke-opacity="0.61" stroke-width="1.0"/>
<circle cx="155.9" cy="446.5" r="1.9" fill="#d4d4de" stroke="#62627a" stroke-opacity="0.79" stroke-width="1.0"/>
<circle cx="151.7" cy="404.4" r="1.9" fill="#d4d4de" stroke="#62627a" stroke-opacity="0.70" stroke-width="1.0"/>
<circle cx="174.2" cy="482.1" r="1.9" fill="#d4d4de" stroke="#62627a" stroke-opacity="0.64" stroke-width="1.0"/>
<circle cx="203.4" cy="468.4" r="1.9" fill="#d4d4de" stroke="#62627a" stroke-opacity="0.74" stroke-width="1.0"/>
<circle cx="112.7" cy="399.2" r="1.9" fill="#d4d4de" stroke="#62627a" stroke-opacity="0.69" stroke-width="1.0"/>
<circle cx="116.9" cy="484.9" r="1.9" fill="#d4d4de" stroke="#62627a" stroke-opacity="0.79" stroke-width="1.0"/>
<circle cx="84.7" cy="458.7" r="1.9" fill="#d4d4de" stroke="#62627a" stroke-opacity="0.76" stroke-width="1.0"/>
<circle cx="183.7" cy="388.5" r="1.9" fill="#d4d4de" stroke="#62627a" stroke-opacity="0.63" stroke-width="1.0"/>
<circle cx="213.1" cy="505.6" r="1.9" fill="#d4d4de" stroke="#62627a" stroke-opacity="0.69" stroke-width="1.0"/>
<circle cx="126.7" cy="409.6" r="1.9" fill="#d4d4de" stroke="#62627a" stroke-opacity="0.87" stroke-width="1.0"/>
<circle cx="109.4" cy="481.2" r="1.9" fill="#d4d4de" stroke="#62627a" stroke-opacity="0.87" stroke-width="1.0"/>
<circle cx="107.6" cy="504.4" r="1.9" fill="#d4d4de" stroke="#62627a" stroke-opacity="0.90" stroke-width="1.0"/>
<circle cx="213.8" cy="504.0" r="1.9" fill="#d4d4de" stroke="#62627a" stroke-opacity="0.82" stroke-width="1.0"/>
<circle cx="165.6" cy="395.6" r="1.9" fill="#d4d4de" stroke="#62627a" stroke-opacity="0.71" stroke-width="1.0"/>
<circle cx="175.5" cy="392.7" r="1.9" fill="#d4d4de" stroke="#62627a" stroke-opacity="0.73" stroke-width="1.0"/>
<circle cx="129.9" cy="496.6" r="1.9" fill="#d4d4de" stroke="#62627a" stroke-opacity="0.84" stroke-width="1.0"/>
<circle cx="197.0" cy="499.6" r="1.9" fill="#d4d4de" stroke="#62627a" stroke-opacity="0.64" stroke-width="1.0"/>
<circle cx="129.7" cy="465.5" r="1.9" fill="#d4d4de" stroke="#62627a" stroke-opacity="0.62" stroke-width="1.0"/>
<circle cx="190.1" cy="507.7" r="1.9" fill="#d4d4de" stroke="#62627a" stroke-opacity="0.87" stroke-width="1.0"/>
<circle cx="135.1" cy="486.5" r="1.9" fill="#d4d4de" stroke="#62627a" stroke-opacity="0.68" stroke-width="1.0"/>
<circle cx="147.1" cy="403.5" r="1.9" fill="#d4d4de" stroke="#62627a" stroke-opacity="0.71" stroke-width="1.0"/>
<circle cx="121.8" cy="394.0" r="1.9" fill="#d4d4de" stroke="#62627a" stroke-opacity="0.66" stroke-width="1.0"/>
<circle cx="78.4" cy="444.4" r="1.9" fill="#d4d4de" stroke="#62627a" stroke-opacity="0.62" stroke-width="1.0"/>
<circle cx="166.6" cy="393.9" r="1.9" fill="#d4d4de" stroke="#62627a" stroke-opacity="0.76" stroke-width="1.0"/>
<circle cx="152.0" cy="474.8" r="1.9" fill="#d4d4de" stroke="#62627a" stroke-opacity="0.82" stroke-width="1.0"/>
<circle cx="121.9" cy="503.8" r="1.9" fill="#d4d4de" stroke="#62627a" stroke-opacity="0.75" stroke-width="1.0"/>
<circle cx="129.2" cy="446.2" r="1.9" fill="#d4d4de" stroke="#62627a" stroke-opacity="0.79" stroke-width="1.0"/>
<circle cx="178.5" cy="497.6" r="1.9" fill="#d4d4de" stroke="#62627a" stroke-opacity="0.63" stroke-width="1.0"/>
<circle cx="73.8" cy="450.5" r="1.9" fill="#d4d4de" stroke="#62627a" stroke-opacity="0.83" stroke-width="1.0"/>
<circle cx="188.2" cy="478.3" r="1.9" fill="#d4d4de" stroke="#62627a" stroke-opacity="0.79" stroke-width="1.0"/>
<circle cx="90.0" cy="511.9" r="1.9" fill="#d4d4de" stroke="#62627a" stroke-opacity="0.85" stroke-width="1.0"/>
<circle cx="96.2" cy="502.7" r="1.9" fill="#d4d4de" stroke="#62627a" stroke-opacity="0.89" stroke-width="1.0"/>
<circle cx="208.0" cy="520.4" r="1.9" fill="#d4d4de" stroke="#62627a" stroke-opacity="0.83" stroke-width="1.0"/>
<circle cx="149.8" cy="461.6" r="1.9" fill="#d4d4de" stroke="#62627a" stroke-opacity="0.70" stroke-width="1.0"/>
<circle cx="208.9" cy="408.7" r="1.9" fill="#d4d4de" stroke="#62627a" stroke-opacity="0.66" stroke-width="1.0"/>
<circle cx="202.2" cy="487.2" r="1.9" fill="#d4d4de" stroke="#62627a" stroke-opacity="0.80" stroke-width="1.0"/>
</g>
<rect x="214.2" y="383.9" width="8" height="136.9" fill="url(#vg)"/>
<rect x="227.6" y="387.0" width="149" height="135.0" fill="#fcf8fa"/>
<g clip-path="url(#c4)" filter="url(#bl2)">
<path d="M273.6 388.8 Q280.8 419.5 276.3 443.9" fill="none" stroke="#b4bcee" stroke-opacity="0.46" stroke-width="1.0"/>
<path d="M320.7 515.0 Q303.4 530.7 308.8 537.3" fill="none" stroke="#b4bcee" stroke-opacity="0.49" stroke-width="1.1"/>
<path d="M239.5 440.6 Q256.6 469.2 267.3 489.7" fill="none" stroke="#b4bcee" stroke-opacity="0.46" stroke-width="1.1"/>
<path d="M322.4 472.4 Q326.1 497.7 349.3 525.6" fill="none" stroke="#b4bcee" stroke-opacity="0.39" stroke-width="1.0"/>
<path d="M239.2 494.6 Q232.4 500.8 215.3 530.1" fill="none" stroke="#b4bcee" stroke-opacity="0.51" stroke-width="1.0"/>
<path d="M243.3 423.0 Q236.2 437.6 225.2 470.6" fill="none" stroke="#b4bcee" stroke-opacity="0.50" stroke-width="0.8"/>
<path d="M290.9 498.2 Q272.8 516.4 260.2 517.3" fill="none" stroke="#b4bcee" stroke-opacity="0.59" stroke-width="1.0"/>
<path d="M315.2 491.8 Q303.2 503.8 286.5 523.5" fill="none" stroke="#b4bcee" stroke-opacity="0.39" stroke-width="1.0"/>
<path d="M241.0 499.7 Q263.9 511.3 263.7 529.9" fill="none" stroke="#b4bcee" stroke-opacity="0.35" stroke-width="1.4"/>
<path d="M254.8 430.5 Q248.3 444.8 240.3 482.8" fill="none" stroke="#b4bcee" stroke-opacity="0.48" stroke-width="1.2"/>
<path d="M331.4 466.6 Q321.4 488.0 294.8 485.5" fill="none" stroke="#b4bcee" stroke-opacity="0.59" stroke-width="1.3"/>
<path d="M375.9 406.4 Q354.6 411.9 355.2 436.8" fill="none" stroke="#b4bcee" stroke-opacity="0.35" stroke-width="1.4"/>
<ellipse cx="277.6" cy="413.1" rx="2.8" ry="1.2" transform="rotate(85 277.6 413.1)" fill="#7c88e2" fill-opacity="0.75"/>
<ellipse cx="276.4" cy="443.5" rx="2.1" ry="1.4" transform="rotate(100 276.4 443.5)" fill="#7482e0" fill-opacity="0.79"/>
<ellipse cx="308.9" cy="528.8" rx="2.2" ry="1.7" transform="rotate(117 308.9 528.8)" fill="#7482e0" fill-opacity="0.71"/>
<ellipse cx="311.4" cy="524.8" rx="4.3" ry="1.6" transform="rotate(126 311.4 524.8)" fill="#7482e0" fill-opacity="0.53"/>
<ellipse cx="307.5" cy="533.4" rx="4.1" ry="1.2" transform="rotate(92 307.5 533.4)" fill="#8490e4" fill-opacity="0.74"/>
<ellipse cx="314.5" cy="521.1" rx="2.6" ry="1.2" transform="rotate(132 314.5 521.1)" fill="#7c88e2" fill-opacity="0.53"/>
<ellipse cx="252.3" cy="462.5" rx="3.2" ry="1.3" transform="rotate(60 252.3 462.5)" fill="#6a78dc" fill-opacity="0.73"/>
<ellipse cx="247.2" cy="453.7" rx="2.9" ry="1.7" transform="rotate(59 247.2 453.7)" fill="#96a0ea" fill-opacity="0.57"/>
<ellipse cx="244.9" cy="449.9" rx="2.1" ry="1.5" transform="rotate(59 244.9 449.9)" fill="#7c88e2" fill-opacity="0.62"/>
<ellipse cx="333.4" cy="502.8" rx="3.3" ry="1.5" transform="rotate(60 333.4 502.8)" fill="#8490e4" fill-opacity="0.51"/>
<ellipse cx="340.9" cy="514.7" rx="2.6" ry="1.7" transform="rotate(54 340.9 514.7)" fill="#7c88e2" fill-opacity="0.65"/>
<ellipse cx="325.0" cy="483.9" rx="3.7" ry="1.1" transform="rotate(72 325.0 483.9)" fill="#96a0ea" fill-opacity="0.72"/>
<ellipse cx="238.1" cy="495.7" rx="3.7" ry="1.3" transform="rotate(133 238.1 495.7)" fill="#7482e0" fill-opacity="0.72"/>
<ellipse cx="225.3" cy="513.5" rx="2.3" ry="1.1" transform="rotate(122 225.3 513.5)" fill="#6a78dc" fill-opacity="0.64"/>
<ellipse cx="218.1" cy="525.4" rx="2.5" ry="1.6" transform="rotate(120 218.1 525.4)" fill="#96a0ea" fill-opacity="0.62"/>
<ellipse cx="233.0" cy="502.0" rx="3.4" ry="1.7" transform="rotate(125 233.0 502.0)" fill="#6a78dc" fill-opacity="0.78"/>
<ellipse cx="225.0" cy="514.1" rx="3.9" ry="1.8" transform="rotate(122 225.0 514.1)" fill="#96a0ea" fill-opacity="0.61"/>
<ellipse cx="240.8" cy="428.5" rx="3.5" ry="1.6" transform="rotate(113 240.8 428.5)" fill="#96a0ea" fill-opacity="0.76"/>
<ellipse cx="228.3" cy="461.5" rx="4.1" ry="1.3" transform="rotate(108 228.3 461.5)" fill="#6a78dc" fill-opacity="0.73"/>
<ellipse cx="229.0" cy="459.5" rx="4.3" ry="1.0" transform="rotate(109 229.0 459.5)" fill="#96a0ea" fill-opacity="0.56"/>
<ellipse cx="241.4" cy="427.0" rx="3.8" ry="1.7" transform="rotate(114 241.4 427.0)" fill="#7c88e2" fill-opacity="0.79"/>
<ellipse cx="280.1" cy="507.9" rx="4.4" ry="1.2" transform="rotate(141 280.1 507.9)" fill="#6a78dc" fill-opacity="0.57"/>
<ellipse cx="261.7" cy="517.2" rx="3.4" ry="1.5" transform="rotate(171 261.7 517.2)" fill="#6a78dc" fill-opacity="0.53"/>
<ellipse cx="278.8" cy="508.9" rx="2.1" ry="1.0" transform="rotate(143 278.8 508.9)" fill="#8490e4" fill-opacity="0.77"/>
<ellipse cx="313.9" cy="493.1" rx="3.8" ry="1.2" transform="rotate(134 313.9 493.1)" fill="#6a78dc" fill-opacity="0.79"/>
<ellipse cx="314.0" cy="493.0" rx="3.1" ry="1.6" transform="rotate(134 314.0 493.0)" fill="#96a0ea" fill-opacity="0.67"/>
<ellipse cx="290.0" cy="519.5" rx="4.2" ry="1.2" transform="rotate(130 290.0 519.5)" fill="#96a0ea" fill-opacity="0.59"/>
<ellipse cx="309.9" cy="497.3" rx="2.1" ry="1.0" transform="rotate(133 309.9 497.3)" fill="#6a78dc" fill-opacity="0.60"/>
<ellipse cx="247.4" cy="503.4" rx="2.0" ry="1.3" transform="rotate(33 247.4 503.4)" fill="#7482e0" fill-opacity="0.63"/>
<ellipse cx="261.1" cy="517.9" rx="4.4" ry="1.1" transform="rotate(64 261.1 517.9)" fill="#8490e4" fill-opacity="0.62"/>
<ellipse cx="261.7" cy="519.1" rx="2.6" ry="1.9" transform="rotate(67 261.7 519.1)" fill="#7c88e2" fill-opacity="0.79"/>
<ellipse cx="245.8" cy="459.1" rx="2.0" ry="1.2" transform="rotate(104 245.8 459.1)" fill="#7482e0" fill-opacity="0.51"/>
<ellipse cx="252.4" cy="436.5" rx="2.4" ry="1.3" transform="rotate(109 252.4 436.5)" fill="#7c88e2" fill-opacity="0.75"/>
<ellipse cx="244.4" cy="464.8" rx="3.6" ry="1.4" transform="rotate(103 244.4 464.8)" fill="#7c88e2" fill-opacity="0.57"/>
<ellipse cx="241.7" cy="476.7" rx="2.9" ry="1.2" transform="rotate(102 241.7 476.7)" fill="#7c88e2" fill-opacity="0.77"/>
<ellipse cx="304.5" cy="485.6" rx="4.1" ry="1.6" transform="rotate(174 304.5 485.6)" fill="#8490e4" fill-opacity="0.78"/>
<ellipse cx="298.8" cy="485.8" rx="2.6" ry="1.3" transform="rotate(-178 298.8 485.8)" fill="#7c88e2" fill-opacity="0.76"/>
<ellipse cx="299.2" cy="485.8" rx="3.6" ry="1.6" transform="rotate(-179 299.2 485.8)" fill="#96a0ea" fill-opacity="0.70"/>
<ellipse cx="319.5" cy="480.7" rx="2.5" ry="1.7" transform="rotate(147 319.5 480.7)" fill="#8490e4" fill-opacity="0.77"/>
<ellipse cx="356.0" cy="426.7" rx="3.3" ry="1.9" transform="rotate(101 356.0 426.7)" fill="#96a0ea" fill-opacity="0.62"/>
<ellipse cx="370.7" cy="408.2" rx="3.6" ry="1.6" transform="rotate(156 370.7 408.2)" fill="#8490e4" fill-opacity="0.52"/>
<ellipse cx="359.3" cy="474.0" rx="3.1" ry="1.4" transform="rotate(127 359.3 474.0)" fill="#8490e4" fill-opacity="0.67"/>
<ellipse cx="325.8" cy="501.4" rx="2.6" ry="1.0" transform="rotate(166 325.8 501.4)" fill="#8490e4" fill-opacity="0.68"/>
<ellipse cx="353.7" cy="425.8" rx="4.2" ry="1.6" transform="rotate(103 353.7 425.8)" fill="#6a78dc" fill-opacity="0.75"/>
<ellipse cx="291.0" cy="487.1" rx="2.5" ry="1.7" transform="rotate(133 291.0 487.1)" fill="#7c88e2" fill-opacity="0.78"/>
<ellipse cx="276.0" cy="417.2" rx="3.0" ry="1.1" transform="rotate(30 276.0 417.2)" fill="#6a78dc" fill-opacity="0.62"/>
<ellipse cx="314.9" cy="436.2" rx="3.3" ry="1.8" transform="rotate(36 314.9 436.2)" fill="#7c88e2" fill-opacity="0.78"/>
<ellipse cx="351.9" cy="473.5" rx="2.1" ry="1.8" transform="rotate(174 351.9 473.5)" fill="#8490e4" fill-opacity="0.54"/>
<ellipse cx="257.1" cy="397.5" rx="2.2" ry="1.8" transform="rotate(114 257.1 397.5)" fill="#7c88e2" fill-opacity="0.52"/>
<ellipse cx="290.8" cy="440.9" rx="3.5" ry="1.4" transform="rotate(171 290.8 440.9)" fill="#8490e4" fill-opacity="0.58"/>
<ellipse cx="349.3" cy="456.3" rx="3.0" ry="1.1" transform="rotate(65 349.3 456.3)" fill="#6a78dc" fill-opacity="0.79"/>
<ellipse cx="278.8" cy="506.2" rx="4.0" ry="1.3" transform="rotate(131 278.8 506.2)" fill="#8490e4" fill-opacity="0.65"/>
<ellipse cx="321.9" cy="488.1" rx="2.5" ry="1.0" transform="rotate(11 321.9 488.1)" fill="#8490e4" fill-opacity="0.70"/>
<ellipse cx="343.1" cy="506.5" rx="3.2" ry="1.2" transform="rotate(37 343.1 506.5)" fill="#96a0ea" fill-opacity="0.54"/>
<ellipse cx="246.7" cy="423.9" rx="4.3" ry="1.1" transform="rotate(47 246.7 423.9)" fill="#7482e0" fill-opacity="0.80"/>
<ellipse cx="243.8" cy="494.0" rx="2.3" ry="1.6" transform="rotate(136 243.8 494.0)" fill="#8490e4" fill-opacity="0.57"/>
<ellipse cx="243.8" cy="510.3" rx="3.6" ry="1.8" transform="rotate(117 243.8 510.3)" fill="#7c88e2" fill-opacity="0.68"/>
<ellipse cx="358.0" cy="425.6" rx="3.1" ry="1.7" transform="rotate(61 358.0 425.6)" fill="#7c88e2" fill-opacity="0.71"/>
<ellipse cx="306.5" cy="442.7" rx="3.8" ry="1.6" transform="rotate(45 306.5 442.7)" fill="#8490e4" fill-opacity="0.55"/>
<ellipse cx="228.8" cy="415.1" rx="4.5" ry="1.6" transform="rotate(72 228.8 415.1)" fill="#8490e4" fill-opacity="0.76"/>
<ellipse cx="289.1" cy="521.6" rx="3.2" ry="1.6" transform="rotate(151 289.1 521.6)" fill="#6a78dc" fill-opacity="0.66"/>
<ellipse cx="362.0" cy="445.6" rx="3.7" ry="1.5" transform="rotate(91 362.0 445.6)" fill="#96a0ea" fill-opacity="0.66"/>
<ellipse cx="297.9" cy="446.2" rx="4.0" ry="1.5" transform="rotate(132 297.9 446.2)" fill="#8490e4" fill-opacity="0.69"/>
<ellipse cx="300.5" cy="481.6" rx="3.0" ry="1.4" transform="rotate(60 300.5 481.6)" fill="#7c88e2" fill-opacity="0.57"/>
<ellipse cx="365.9" cy="414.0" rx="3.6" ry="1.7" transform="rotate(153 365.9 414.0)" fill="#8490e4" fill-opacity="0.69"/>
<ellipse cx="283.4" cy="441.1" rx="3.0" ry="1.7" transform="rotate(60 283.4 441.1)" fill="#8490e4" fill-opacity="0.74"/>
<ellipse cx="287.6" cy="506.4" rx="3.7" ry="1.3" transform="rotate(106 287.6 506.4)" fill="#8490e4" fill-opacity="0.67"/>
<ellipse cx="253.5" cy="494.8" rx="2.4" ry="1.8" transform="rotate(133 253.5 494.8)" fill="#8490e4" fill-opacity="0.64"/>
<ellipse cx="264.7" cy="443.1" rx="4.2" ry="1.4" transform="rotate(101 264.7 443.1)" fill="#7c88e2" fill-opacity="0.53"/>
<ellipse cx="282.4" cy="498.5" rx="4.4" ry="1.7" transform="rotate(71 282.4 498.5)" fill="#96a0ea" fill-opacity="0.73"/>
<ellipse cx="299.4" cy="478.2" rx="2.0" ry="1.8" transform="rotate(110 299.4 478.2)" fill="#96a0ea" fill-opacity="0.78"/>
<ellipse cx="260.2" cy="443.7" rx="2.1" ry="1.1" transform="rotate(131 260.2 443.7)" fill="#5a68d0" fill-opacity="0.62"/>
<ellipse cx="280.3" cy="487.6" rx="2.3" ry="1.0" transform="rotate(135 280.3 487.6)" fill="#6270d4" fill-opacity="0.86"/>
<ellipse cx="336.9" cy="508.4" rx="1.6" ry="1.0" transform="rotate(45 336.9 508.4)" fill="#6270d4" fill-opacity="0.73"/>
<ellipse cx="340.2" cy="474.9" rx="2.1" ry="1.1" transform="rotate(106 340.2 474.9)" fill="#5a68d0" fill-opacity="0.84"/>
<ellipse cx="351.0" cy="437.4" rx="1.5" ry="1.2" transform="rotate(32 351.0 437.4)" fill="#5060cc" fill-opacity="0.71"/>
<ellipse cx="350.2" cy="459.7" rx="1.9" ry="1.4" transform="rotate(6 350.2 459.7)" fill="#5060cc" fill-opacity="0.61"/>
<ellipse cx="300.5" cy="520.9" rx="1.7" ry="1.5" transform="rotate(125 300.5 520.9)" fill="#6270d4" fill-opacity="0.88"/>
<ellipse cx="339.5" cy="473.5" rx="2.3" ry="1.3" transform="rotate(40 339.5 473.5)" fill="#4858c4" fill-opacity="0.88"/>
<ellipse cx="320.9" cy="403.8" rx="2.2" ry="1.5" transform="rotate(33 320.9 403.8)" fill="#6270d4" fill-opacity="0.81"/>
<ellipse cx="368.8" cy="400.5" rx="2.0" ry="1.2" transform="rotate(3 368.8 400.5)" fill="#6270d4" fill-opacity="0.83"/>
<ellipse cx="335.0" cy="446.6" rx="1.5" ry="1.0" transform="rotate(69 335.0 446.6)" fill="#5a68d0" fill-opacity="0.61"/>
<ellipse cx="246.8" cy="498.9" rx="1.5" ry="1.5" transform="rotate(81 246.8 498.9)" fill="#6270d4" fill-opacity="0.90"/>
<ellipse cx="243.3" cy="421.1" rx="1.3" ry="1.2" transform="rotate(119 243.3 421.1)" fill="#5a68d0" fill-opacity="0.74"/>
<ellipse cx="342.7" cy="428.7" rx="1.9" ry="1.0" transform="rotate(46 342.7 428.7)" fill="#5060cc" fill-opacity="0.67"/>
<ellipse cx="303.2" cy="495.9" rx="1.5" ry="1.5" transform="rotate(62 303.2 495.9)" fill="#5a68d0" fill-opacity="0.70"/>
<ellipse cx="261.3" cy="474.1" rx="1.4" ry="1.0" transform="rotate(70 261.3 474.1)" fill="#5a68d0" fill-opacity="0.62"/>
<ellipse cx="268.9" cy="491.3" rx="2.2" ry="1.5" transform="rotate(9 268.9 491.3)" fill="#6270d4" fill-opacity="0.64"/>
<ellipse cx="358.3" cy="451.9" rx="1.5" ry="1.5" transform="rotate(75 358.3 451.9)" fill="#4858c4" fill-opacity="0.78"/>
</g>
<g clip-path="url(#c4)" filter="url(#bl3)">
<circle cx="245.8" cy="416.1" r="1.9" fill="#d4d4de" stroke="#62627a" stroke-opacity="0.71" stroke-width="1.0"/>
<circle cx="228.7" cy="496.1" r="1.9" fill="#d4d4de" stroke="#62627a" stroke-opacity="0.68" stroke-width="1.0"/>
<circle cx="319.6" cy="466.4" r="1.9" fill="#d4d4de" stroke="#62627a" stroke-opacity="0.83" stroke-width="1.0"/>
<circle cx="256.7" cy="403.6" r="1.9" fill="#d4d4de" stroke="#62627a" stroke-opacity="0.73" stroke-width="1.0"/>
<circle cx="323.2" cy="432.7" r="1.9" fill="#d4d4de" stroke="#62627a" stroke-opacity="0.83" stroke-width="1.0"/>
<circle cx="332.6" cy="459.0" r="1.9" fill="#d4d4de" stroke="#62627a" stroke-opacity="0.68" stroke-width="1.0"/>
<circle cx="369.0" cy="415.3" r="1.9" fill="#d4d4de" stroke="#62627a" stroke-opacity="0.88" stroke-width="1.0"/>
<circle cx="374.6" cy="448.1" r="1.9" fill="#d4d4de" stroke="#62627a" stroke-opacity="0.81" stroke-width="1.0"/>
<circle cx="295.4" cy="498.5" r="1.9" fill="#d4d4de" stroke="#62627a" stroke-opacity="0.77" stroke-width="1.0"/>
<circle cx="237.0" cy="394.1" r="1.9" fill="#d4d4de" stroke="#62627a" stroke-opacity="0.64" stroke-width="1.0"/>
<circle cx="352.3" cy="483.0" r="1.9" fill="#d4d4de" stroke="#62627a" stroke-opacity="0.72" stroke-width="1.0"/>
<circle cx="336.7" cy="418.3" r="1.9" fill="#d4d4de" stroke="#62627a" stroke-opacity="0.88" stroke-width="1.0"/>
<circle cx="304.5" cy="436.0" r="1.9" fill="#d4d4de" stroke="#62627a" stroke-opacity="0.66" stroke-width="1.0"/>
<circle cx="366.1" cy="427.8" r="1.9" fill="#d4d4de" stroke="#62627a" stroke-opacity="0.76" stroke-width="1.0"/>
<circle cx="257.7" cy="449.9" r="1.9" fill="#d4d4de" stroke="#62627a" stroke-opacity="0.87" stroke-width="1.0"/>
<circle cx="269.6" cy="488.0" r="1.9" fill="#d4d4de" stroke="#62627a" stroke-opacity="0.88" stroke-width="1.0"/>
<circle cx="351.2" cy="398.1" r="1.9" fill="#d4d4de" stroke="#62627a" stroke-opacity="0.84" stroke-width="1.0"/>
<circle cx="250.9" cy="489.8" r="1.9" fill="#d4d4de" stroke="#62627a" stroke-opacity="0.70" stroke-width="1.0"/>
<circle cx="251.5" cy="518.7" r="1.9" fill="#d4d4de" stroke="#62627a" stroke-opacity="0.74" stroke-width="1.0"/>
<circle cx="374.0" cy="417.3" r="1.9" fill="#d4d4de" stroke="#62627a" stroke-opacity="0.71" stroke-width="1.0"/>
<circle cx="359.6" cy="421.4" r="1.9" fill="#d4d4de" stroke="#62627a" stroke-opacity="0.66" stroke-width="1.0"/>
<circle cx="323.6" cy="491.3" r="1.9" fill="#d4d4de" stroke="#62627a" stroke-opacity="0.63" stroke-width="1.0"/>
<circle cx="347.2" cy="402.0" r="1.9" fill="#d4d4de" stroke="#62627a" stroke-opacity="0.78" stroke-width="1.0"/>
<circle cx="270.1" cy="516.2" r="1.9" fill="#d4d4de" stroke="#62627a" stroke-opacity="0.89" stroke-width="1.0"/>
<circle cx="333.8" cy="425.2" r="1.9" fill="#d4d4de" stroke="#62627a" stroke-opacity="0.62" stroke-width="1.0"/>
<circle cx="335.8" cy="512.1" r="1.9" fill="#d4d4de" stroke="#62627a" stroke-opacity="0.85" stroke-width="1.0"/>
<circle cx="358.7" cy="512.8" r="1.9" fill="#d4d4de" stroke="#62627a" stroke-opacity="0.77" stroke-width="1.0"/>
<circle cx="275.3" cy="419.3" r="1.9" fill="#d4d4de" stroke="#62627a" stroke-opacity="0.62" stroke-width="1.0"/>
<circle cx="368.0" cy="483.3" r="1.9" fill="#d4d4de" stroke="#62627a" stroke-opacity="0.71" stroke-width="1.0"/>
<circle cx="310.9" cy="518.6" r="1.9" fill="#d4d4de" stroke="#62627a" stroke-opacity="0.71" stroke-width="1.0"/>
<circle cx="260.9" cy="438.9" r="1.9" fill="#d4d4de" stroke="#62627a" stroke-opacity="0.88" stroke-width="1.0"/>
<circle cx="353.5" cy="473.3" r="1.9" fill="#d4d4de" stroke="#62627a" stroke-opacity="0.63" stroke-width="1.0"/>
<circle cx="291.2" cy="401.5" r="1.9" fill="#d4d4de" stroke="#62627a" stroke-opacity="0.75" stroke-width="1.0"/>
<circle cx="337.1" cy="422.0" r="1.9" fill="#d4d4de" stroke="#62627a" stroke-opacity="0.63" stroke-width="1.0"/>
<circle cx="367.2" cy="484.9" r="1.9" fill="#d4d4de" stroke="#62627a" stroke-opacity="0.72" stroke-width="1.0"/>
<circle cx="258.4" cy="410.3" r="1.9" fill="#d4d4de" stroke="#62627a" stroke-opacity="0.64" stroke-width="1.0"/>
<circle cx="337.7" cy="440.8" r="1.9" fill="#d4d4de" stroke="#62627a" stroke-opacity="0.72" stroke-width="1.0"/>
<circle cx="374.6" cy="505.1" r="1.9" fill="#d4d4de" stroke="#62627a" stroke-opacity="0.74" stroke-width="1.0"/>
<circle cx="291.9" cy="426.1" r="1.9" fill="#d4d4de" stroke="#62627a" stroke-opacity="0.81" stroke-width="1.0"/>
<circle cx="329.1" cy="456.3" r="1.9" fill="#d4d4de" stroke="#62627a" stroke-opacity="0.78" stroke-width="1.0"/>
<circle cx="352.0" cy="401.1" r="1.9" fill="#d4d4de" stroke="#62627a" stroke-opacity="0.61" stroke-width="1.0"/>
<circle cx="239.1" cy="440.7" r="1.9" fill="#d4d4de" stroke="#62627a" stroke-opacity="0.86" stroke-width="1.0"/>
<circle cx="356.7" cy="391.6" r="1.9" fill="#d4d4de" stroke="#62627a" stroke-opacity="0.68" stroke-width="1.0"/>
<circle cx="376.4" cy="504.9" r="1.9" fill="#d4d4de" stroke="#62627a" stroke-opacity="0.60" stroke-width="1.0"/>
<circle cx="258.8" cy="500.5" r="1.9" fill="#d4d4de" stroke="#62627a" stroke-opacity="0.61" stroke-width="1.0"/>
<circle cx="348.2" cy="389.4" r="1.9" fill="#d4d4de" stroke="#62627a" stroke-opacity="0.87" stroke-width="1.0"/>
</g>
<text x="385.0" y="251.5" font-family="'Liberation Sans', Arial, sans-serif" font-size="15" fill="#111" stroke="#111" stroke-width="0.55">D</text>
<line x1="480.6" y1="299.0" x2="480.6" y2="465.7" stroke="#000" stroke-width="1.9"/>
<line x1="476.40000000000003" y1="464.7" x2="480.6" y2="464.7" stroke="#000" stroke-width="1.8"/>
<text x="474.6" y="469.09999999999997" font-family="'Liberation Sans', Arial, sans-serif" font-size="12.4" font-weight="bold" text-anchor="end" fill="#111" textLength="7.4" lengthAdjust="spacingAndGlyphs">0</text>
<line x1="476.40000000000003" y1="431.65999999999997" x2="480.6" y2="431.65999999999997" stroke="#000" stroke-width="1.8"/>
<text x="474.6" y="436.05999999999995" font-family="'Liberation Sans', Arial, sans-serif" font-size="12.4" font-weight="bold" text-anchor="end" fill="#111" textLength="22.200000000000003" lengthAdjust="spacingAndGlyphs">200</text>
<line x1="476.40000000000003" y1="398.62" x2="480.6" y2="398.62" stroke="#000" stroke-width="1.8"/>
<text x="474.6" y="403.02" font-family="'Liberation Sans', Arial, sans-serif" font-size="12.4" font-weight="bold" text-anchor="end" fill="#111" textLength="22.200000000000003" lengthAdjust="spacingAndGlyphs">400</text>
<line x1="476.40000000000003" y1="365.58" x2="480.6" y2="365.58" stroke="#000" stroke-width="1.8"/>
<text x="474.6" y="369.97999999999996" font-family="'Liberation Sans', Arial, sans-serif" font-size="12.4" font-weight="bold" text-anchor="end" fill="#111" textLength="22.200000000000003" lengthAdjust="spacingAndGlyphs">600</text>
<line x1="476.40000000000003" y1="332.53999999999996" x2="480.6" y2="332.53999999999996" stroke="#000" stroke-width="1.8"/>
<text x="474.6" y="336.93999999999994" font-family="'Liberation Sans', Arial, sans-serif" font-size="12.4" font-weight="bold" text-anchor="end" fill="#111" textLength="22.200000000000003" lengthAdjust="spacingAndGlyphs">800</text>
<line x1="476.40000000000003" y1="299.5" x2="480.6" y2="299.5" stroke="#000" stroke-width="1.8"/>
<text x="474.6" y="303.9" font-family="'Liberation Sans', Arial, sans-serif" font-size="12.4" font-weight="bold" text-anchor="end" fill="#111" textLength="29.6" lengthAdjust="spacingAndGlyphs">1000</text>
<line x1="480.6" y1="464.7" x2="712.5" y2="464.7" stroke="#000" stroke-width="1.9"/>
<line x1="539.3" y1="464.7" x2="539.3" y2="470.2" stroke="#000" stroke-width="1.8"/>
<line x1="655" y1="464.7" x2="655" y2="470.2" stroke="#000" stroke-width="1.8"/>
<rect x="501.9" y="432.3" width="30.700000000000045" height="32.39999999999998" fill="#000"/>
<rect x="545.4" y="339.5" width="31.100000000000023" height="125.19999999999999" fill="#8e8e92"/>
<rect x="618" y="451.8" width="31.200000000000045" height="12.899999999999977" fill="#000"/>
<rect x="661.7" y="400.4" width="30.699999999999932" height="64.30000000000001" fill="#8e8e92"/>
<line x1="517.5" y1="432.3" x2="517.5" y2="428.4" stroke="#000" stroke-width="1.8"/>
<line x1="510.1" y1="428.4" x2="524.9" y2="428.4" stroke="#000" stroke-width="1.9"/>
<line x1="561.7" y1="339.5" x2="561.7" y2="331" stroke="#000" stroke-width="1.8"/>
<line x1="554.1" y1="331" x2="569.3000000000001" y2="331" stroke="#000" stroke-width="1.9"/>
<line x1="633.6" y1="451.8" x2="633.6" y2="450" stroke="#000" stroke-width="1.8"/>
<line x1="626.3000000000001" y1="450" x2="640.9" y2="450" stroke="#000" stroke-width="1.9"/>
<line x1="676.9" y1="400.4" x2="676.9" y2="389.2" stroke="#000" stroke-width="1.8"/>
<line x1="669.3" y1="389.2" x2="684.5" y2="389.2" stroke="#000" stroke-width="1.9"/>
<line x1="492.3" y1="328.3" x2="561" y2="328.3" stroke="#000" stroke-width="2.6"/>
<text x="531.7" y="331.1" font-family="'Liberation Sans', Arial, sans-serif" font-size="18" font-weight="bold" text-anchor="middle" fill="#000" textLength="15.2" lengthAdjust="spacingAndGlyphs">**</text>
<line x1="628.1" y1="380.3" x2="686.8" y2="380.3" stroke="#000" stroke-width="2.6"/>
<text x="654.6" y="380.3" font-family="'Liberation Sans', Arial, sans-serif" font-size="18" font-weight="bold" text-anchor="middle" fill="#000" textLength="15.2" lengthAdjust="spacingAndGlyphs">**</text>
<text transform="translate(426.5,378.8) rotate(-90)" font-family="'Liberation Sans', Arial, sans-serif" font-size="12" font-weight="bold" text-anchor="middle" fill="#111" textLength="58.6" lengthAdjust="spacingAndGlyphs">NO. cells</text>
<text transform="translate(522.7410183875531,501.54101838755304) rotate(-45)" font-family="'Liberation Sans', Arial, sans-serif" font-size="12" font-weight="bold" text-anchor="middle" fill="#111" textLength="57.5" lengthAdjust="spacingAndGlyphs">QBC-939</text>
<text transform="translate(648.2410183875531,490.04101838755304) rotate(-45)" font-family="'Liberation Sans', Arial, sans-serif" font-size="12" font-weight="bold" text-anchor="middle" fill="#111" textLength="30.5" lengthAdjust="spacingAndGlyphs">RBE</text>
<rect x="487.2" y="262.3" width="17.9" height="11.2" fill="#000"/>
<rect x="487.2" y="298.1" width="17.9" height="12.3" fill="#9a9a9c"/>
<text x="514" y="272.6" font-family="'Liberation Sans', Arial, sans-serif" font-size="12.4" fill="#222" textLength="71.7" lengthAdjust="spacingAndGlyphs">Mir-129-2-3p</text>
<text x="514" y="288.5" font-family="'Liberation Sans', Arial, sans-serif" font-size="12.4" fill="#222" textLength="38.8" lengthAdjust="spacingAndGlyphs">mimics</text>
<text x="514" y="308.5" font-family="'Liberation Sans', Arial, sans-serif" font-size="12.4" fill="#222" textLength="39.9" lengthAdjust="spacingAndGlyphs">Mir-NC</text>
</svg></body></html>
